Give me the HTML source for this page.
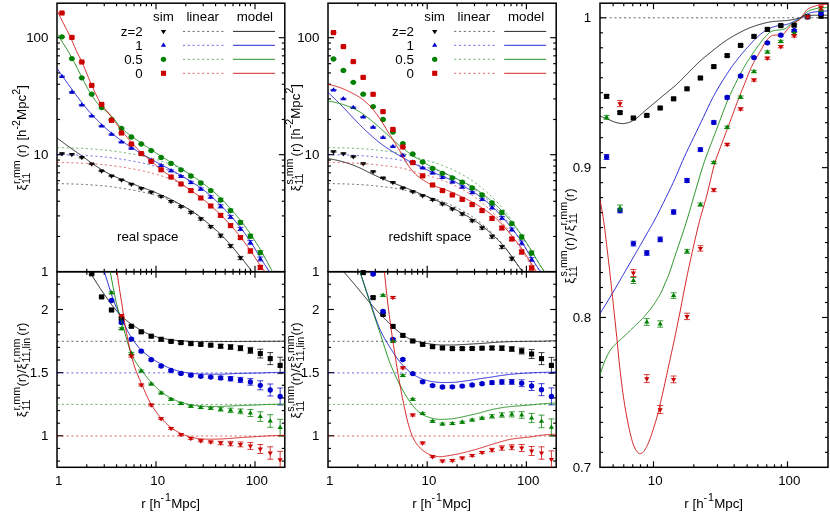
<!DOCTYPE html>
<html lang="en">
<head>
<meta charset="utf-8">
<title>Correlation function comparison</title>
<style>
html,body{margin:0;padding:0;background:#fff;}
body{width:830px;height:515px;overflow:hidden;}
svg{display:block;will-change:transform;}
</style>
</head>
<body>
<svg width="830" height="515" viewBox="0 0 830 515" font-family="Liberation Sans, Arial, Helvetica, sans-serif" fill="#000">
<rect x="0" y="0" width="830" height="515" fill="#fff"/>
<defs>
<clipPath id="c1"><rect x="57" y="3.2" width="227.8" height="268.5"/></clipPath>
<clipPath id="c2"><rect x="328" y="3.2" width="228.2" height="268.5"/></clipPath>
<clipPath id="c3"><rect x="57" y="271.7" width="227.8" height="195.6"/></clipPath>
<clipPath id="c4"><rect x="328" y="271.7" width="228.2" height="195.6"/></clipPath>
<clipPath id="c5"><rect x="600" y="3.2" width="228" height="464.1"/></clipPath>
</defs>
<g stroke="#000" stroke-width="1.15">
<line x1="86.8" y1="271.7" x2="86.8" y2="268.7"/>
<line x1="86.8" y1="3.2" x2="86.8" y2="6.2"/>
<line x1="104.24" y1="271.7" x2="104.24" y2="268.7"/>
<line x1="104.24" y1="3.2" x2="104.24" y2="6.2"/>
<line x1="116.6" y1="271.7" x2="116.6" y2="268.7"/>
<line x1="116.6" y1="3.2" x2="116.6" y2="6.2"/>
<line x1="126.2" y1="271.7" x2="126.2" y2="268.7"/>
<line x1="126.2" y1="3.2" x2="126.2" y2="6.2"/>
<line x1="134.04" y1="271.7" x2="134.04" y2="268.7"/>
<line x1="134.04" y1="3.2" x2="134.04" y2="6.2"/>
<line x1="140.66" y1="271.7" x2="140.66" y2="268.7"/>
<line x1="140.66" y1="3.2" x2="140.66" y2="6.2"/>
<line x1="146.41" y1="271.7" x2="146.41" y2="268.7"/>
<line x1="146.41" y1="3.2" x2="146.41" y2="6.2"/>
<line x1="151.47" y1="271.7" x2="151.47" y2="268.7"/>
<line x1="151.47" y1="3.2" x2="151.47" y2="6.2"/>
<line x1="156" y1="271.7" x2="156" y2="265.7"/>
<line x1="156" y1="3.2" x2="156" y2="9.2"/>
<line x1="185.8" y1="271.7" x2="185.8" y2="268.7"/>
<line x1="185.8" y1="3.2" x2="185.8" y2="6.2"/>
<line x1="203.24" y1="271.7" x2="203.24" y2="268.7"/>
<line x1="203.24" y1="3.2" x2="203.24" y2="6.2"/>
<line x1="215.6" y1="271.7" x2="215.6" y2="268.7"/>
<line x1="215.6" y1="3.2" x2="215.6" y2="6.2"/>
<line x1="225.2" y1="271.7" x2="225.2" y2="268.7"/>
<line x1="225.2" y1="3.2" x2="225.2" y2="6.2"/>
<line x1="233.04" y1="271.7" x2="233.04" y2="268.7"/>
<line x1="233.04" y1="3.2" x2="233.04" y2="6.2"/>
<line x1="239.66" y1="271.7" x2="239.66" y2="268.7"/>
<line x1="239.66" y1="3.2" x2="239.66" y2="6.2"/>
<line x1="245.41" y1="271.7" x2="245.41" y2="268.7"/>
<line x1="245.41" y1="3.2" x2="245.41" y2="6.2"/>
<line x1="250.47" y1="271.7" x2="250.47" y2="268.7"/>
<line x1="250.47" y1="3.2" x2="250.47" y2="6.2"/>
<line x1="255" y1="271.7" x2="255" y2="265.7"/>
<line x1="255" y1="3.2" x2="255" y2="9.2"/>
<line x1="86.8" y1="467.3" x2="86.8" y2="464.3"/>
<line x1="86.8" y1="271.7" x2="86.8" y2="274.7"/>
<line x1="104.24" y1="467.3" x2="104.24" y2="464.3"/>
<line x1="104.24" y1="271.7" x2="104.24" y2="274.7"/>
<line x1="116.6" y1="467.3" x2="116.6" y2="464.3"/>
<line x1="116.6" y1="271.7" x2="116.6" y2="274.7"/>
<line x1="126.2" y1="467.3" x2="126.2" y2="464.3"/>
<line x1="126.2" y1="271.7" x2="126.2" y2="274.7"/>
<line x1="134.04" y1="467.3" x2="134.04" y2="464.3"/>
<line x1="134.04" y1="271.7" x2="134.04" y2="274.7"/>
<line x1="140.66" y1="467.3" x2="140.66" y2="464.3"/>
<line x1="140.66" y1="271.7" x2="140.66" y2="274.7"/>
<line x1="146.41" y1="467.3" x2="146.41" y2="464.3"/>
<line x1="146.41" y1="271.7" x2="146.41" y2="274.7"/>
<line x1="151.47" y1="467.3" x2="151.47" y2="464.3"/>
<line x1="151.47" y1="271.7" x2="151.47" y2="274.7"/>
<line x1="156" y1="467.3" x2="156" y2="461.3"/>
<line x1="156" y1="271.7" x2="156" y2="277.7"/>
<line x1="185.8" y1="467.3" x2="185.8" y2="464.3"/>
<line x1="185.8" y1="271.7" x2="185.8" y2="274.7"/>
<line x1="203.24" y1="467.3" x2="203.24" y2="464.3"/>
<line x1="203.24" y1="271.7" x2="203.24" y2="274.7"/>
<line x1="215.6" y1="467.3" x2="215.6" y2="464.3"/>
<line x1="215.6" y1="271.7" x2="215.6" y2="274.7"/>
<line x1="225.2" y1="467.3" x2="225.2" y2="464.3"/>
<line x1="225.2" y1="271.7" x2="225.2" y2="274.7"/>
<line x1="233.04" y1="467.3" x2="233.04" y2="464.3"/>
<line x1="233.04" y1="271.7" x2="233.04" y2="274.7"/>
<line x1="239.66" y1="467.3" x2="239.66" y2="464.3"/>
<line x1="239.66" y1="271.7" x2="239.66" y2="274.7"/>
<line x1="245.41" y1="467.3" x2="245.41" y2="464.3"/>
<line x1="245.41" y1="271.7" x2="245.41" y2="274.7"/>
<line x1="250.47" y1="467.3" x2="250.47" y2="464.3"/>
<line x1="250.47" y1="271.7" x2="250.47" y2="274.7"/>
<line x1="255" y1="467.3" x2="255" y2="461.3"/>
<line x1="255" y1="271.7" x2="255" y2="277.7"/>
<line x1="357.86" y1="271.7" x2="357.86" y2="268.7"/>
<line x1="357.86" y1="3.2" x2="357.86" y2="6.2"/>
<line x1="375.33" y1="271.7" x2="375.33" y2="268.7"/>
<line x1="375.33" y1="3.2" x2="375.33" y2="6.2"/>
<line x1="387.72" y1="271.7" x2="387.72" y2="268.7"/>
<line x1="387.72" y1="3.2" x2="387.72" y2="6.2"/>
<line x1="397.34" y1="271.7" x2="397.34" y2="268.7"/>
<line x1="397.34" y1="3.2" x2="397.34" y2="6.2"/>
<line x1="405.19" y1="271.7" x2="405.19" y2="268.7"/>
<line x1="405.19" y1="3.2" x2="405.19" y2="6.2"/>
<line x1="411.83" y1="271.7" x2="411.83" y2="268.7"/>
<line x1="411.83" y1="3.2" x2="411.83" y2="6.2"/>
<line x1="417.59" y1="271.7" x2="417.59" y2="268.7"/>
<line x1="417.59" y1="3.2" x2="417.59" y2="6.2"/>
<line x1="422.66" y1="271.7" x2="422.66" y2="268.7"/>
<line x1="422.66" y1="3.2" x2="422.66" y2="6.2"/>
<line x1="427.2" y1="271.7" x2="427.2" y2="265.7"/>
<line x1="427.2" y1="3.2" x2="427.2" y2="9.2"/>
<line x1="457.06" y1="271.7" x2="457.06" y2="268.7"/>
<line x1="457.06" y1="3.2" x2="457.06" y2="6.2"/>
<line x1="474.53" y1="271.7" x2="474.53" y2="268.7"/>
<line x1="474.53" y1="3.2" x2="474.53" y2="6.2"/>
<line x1="486.92" y1="271.7" x2="486.92" y2="268.7"/>
<line x1="486.92" y1="3.2" x2="486.92" y2="6.2"/>
<line x1="496.54" y1="271.7" x2="496.54" y2="268.7"/>
<line x1="496.54" y1="3.2" x2="496.54" y2="6.2"/>
<line x1="504.39" y1="271.7" x2="504.39" y2="268.7"/>
<line x1="504.39" y1="3.2" x2="504.39" y2="6.2"/>
<line x1="511.03" y1="271.7" x2="511.03" y2="268.7"/>
<line x1="511.03" y1="3.2" x2="511.03" y2="6.2"/>
<line x1="516.79" y1="271.7" x2="516.79" y2="268.7"/>
<line x1="516.79" y1="3.2" x2="516.79" y2="6.2"/>
<line x1="521.86" y1="271.7" x2="521.86" y2="268.7"/>
<line x1="521.86" y1="3.2" x2="521.86" y2="6.2"/>
<line x1="526.4" y1="271.7" x2="526.4" y2="265.7"/>
<line x1="526.4" y1="3.2" x2="526.4" y2="9.2"/>
<line x1="357.86" y1="467.3" x2="357.86" y2="464.3"/>
<line x1="357.86" y1="271.7" x2="357.86" y2="274.7"/>
<line x1="375.33" y1="467.3" x2="375.33" y2="464.3"/>
<line x1="375.33" y1="271.7" x2="375.33" y2="274.7"/>
<line x1="387.72" y1="467.3" x2="387.72" y2="464.3"/>
<line x1="387.72" y1="271.7" x2="387.72" y2="274.7"/>
<line x1="397.34" y1="467.3" x2="397.34" y2="464.3"/>
<line x1="397.34" y1="271.7" x2="397.34" y2="274.7"/>
<line x1="405.19" y1="467.3" x2="405.19" y2="464.3"/>
<line x1="405.19" y1="271.7" x2="405.19" y2="274.7"/>
<line x1="411.83" y1="467.3" x2="411.83" y2="464.3"/>
<line x1="411.83" y1="271.7" x2="411.83" y2="274.7"/>
<line x1="417.59" y1="467.3" x2="417.59" y2="464.3"/>
<line x1="417.59" y1="271.7" x2="417.59" y2="274.7"/>
<line x1="422.66" y1="467.3" x2="422.66" y2="464.3"/>
<line x1="422.66" y1="271.7" x2="422.66" y2="274.7"/>
<line x1="427.2" y1="467.3" x2="427.2" y2="461.3"/>
<line x1="427.2" y1="271.7" x2="427.2" y2="277.7"/>
<line x1="457.06" y1="467.3" x2="457.06" y2="464.3"/>
<line x1="457.06" y1="271.7" x2="457.06" y2="274.7"/>
<line x1="474.53" y1="467.3" x2="474.53" y2="464.3"/>
<line x1="474.53" y1="271.7" x2="474.53" y2="274.7"/>
<line x1="486.92" y1="467.3" x2="486.92" y2="464.3"/>
<line x1="486.92" y1="271.7" x2="486.92" y2="274.7"/>
<line x1="496.54" y1="467.3" x2="496.54" y2="464.3"/>
<line x1="496.54" y1="271.7" x2="496.54" y2="274.7"/>
<line x1="504.39" y1="467.3" x2="504.39" y2="464.3"/>
<line x1="504.39" y1="271.7" x2="504.39" y2="274.7"/>
<line x1="511.03" y1="467.3" x2="511.03" y2="464.3"/>
<line x1="511.03" y1="271.7" x2="511.03" y2="274.7"/>
<line x1="516.79" y1="467.3" x2="516.79" y2="464.3"/>
<line x1="516.79" y1="271.7" x2="516.79" y2="274.7"/>
<line x1="521.86" y1="467.3" x2="521.86" y2="464.3"/>
<line x1="521.86" y1="271.7" x2="521.86" y2="274.7"/>
<line x1="526.4" y1="467.3" x2="526.4" y2="461.3"/>
<line x1="526.4" y1="271.7" x2="526.4" y2="277.7"/>
<line x1="613.16" y1="467.3" x2="613.16" y2="464.3"/>
<line x1="613.16" y1="3.2" x2="613.16" y2="6.2"/>
<line x1="623.77" y1="467.3" x2="623.77" y2="464.3"/>
<line x1="623.77" y1="3.2" x2="623.77" y2="6.2"/>
<line x1="632.74" y1="467.3" x2="632.74" y2="464.3"/>
<line x1="632.74" y1="3.2" x2="632.74" y2="6.2"/>
<line x1="640.51" y1="467.3" x2="640.51" y2="464.3"/>
<line x1="640.51" y1="3.2" x2="640.51" y2="6.2"/>
<line x1="647.37" y1="467.3" x2="647.37" y2="464.3"/>
<line x1="647.37" y1="3.2" x2="647.37" y2="6.2"/>
<line x1="653.5" y1="467.3" x2="653.5" y2="461.3"/>
<line x1="653.5" y1="3.2" x2="653.5" y2="9.2"/>
<line x1="693.84" y1="467.3" x2="693.84" y2="464.3"/>
<line x1="693.84" y1="3.2" x2="693.84" y2="6.2"/>
<line x1="717.43" y1="467.3" x2="717.43" y2="464.3"/>
<line x1="717.43" y1="3.2" x2="717.43" y2="6.2"/>
<line x1="734.18" y1="467.3" x2="734.18" y2="464.3"/>
<line x1="734.18" y1="3.2" x2="734.18" y2="6.2"/>
<line x1="747.16" y1="467.3" x2="747.16" y2="464.3"/>
<line x1="747.16" y1="3.2" x2="747.16" y2="6.2"/>
<line x1="757.77" y1="467.3" x2="757.77" y2="464.3"/>
<line x1="757.77" y1="3.2" x2="757.77" y2="6.2"/>
<line x1="766.74" y1="467.3" x2="766.74" y2="464.3"/>
<line x1="766.74" y1="3.2" x2="766.74" y2="6.2"/>
<line x1="774.51" y1="467.3" x2="774.51" y2="464.3"/>
<line x1="774.51" y1="3.2" x2="774.51" y2="6.2"/>
<line x1="781.37" y1="467.3" x2="781.37" y2="464.3"/>
<line x1="781.37" y1="3.2" x2="781.37" y2="6.2"/>
<line x1="787.5" y1="467.3" x2="787.5" y2="461.3"/>
<line x1="787.5" y1="3.2" x2="787.5" y2="9.2"/>
<line x1="57" y1="236.48" x2="60" y2="236.48"/>
<line x1="284.8" y1="236.48" x2="281.8" y2="236.48"/>
<line x1="57" y1="215.88" x2="60" y2="215.88"/>
<line x1="284.8" y1="215.88" x2="281.8" y2="215.88"/>
<line x1="57" y1="201.26" x2="60" y2="201.26"/>
<line x1="284.8" y1="201.26" x2="281.8" y2="201.26"/>
<line x1="57" y1="189.92" x2="60" y2="189.92"/>
<line x1="284.8" y1="189.92" x2="281.8" y2="189.92"/>
<line x1="57" y1="180.66" x2="60" y2="180.66"/>
<line x1="284.8" y1="180.66" x2="281.8" y2="180.66"/>
<line x1="57" y1="172.82" x2="60" y2="172.82"/>
<line x1="284.8" y1="172.82" x2="281.8" y2="172.82"/>
<line x1="57" y1="166.04" x2="60" y2="166.04"/>
<line x1="284.8" y1="166.04" x2="281.8" y2="166.04"/>
<line x1="57" y1="160.05" x2="60" y2="160.05"/>
<line x1="284.8" y1="160.05" x2="281.8" y2="160.05"/>
<line x1="57" y1="154.7" x2="63" y2="154.7"/>
<line x1="284.8" y1="154.7" x2="278.8" y2="154.7"/>
<line x1="57" y1="119.48" x2="60" y2="119.48"/>
<line x1="284.8" y1="119.48" x2="281.8" y2="119.48"/>
<line x1="57" y1="98.88" x2="60" y2="98.88"/>
<line x1="284.8" y1="98.88" x2="281.8" y2="98.88"/>
<line x1="57" y1="84.26" x2="60" y2="84.26"/>
<line x1="284.8" y1="84.26" x2="281.8" y2="84.26"/>
<line x1="57" y1="72.92" x2="60" y2="72.92"/>
<line x1="284.8" y1="72.92" x2="281.8" y2="72.92"/>
<line x1="57" y1="63.66" x2="60" y2="63.66"/>
<line x1="284.8" y1="63.66" x2="281.8" y2="63.66"/>
<line x1="57" y1="55.82" x2="60" y2="55.82"/>
<line x1="284.8" y1="55.82" x2="281.8" y2="55.82"/>
<line x1="57" y1="49.04" x2="60" y2="49.04"/>
<line x1="284.8" y1="49.04" x2="281.8" y2="49.04"/>
<line x1="57" y1="43.05" x2="60" y2="43.05"/>
<line x1="284.8" y1="43.05" x2="281.8" y2="43.05"/>
<line x1="57" y1="37.7" x2="63" y2="37.7"/>
<line x1="284.8" y1="37.7" x2="278.8" y2="37.7"/>
<line x1="328" y1="236.48" x2="331" y2="236.48"/>
<line x1="556.2" y1="236.48" x2="553.2" y2="236.48"/>
<line x1="328" y1="215.88" x2="331" y2="215.88"/>
<line x1="556.2" y1="215.88" x2="553.2" y2="215.88"/>
<line x1="328" y1="201.26" x2="331" y2="201.26"/>
<line x1="556.2" y1="201.26" x2="553.2" y2="201.26"/>
<line x1="328" y1="189.92" x2="331" y2="189.92"/>
<line x1="556.2" y1="189.92" x2="553.2" y2="189.92"/>
<line x1="328" y1="180.66" x2="331" y2="180.66"/>
<line x1="556.2" y1="180.66" x2="553.2" y2="180.66"/>
<line x1="328" y1="172.82" x2="331" y2="172.82"/>
<line x1="556.2" y1="172.82" x2="553.2" y2="172.82"/>
<line x1="328" y1="166.04" x2="331" y2="166.04"/>
<line x1="556.2" y1="166.04" x2="553.2" y2="166.04"/>
<line x1="328" y1="160.05" x2="331" y2="160.05"/>
<line x1="556.2" y1="160.05" x2="553.2" y2="160.05"/>
<line x1="328" y1="154.7" x2="334" y2="154.7"/>
<line x1="556.2" y1="154.7" x2="550.2" y2="154.7"/>
<line x1="328" y1="119.48" x2="331" y2="119.48"/>
<line x1="556.2" y1="119.48" x2="553.2" y2="119.48"/>
<line x1="328" y1="98.88" x2="331" y2="98.88"/>
<line x1="556.2" y1="98.88" x2="553.2" y2="98.88"/>
<line x1="328" y1="84.26" x2="331" y2="84.26"/>
<line x1="556.2" y1="84.26" x2="553.2" y2="84.26"/>
<line x1="328" y1="72.92" x2="331" y2="72.92"/>
<line x1="556.2" y1="72.92" x2="553.2" y2="72.92"/>
<line x1="328" y1="63.66" x2="331" y2="63.66"/>
<line x1="556.2" y1="63.66" x2="553.2" y2="63.66"/>
<line x1="328" y1="55.82" x2="331" y2="55.82"/>
<line x1="556.2" y1="55.82" x2="553.2" y2="55.82"/>
<line x1="328" y1="49.04" x2="331" y2="49.04"/>
<line x1="556.2" y1="49.04" x2="553.2" y2="49.04"/>
<line x1="328" y1="43.05" x2="331" y2="43.05"/>
<line x1="556.2" y1="43.05" x2="553.2" y2="43.05"/>
<line x1="328" y1="37.7" x2="334" y2="37.7"/>
<line x1="556.2" y1="37.7" x2="550.2" y2="37.7"/>
<line x1="57" y1="461.06" x2="60" y2="461.06"/>
<line x1="284.8" y1="461.06" x2="281.8" y2="461.06"/>
<line x1="57" y1="448.43" x2="60" y2="448.43"/>
<line x1="284.8" y1="448.43" x2="281.8" y2="448.43"/>
<line x1="57" y1="435.8" x2="63" y2="435.8"/>
<line x1="284.8" y1="435.8" x2="278.8" y2="435.8"/>
<line x1="57" y1="423.17" x2="60" y2="423.17"/>
<line x1="284.8" y1="423.17" x2="281.8" y2="423.17"/>
<line x1="57" y1="410.54" x2="60" y2="410.54"/>
<line x1="284.8" y1="410.54" x2="281.8" y2="410.54"/>
<line x1="57" y1="397.91" x2="60" y2="397.91"/>
<line x1="284.8" y1="397.91" x2="281.8" y2="397.91"/>
<line x1="57" y1="385.28" x2="60" y2="385.28"/>
<line x1="284.8" y1="385.28" x2="281.8" y2="385.28"/>
<line x1="57" y1="372.65" x2="63" y2="372.65"/>
<line x1="284.8" y1="372.65" x2="278.8" y2="372.65"/>
<line x1="57" y1="360.02" x2="60" y2="360.02"/>
<line x1="284.8" y1="360.02" x2="281.8" y2="360.02"/>
<line x1="57" y1="347.39" x2="60" y2="347.39"/>
<line x1="284.8" y1="347.39" x2="281.8" y2="347.39"/>
<line x1="57" y1="334.76" x2="60" y2="334.76"/>
<line x1="284.8" y1="334.76" x2="281.8" y2="334.76"/>
<line x1="57" y1="322.13" x2="60" y2="322.13"/>
<line x1="284.8" y1="322.13" x2="281.8" y2="322.13"/>
<line x1="57" y1="309.5" x2="63" y2="309.5"/>
<line x1="284.8" y1="309.5" x2="278.8" y2="309.5"/>
<line x1="57" y1="296.87" x2="60" y2="296.87"/>
<line x1="284.8" y1="296.87" x2="281.8" y2="296.87"/>
<line x1="57" y1="284.24" x2="60" y2="284.24"/>
<line x1="284.8" y1="284.24" x2="281.8" y2="284.24"/>
<line x1="328" y1="461.06" x2="331" y2="461.06"/>
<line x1="556.2" y1="461.06" x2="553.2" y2="461.06"/>
<line x1="328" y1="448.43" x2="331" y2="448.43"/>
<line x1="556.2" y1="448.43" x2="553.2" y2="448.43"/>
<line x1="328" y1="435.8" x2="334" y2="435.8"/>
<line x1="556.2" y1="435.8" x2="550.2" y2="435.8"/>
<line x1="328" y1="423.17" x2="331" y2="423.17"/>
<line x1="556.2" y1="423.17" x2="553.2" y2="423.17"/>
<line x1="328" y1="410.54" x2="331" y2="410.54"/>
<line x1="556.2" y1="410.54" x2="553.2" y2="410.54"/>
<line x1="328" y1="397.91" x2="331" y2="397.91"/>
<line x1="556.2" y1="397.91" x2="553.2" y2="397.91"/>
<line x1="328" y1="385.28" x2="331" y2="385.28"/>
<line x1="556.2" y1="385.28" x2="553.2" y2="385.28"/>
<line x1="328" y1="372.65" x2="334" y2="372.65"/>
<line x1="556.2" y1="372.65" x2="550.2" y2="372.65"/>
<line x1="328" y1="360.02" x2="331" y2="360.02"/>
<line x1="556.2" y1="360.02" x2="553.2" y2="360.02"/>
<line x1="328" y1="347.39" x2="331" y2="347.39"/>
<line x1="556.2" y1="347.39" x2="553.2" y2="347.39"/>
<line x1="328" y1="334.76" x2="331" y2="334.76"/>
<line x1="556.2" y1="334.76" x2="553.2" y2="334.76"/>
<line x1="328" y1="322.13" x2="331" y2="322.13"/>
<line x1="556.2" y1="322.13" x2="553.2" y2="322.13"/>
<line x1="328" y1="309.5" x2="334" y2="309.5"/>
<line x1="556.2" y1="309.5" x2="550.2" y2="309.5"/>
<line x1="328" y1="296.87" x2="331" y2="296.87"/>
<line x1="556.2" y1="296.87" x2="553.2" y2="296.87"/>
<line x1="328" y1="284.24" x2="331" y2="284.24"/>
<line x1="556.2" y1="284.24" x2="553.2" y2="284.24"/>
<line x1="600" y1="452.32" x2="603" y2="452.32"/>
<line x1="828" y1="452.32" x2="825" y2="452.32"/>
<line x1="600" y1="437.33" x2="603" y2="437.33"/>
<line x1="828" y1="437.33" x2="825" y2="437.33"/>
<line x1="600" y1="422.35" x2="603" y2="422.35"/>
<line x1="828" y1="422.35" x2="825" y2="422.35"/>
<line x1="600" y1="407.37" x2="603" y2="407.37"/>
<line x1="828" y1="407.37" x2="825" y2="407.37"/>
<line x1="600" y1="392.38" x2="603" y2="392.38"/>
<line x1="828" y1="392.38" x2="825" y2="392.38"/>
<line x1="600" y1="377.4" x2="603" y2="377.4"/>
<line x1="828" y1="377.4" x2="825" y2="377.4"/>
<line x1="600" y1="362.42" x2="603" y2="362.42"/>
<line x1="828" y1="362.42" x2="825" y2="362.42"/>
<line x1="600" y1="347.44" x2="603" y2="347.44"/>
<line x1="828" y1="347.44" x2="825" y2="347.44"/>
<line x1="600" y1="332.45" x2="603" y2="332.45"/>
<line x1="828" y1="332.45" x2="825" y2="332.45"/>
<line x1="600" y1="317.47" x2="606" y2="317.47"/>
<line x1="828" y1="317.47" x2="822" y2="317.47"/>
<line x1="600" y1="302.49" x2="603" y2="302.49"/>
<line x1="828" y1="302.49" x2="825" y2="302.49"/>
<line x1="600" y1="287.5" x2="603" y2="287.5"/>
<line x1="828" y1="287.5" x2="825" y2="287.5"/>
<line x1="600" y1="272.52" x2="603" y2="272.52"/>
<line x1="828" y1="272.52" x2="825" y2="272.52"/>
<line x1="600" y1="257.54" x2="603" y2="257.54"/>
<line x1="828" y1="257.54" x2="825" y2="257.54"/>
<line x1="600" y1="242.55" x2="603" y2="242.55"/>
<line x1="828" y1="242.55" x2="825" y2="242.55"/>
<line x1="600" y1="227.57" x2="603" y2="227.57"/>
<line x1="828" y1="227.57" x2="825" y2="227.57"/>
<line x1="600" y1="212.59" x2="603" y2="212.59"/>
<line x1="828" y1="212.59" x2="825" y2="212.59"/>
<line x1="600" y1="197.61" x2="603" y2="197.61"/>
<line x1="828" y1="197.61" x2="825" y2="197.61"/>
<line x1="600" y1="182.62" x2="603" y2="182.62"/>
<line x1="828" y1="182.62" x2="825" y2="182.62"/>
<line x1="600" y1="167.64" x2="606" y2="167.64"/>
<line x1="828" y1="167.64" x2="822" y2="167.64"/>
<line x1="600" y1="152.66" x2="603" y2="152.66"/>
<line x1="828" y1="152.66" x2="825" y2="152.66"/>
<line x1="600" y1="137.67" x2="603" y2="137.67"/>
<line x1="828" y1="137.67" x2="825" y2="137.67"/>
<line x1="600" y1="122.69" x2="603" y2="122.69"/>
<line x1="828" y1="122.69" x2="825" y2="122.69"/>
<line x1="600" y1="107.71" x2="603" y2="107.71"/>
<line x1="828" y1="107.71" x2="825" y2="107.71"/>
<line x1="600" y1="92.73" x2="603" y2="92.73"/>
<line x1="828" y1="92.73" x2="825" y2="92.73"/>
<line x1="600" y1="77.74" x2="603" y2="77.74"/>
<line x1="828" y1="77.74" x2="825" y2="77.74"/>
<line x1="600" y1="62.76" x2="603" y2="62.76"/>
<line x1="828" y1="62.76" x2="825" y2="62.76"/>
<line x1="600" y1="47.78" x2="603" y2="47.78"/>
<line x1="828" y1="47.78" x2="825" y2="47.78"/>
<line x1="600" y1="32.79" x2="603" y2="32.79"/>
<line x1="828" y1="32.79" x2="825" y2="32.79"/>
<line x1="600" y1="17.81" x2="606" y2="17.81"/>
<line x1="828" y1="17.81" x2="822" y2="17.81"/>
</g>
<rect x="57" y="3.2" width="227.8" height="268.5" fill="none" stroke="#000" stroke-width="1.5"/>
<rect x="328" y="3.2" width="228.2" height="268.5" fill="none" stroke="#000" stroke-width="1.5"/>
<rect x="57" y="271.7" width="227.8" height="195.6" fill="none" stroke="#000" stroke-width="1.5"/>
<rect x="328" y="271.7" width="228.2" height="195.6" fill="none" stroke="#000" stroke-width="1.5"/>
<rect x="600" y="3.2" width="228" height="464.1" fill="none" stroke="#000" stroke-width="1.5"/>
<g id="panel1">
<path clip-path="url(#c1)" d="M61.95 153.05V154.15M58.95 153.05H64.95M58.95 154.15H64.95" stroke="#000000" stroke-width="0.75" fill="none"/>
<path clip-path="url(#c1)" d="M71.87 153.85V154.95M68.87 153.85H74.87M68.87 154.95H74.87" stroke="#000000" stroke-width="0.75" fill="none"/>
<path clip-path="url(#c1)" d="M81.79 156.85V157.95M78.79 156.85H84.79M78.79 157.95H84.79" stroke="#000000" stroke-width="0.75" fill="none"/>
<path clip-path="url(#c1)" d="M91.7 163.45V164.55M88.7 163.45H94.7M88.7 164.55H94.7" stroke="#000000" stroke-width="0.75" fill="none"/>
<path clip-path="url(#c1)" d="M101.62 170.45V171.55M98.62 170.45H104.62M98.62 171.55H104.62" stroke="#000000" stroke-width="0.75" fill="none"/>
<path clip-path="url(#c1)" d="M111.54 175.45V176.55M108.54 175.45H114.54M108.54 176.55H114.54" stroke="#000000" stroke-width="0.75" fill="none"/>
<path clip-path="url(#c1)" d="M121.46 179.45V180.55M118.46 179.45H124.46M118.46 180.55H124.46" stroke="#000000" stroke-width="0.75" fill="none"/>
<path clip-path="url(#c1)" d="M131.38 183.65V184.75M128.38 183.65H134.38M128.38 184.75H134.38" stroke="#000000" stroke-width="0.75" fill="none"/>
<path clip-path="url(#c1)" d="M141.29 187.85V188.95M138.29 187.85H144.29M138.29 188.95H144.29" stroke="#000000" stroke-width="0.75" fill="none"/>
<path clip-path="url(#c1)" d="M151.21 191.65V192.75M148.21 191.65H154.21M148.21 192.75H154.21" stroke="#000000" stroke-width="0.75" fill="none"/>
<path clip-path="url(#c1)" d="M161.13 195.5V197.3M158.13 195.5H164.13M158.13 197.3H164.13" stroke="#000000" stroke-width="0.75" fill="none"/>
<path clip-path="url(#c1)" d="M171.05 200.5V202.3M168.05 200.5H174.05M168.05 202.3H174.05" stroke="#000000" stroke-width="0.75" fill="none"/>
<path clip-path="url(#c1)" d="M180.97 205.7V207.5M177.97 205.7H183.97M177.97 207.5H183.97" stroke="#000000" stroke-width="0.75" fill="none"/>
<path clip-path="url(#c1)" d="M190.88 211.2V213.6M187.88 211.2H193.88M187.88 213.6H193.88" stroke="#000000" stroke-width="0.75" fill="none"/>
<path clip-path="url(#c1)" d="M200.8 217.8V220.2M197.8 217.8H203.8M197.8 220.2H203.8" stroke="#000000" stroke-width="0.75" fill="none"/>
<path clip-path="url(#c1)" d="M210.72 225.4V227.8M207.72 225.4H213.72M207.72 227.8H213.72" stroke="#000000" stroke-width="0.75" fill="none"/>
<path clip-path="url(#c1)" d="M220.64 234V237.2M217.64 234H223.64M217.64 237.2H223.64" stroke="#000000" stroke-width="0.75" fill="none"/>
<path clip-path="url(#c1)" d="M230.56 244.4V247.6M227.56 244.4H233.56M227.56 247.6H233.56" stroke="#000000" stroke-width="0.75" fill="none"/>
<path clip-path="url(#c1)" d="M240.47 256.4V259.6M237.47 256.4H243.47M237.47 259.6H243.47" stroke="#000000" stroke-width="0.75" fill="none"/>
<polygon points="61.95,156.45 59.3,152.15 64.6,152.15" fill="#000000"/>
<polygon points="71.87,157.25 69.22,152.95 74.52,152.95" fill="#000000"/>
<polygon points="81.79,160.25 79.14,155.95 84.44,155.95" fill="#000000"/>
<polygon points="91.7,166.85 89.05,162.55 94.35,162.55" fill="#000000"/>
<polygon points="101.62,173.85 98.97,169.55 104.27,169.55" fill="#000000"/>
<polygon points="111.54,178.85 108.89,174.55 114.19,174.55" fill="#000000"/>
<polygon points="121.46,182.85 118.81,178.55 124.11,178.55" fill="#000000"/>
<polygon points="131.38,187.05 128.73,182.75 134.03,182.75" fill="#000000"/>
<polygon points="141.29,191.25 138.64,186.95 143.94,186.95" fill="#000000"/>
<polygon points="151.21,195.05 148.56,190.75 153.86,190.75" fill="#000000"/>
<polygon points="161.13,199.25 158.48,194.95 163.78,194.95" fill="#000000"/>
<polygon points="171.05,204.25 168.4,199.95 173.7,199.95" fill="#000000"/>
<polygon points="180.97,209.45 178.32,205.15 183.62,205.15" fill="#000000"/>
<polygon points="190.88,215.25 188.23,210.95 193.53,210.95" fill="#000000"/>
<polygon points="200.8,221.85 198.15,217.55 203.45,217.55" fill="#000000"/>
<polygon points="210.72,229.45 208.07,225.15 213.37,225.15" fill="#000000"/>
<polygon points="220.64,238.45 217.99,234.15 223.29,234.15" fill="#000000"/>
<polygon points="230.56,248.85 227.91,244.55 233.21,244.55" fill="#000000"/>
<polygon points="240.47,260.85 237.82,256.55 243.12,256.55" fill="#000000"/>
<polyline clip-path="url(#c1)" fill="none" stroke="#000000" stroke-width="0.6" stroke-dasharray="2.1 2.7" points="57,183.6 57.6,183.61 58.2,183.62 58.8,183.63 59.4,183.64 60,183.65 60.61,183.66 61.21,183.67 61.81,183.69 62.41,183.7 63.01,183.71 63.61,183.73 64.21,183.74 64.81,183.76 65.41,183.77 66.01,183.79 66.61,183.8 67.21,183.82 67.82,183.84 68.42,183.85 69.02,183.87 69.62,183.89 70.22,183.91 70.82,183.92 71.42,183.94 72.02,183.96 72.62,183.98 73.22,184 73.82,184.03 74.42,184.05 75.03,184.07 75.63,184.09 76.23,184.12 76.83,184.14 77.43,184.16 78.03,184.19 78.63,184.21 79.23,184.24 79.83,184.27 80.43,184.29 81.03,184.32 81.63,184.35 82.24,184.38 82.84,184.41 83.44,184.44 84.04,184.47 84.64,184.5 85.24,184.53 85.84,184.56 86.44,184.6 87.04,184.63 87.64,184.66 88.24,184.7 88.84,184.73 89.45,184.77 90.05,184.8 90.65,184.84 91.25,184.88 91.85,184.92 92.45,184.96 93.05,185 93.65,185.04 94.25,185.09 94.85,185.13 95.45,185.18 96.05,185.23 96.66,185.28 97.26,185.33 97.86,185.38 98.46,185.43 99.06,185.48 99.66,185.54 100.26,185.59 100.86,185.65 101.46,185.71 102.06,185.76 102.66,185.82 103.26,185.88 103.87,185.94 104.47,186 105.07,186.07 105.67,186.13 106.27,186.19 106.87,186.26 107.47,186.32 108.07,186.39 108.67,186.45 109.27,186.52 109.87,186.59 110.47,186.65 111.08,186.72 111.68,186.8 112.28,186.87 112.88,186.94 113.48,187.02 114.08,187.1 114.68,187.18 115.28,187.26 115.88,187.34 116.48,187.43 117.08,187.51 117.68,187.6 118.29,187.69 118.89,187.78 119.49,187.87 120.09,187.96 120.69,188.05 121.29,188.14 121.89,188.24 122.49,188.33 123.09,188.43 123.69,188.53 124.29,188.63 124.89,188.73 125.5,188.83 126.1,188.93 126.7,189.03 127.3,189.13 127.9,189.24 128.5,189.34 129.1,189.44 129.7,189.55 130.3,189.65 130.9,189.76 131.5,189.87 132.11,189.97 132.71,190.08 133.31,190.19 133.91,190.3 134.51,190.41 135.11,190.53 135.71,190.64 136.31,190.76 136.91,190.87 137.51,190.99 138.11,191.11 138.71,191.23 139.32,191.35 139.92,191.47 140.52,191.6 141.12,191.73 141.72,191.85 142.32,191.98 142.92,192.11 143.52,192.25 144.12,192.38 144.72,192.52 145.32,192.66 145.92,192.8 146.53,192.94 147.13,193.08 147.73,193.23 148.33,193.38 148.93,193.53 149.53,193.68 150.13,193.83 150.73,193.99 151.33,194.15 151.93,194.31 152.53,194.47 153.13,194.64 153.74,194.8 154.34,194.97 154.94,195.14 155.54,195.32 156.14,195.49 156.74,195.67 157.34,195.85 157.94,196.03 158.54,196.21 159.14,196.4 159.74,196.59 160.34,196.78 160.95,196.97 161.55,197.16 162.15,197.36 162.75,197.56 163.35,197.76 163.95,197.96 164.55,198.17 165.15,198.38 165.75,198.59 166.35,198.8 166.95,199.02 167.55,199.23 168.16,199.45 168.76,199.68 169.36,199.9 169.96,200.13 170.56,200.36 171.16,200.59 171.76,200.82 172.36,201.06 172.96,201.3 173.56,201.54 174.16,201.79 174.76,202.04 175.37,202.29 175.97,202.54 176.57,202.79 177.17,203.05 177.77,203.31 178.37,203.57 178.97,203.84 179.57,204.11 180.17,204.38 180.77,204.66 181.37,204.95 181.97,205.26 182.58,205.58 183.18,205.9 183.78,206.24 184.38,206.58 184.98,206.93 185.58,207.28 186.18,207.64 186.78,208.01 187.38,208.38 187.98,208.75 188.58,209.12 189.18,209.49 189.79,209.87 190.39,210.24 190.99,210.62 191.59,211 192.19,211.39 192.79,211.78 193.39,212.18 193.99,212.58 194.59,212.98 195.19,213.39 195.79,213.8 196.39,214.22 197,214.64 197.6,215.06 198.2,215.49 198.8,215.92 199.4,216.36 200,216.8"/>
<polyline clip-path="url(#c1)" fill="none" stroke="#000000" stroke-width="0.85" points="57,138 57.6,138.45 58.2,138.9 58.8,139.35 59.4,139.8 60.01,140.25 60.61,140.7 61.21,141.15 61.81,141.59 62.41,142.04 63.01,142.48 63.61,142.92 64.21,143.36 64.82,143.8 65.42,144.24 66.02,144.68 66.62,145.12 67.22,145.56 67.82,145.99 68.42,146.43 69.02,146.86 69.63,147.3 70.23,147.73 70.83,148.16 71.43,148.59 72.03,149.02 72.63,149.45 73.23,149.88 73.83,150.3 74.44,150.72 75.04,151.14 75.64,151.56 76.24,151.97 76.84,152.39 77.44,152.81 78.04,153.22 78.64,153.64 79.25,154.06 79.85,154.48 80.45,154.9 81.05,155.32 81.65,155.75 82.25,156.18 82.85,156.61 83.45,157.05 84.06,157.49 84.66,157.94 85.26,158.38 85.86,158.83 86.46,159.27 87.06,159.72 87.66,160.16 88.26,160.61 88.87,161.05 89.47,161.49 90.07,161.92 90.67,162.35 91.27,162.77 91.87,163.19 92.47,163.6 93.07,164.02 93.68,164.43 94.28,164.85 94.88,165.26 95.48,165.66 96.08,166.07 96.68,166.47 97.28,166.87 97.88,167.26 98.49,167.65 99.09,168.04 99.69,168.42 100.29,168.8 100.89,169.17 101.49,169.53 102.09,169.89 102.69,170.25 103.3,170.61 103.9,170.96 104.5,171.3 105.1,171.65 105.7,171.99 106.3,172.33 106.9,172.66 107.5,172.99 108.1,173.31 108.71,173.63 109.31,173.94 109.91,174.25 110.51,174.56 111.11,174.86 111.71,175.15 112.31,175.44 112.91,175.72 113.52,176 114.12,176.28 114.72,176.55 115.32,176.81 115.92,177.07 116.52,177.34 117.12,177.59 117.72,177.85 118.33,178.1 118.93,178.36 119.53,178.61 120.13,178.86 120.73,179.12 121.33,179.37 121.93,179.63 122.53,179.88 123.14,180.13 123.74,180.38 124.34,180.63 124.94,180.88 125.54,181.13 126.14,181.38 126.74,181.63 127.34,181.87 127.95,182.11 128.55,182.36 129.15,182.6 129.75,182.83 130.35,183.07 130.95,183.3 131.55,183.54 132.15,183.77 132.76,183.99 133.36,184.22 133.96,184.44 134.56,184.66 135.16,184.88 135.76,185.1 136.36,185.32 136.96,185.54 137.57,185.75 138.17,185.97 138.77,186.19 139.37,186.41 139.97,186.62 140.57,186.84 141.17,187.06 141.77,187.28 142.38,187.5 142.98,187.72 143.58,187.93 144.18,188.15 144.78,188.36 145.38,188.58 145.98,188.8 146.58,189.02 147.19,189.24 147.79,189.46 148.39,189.68 148.99,189.91 149.59,190.14 150.19,190.37 150.79,190.61 151.39,190.85 152,191.1 152.6,191.34 153.2,191.59 153.8,191.84 154.4,192.09 155,192.35 155.6,192.6 156.2,192.86 156.8,193.12 157.41,193.38 158.01,193.64 158.61,193.9 159.21,194.16 159.81,194.42 160.41,194.68 161.01,194.94 161.61,195.2 162.22,195.46 162.82,195.72 163.42,195.99 164.02,196.25 164.62,196.52 165.22,196.78 165.82,197.05 166.42,197.32 167.03,197.6 167.63,197.87 168.23,198.15 168.83,198.44 169.43,198.72 170.03,199.02 170.63,199.31 171.23,199.61 171.84,199.91 172.44,200.22 173.04,200.53 173.64,200.85 174.24,201.17 174.84,201.49 175.44,201.81 176.04,202.13 176.65,202.46 177.25,202.79 177.85,203.12 178.45,203.45 179.05,203.78 179.65,204.11 180.25,204.44 180.85,204.77 181.46,205.1 182.06,205.43 182.66,205.76 183.26,206.09 183.86,206.42 184.46,206.76 185.06,207.1 185.66,207.44 186.27,207.78 186.87,208.13 187.47,208.48 188.07,208.83 188.67,209.19 189.27,209.55 189.87,209.92 190.47,210.3 191.08,210.67 191.68,211.06 192.28,211.44 192.88,211.83 193.48,212.23 194.08,212.63 194.68,213.03 195.28,213.44 195.89,213.85 196.49,214.27 197.09,214.69 197.69,215.12 198.29,215.55 198.89,215.98 199.49,216.42 200.09,216.87 200.7,217.32 201.3,217.78 201.9,218.25 202.5,218.73 203.1,219.21 203.7,219.7 204.3,220.2 204.9,220.69 205.5,221.2 206.11,221.7 206.71,222.21 207.31,222.72 207.91,223.23 208.51,223.74 209.11,224.25 209.71,224.76 210.31,225.27 210.92,225.77 211.52,226.28 212.12,226.78 212.72,227.28 213.32,227.79 213.92,228.29 214.52,228.8 215.12,229.32 215.73,229.83 216.33,230.36 216.93,230.88 217.53,231.42 218.13,231.96 218.73,232.51 219.33,233.07 219.93,233.64 220.54,234.22 221.14,234.81 221.74,235.4 222.34,236.01 222.94,236.63 223.54,237.25 224.14,237.88 224.74,238.52 225.35,239.16 225.95,239.81 226.55,240.47 227.15,241.13 227.75,241.79 228.35,242.46 228.95,243.13 229.55,243.8 230.16,244.47 230.76,245.15 231.36,245.84 231.96,246.53 232.56,247.23 233.16,247.93 233.76,248.64 234.36,249.35 234.97,250.07 235.57,250.79 236.17,251.51 236.77,252.24 237.37,252.97 237.97,253.71 238.57,254.44 239.17,255.18 239.78,255.92 240.38,256.66 240.98,257.4 241.58,258.14 242.18,258.88 242.78,259.62 243.38,260.36 243.98,261.11 244.59,261.86 245.19,262.62 245.79,263.38 246.39,264.15 246.99,264.93 247.59,265.72 248.19,266.52 248.79,267.33 249.4,268.16 250,268.99 250.6,269.87 251.2,270.78 251.8,271.7"/>
<path clip-path="url(#c1)" d="M61.95 76.05V77.15M58.95 76.05H64.95M58.95 77.15H64.95" stroke="#0000cc" stroke-width="0.75" fill="none"/>
<path clip-path="url(#c1)" d="M71.87 91.65V92.75M68.87 91.65H74.87M68.87 92.75H74.87" stroke="#0000cc" stroke-width="0.75" fill="none"/>
<path clip-path="url(#c1)" d="M81.79 104.45V105.55M78.79 104.45H84.79M78.79 105.55H84.79" stroke="#0000cc" stroke-width="0.75" fill="none"/>
<path clip-path="url(#c1)" d="M91.7 115.45V116.55M88.7 115.45H94.7M88.7 116.55H94.7" stroke="#0000cc" stroke-width="0.75" fill="none"/>
<path clip-path="url(#c1)" d="M101.62 125.45V126.55M98.62 125.45H104.62M98.62 126.55H104.62" stroke="#0000cc" stroke-width="0.75" fill="none"/>
<path clip-path="url(#c1)" d="M111.54 133.85V134.95M108.54 133.85H114.54M108.54 134.95H114.54" stroke="#0000cc" stroke-width="0.75" fill="none"/>
<path clip-path="url(#c1)" d="M121.46 141.45V142.55M118.46 141.45H124.46M118.46 142.55H124.46" stroke="#0000cc" stroke-width="0.75" fill="none"/>
<path clip-path="url(#c1)" d="M131.38 147.85V148.95M128.38 147.85H134.38M128.38 148.95H134.38" stroke="#0000cc" stroke-width="0.75" fill="none"/>
<path clip-path="url(#c1)" d="M141.29 153.05V154.15M138.29 153.05H144.29M138.29 154.15H144.29" stroke="#0000cc" stroke-width="0.75" fill="none"/>
<path clip-path="url(#c1)" d="M151.21 159.85V160.95M148.21 159.85H154.21M148.21 160.95H154.21" stroke="#0000cc" stroke-width="0.75" fill="none"/>
<path clip-path="url(#c1)" d="M161.13 164.7V166.5M158.13 164.7H164.13M158.13 166.5H164.13" stroke="#0000cc" stroke-width="0.75" fill="none"/>
<path clip-path="url(#c1)" d="M171.05 169.9V171.7M168.05 169.9H174.05M168.05 171.7H174.05" stroke="#0000cc" stroke-width="0.75" fill="none"/>
<path clip-path="url(#c1)" d="M180.97 175.5V177.3M177.97 175.5H183.97M177.97 177.3H183.97" stroke="#0000cc" stroke-width="0.75" fill="none"/>
<path clip-path="url(#c1)" d="M190.88 181.3V183.7M187.88 181.3H193.88M187.88 183.7H193.88" stroke="#0000cc" stroke-width="0.75" fill="none"/>
<path clip-path="url(#c1)" d="M200.8 187.9V190.3M197.8 187.9H203.8M197.8 190.3H203.8" stroke="#0000cc" stroke-width="0.75" fill="none"/>
<path clip-path="url(#c1)" d="M210.72 195.8V198.2M207.72 195.8H213.72M207.72 198.2H213.72" stroke="#0000cc" stroke-width="0.75" fill="none"/>
<path clip-path="url(#c1)" d="M220.64 204.8V208M217.64 204.8H223.64M217.64 208H223.64" stroke="#0000cc" stroke-width="0.75" fill="none"/>
<path clip-path="url(#c1)" d="M230.56 215.4V218.6M227.56 215.4H233.56M227.56 218.6H233.56" stroke="#0000cc" stroke-width="0.75" fill="none"/>
<path clip-path="url(#c1)" d="M240.47 227.4V230.6M237.47 227.4H243.47M237.47 230.6H243.47" stroke="#0000cc" stroke-width="0.75" fill="none"/>
<path clip-path="url(#c1)" d="M250.39 240.6V244.6M247.39 240.6H253.39M247.39 244.6H253.39" stroke="#0000cc" stroke-width="0.75" fill="none"/>
<path clip-path="url(#c1)" d="M260.31 257V261M257.31 257H263.31M257.31 261H263.31" stroke="#0000cc" stroke-width="0.75" fill="none"/>
<polygon points="61.95,73.75 59.3,78.05 64.6,78.05" fill="#0000cc"/>
<polygon points="71.87,89.35 69.22,93.65 74.52,93.65" fill="#0000cc"/>
<polygon points="81.79,102.15 79.14,106.45 84.44,106.45" fill="#0000cc"/>
<polygon points="91.7,113.15 89.05,117.45 94.35,117.45" fill="#0000cc"/>
<polygon points="101.62,123.15 98.97,127.45 104.27,127.45" fill="#0000cc"/>
<polygon points="111.54,131.55 108.89,135.85 114.19,135.85" fill="#0000cc"/>
<polygon points="121.46,139.15 118.81,143.45 124.11,143.45" fill="#0000cc"/>
<polygon points="131.38,145.55 128.73,149.85 134.03,149.85" fill="#0000cc"/>
<polygon points="141.29,150.75 138.64,155.05 143.94,155.05" fill="#0000cc"/>
<polygon points="151.21,157.55 148.56,161.85 153.86,161.85" fill="#0000cc"/>
<polygon points="161.13,162.75 158.48,167.05 163.78,167.05" fill="#0000cc"/>
<polygon points="171.05,167.95 168.4,172.25 173.7,172.25" fill="#0000cc"/>
<polygon points="180.97,173.55 178.32,177.85 183.62,177.85" fill="#0000cc"/>
<polygon points="190.88,179.65 188.23,183.95 193.53,183.95" fill="#0000cc"/>
<polygon points="200.8,186.25 198.15,190.55 203.45,190.55" fill="#0000cc"/>
<polygon points="210.72,194.15 208.07,198.45 213.37,198.45" fill="#0000cc"/>
<polygon points="220.64,203.55 217.99,207.85 223.29,207.85" fill="#0000cc"/>
<polygon points="230.56,214.15 227.91,218.45 233.21,218.45" fill="#0000cc"/>
<polygon points="240.47,226.15 237.82,230.45 243.12,230.45" fill="#0000cc"/>
<polygon points="250.39,239.75 247.74,244.05 253.04,244.05" fill="#0000cc"/>
<polygon points="260.31,256.15 257.66,260.45 262.96,260.45" fill="#0000cc"/>
<polyline clip-path="url(#c1)" fill="none" stroke="#0000cc" stroke-width="0.6" stroke-dasharray="2.1 2.7" points="57,154.6 57.6,154.61 58.2,154.62 58.81,154.63 59.41,154.64 60.01,154.65 60.61,154.66 61.21,154.67 61.81,154.69 62.42,154.7 63.02,154.71 63.62,154.73 64.22,154.74 64.82,154.76 65.43,154.77 66.03,154.79 66.63,154.8 67.23,154.82 67.83,154.84 68.43,154.85 69.04,154.87 69.64,154.89 70.24,154.91 70.84,154.93 71.44,154.94 72.05,154.96 72.65,154.98 73.25,155 73.85,155.03 74.45,155.05 75.05,155.07 75.66,155.09 76.26,155.12 76.86,155.14 77.46,155.17 78.06,155.19 78.66,155.22 79.27,155.24 79.87,155.27 80.47,155.3 81.07,155.32 81.67,155.35 82.28,155.38 82.88,155.41 83.48,155.44 84.08,155.47 84.68,155.5 85.28,155.53 85.89,155.57 86.49,155.6 87.09,155.63 87.69,155.67 88.29,155.7 88.9,155.73 89.5,155.77 90.1,155.81 90.7,155.84 91.3,155.88 91.9,155.92 92.51,155.96 93.11,156 93.71,156.05 94.31,156.09 94.91,156.14 95.52,156.18 96.12,156.23 96.72,156.28 97.32,156.33 97.92,156.38 98.52,156.44 99.13,156.49 99.73,156.54 100.33,156.6 100.93,156.66 101.53,156.71 102.14,156.77 102.74,156.83 103.34,156.89 103.94,156.95 104.54,157.01 105.14,157.07 105.75,157.14 106.35,157.2 106.95,157.26 107.55,157.33 108.15,157.39 108.75,157.46 109.36,157.53 109.96,157.6 110.56,157.66 111.16,157.73 111.76,157.81 112.37,157.88 112.97,157.96 113.57,158.03 114.17,158.11 114.77,158.19 115.37,158.27 115.98,158.35 116.58,158.44 117.18,158.53 117.78,158.61 118.38,158.7 118.99,158.79 119.59,158.88 120.19,158.97 120.79,159.07 121.39,159.16 121.99,159.26 122.6,159.35 123.2,159.45 123.8,159.55 124.4,159.65 125,159.75 125.61,159.85 126.21,159.95 126.81,160.05 127.41,160.15 128.01,160.25 128.61,160.36 129.22,160.46 129.82,160.57 130.42,160.67 131.02,160.78 131.62,160.89 132.23,161 132.83,161.1 133.43,161.22 134.03,161.33 134.63,161.44 135.23,161.55 135.84,161.67 136.44,161.78 137.04,161.9 137.64,162.02 138.24,162.14 138.85,162.26 139.45,162.38 140.05,162.51 140.65,162.63 141.25,162.76 141.85,162.89 142.46,163.02 143.06,163.15 143.66,163.28 144.26,163.42 144.86,163.56 145.46,163.69 146.07,163.83 146.67,163.98 147.27,164.12 147.87,164.27 148.47,164.42 149.08,164.57 149.68,164.72 150.28,164.87 150.88,165.03 151.48,165.18 152.08,165.34 152.69,165.5 153.29,165.66 153.89,165.83 154.49,165.99 155.09,166.16 155.7,166.33 156.3,166.5 156.9,166.67 157.5,166.84 158.1,167.02 158.7,167.19 159.31,167.37 159.91,167.55 160.51,167.74 161.11,167.92 161.71,168.11 162.32,168.3 162.92,168.49 163.52,168.68 164.12,168.88 164.72,169.08 165.32,169.28 165.93,169.48 166.53,169.69 167.13,169.9 167.73,170.11 168.33,170.32 168.94,170.54 169.54,170.76 170.14,170.98 170.74,171.2 171.34,171.43 171.94,171.66 172.55,171.89 173.15,172.13 173.75,172.37 174.35,172.61 174.95,172.85 175.55,173.1 176.16,173.35 176.76,173.61 177.36,173.86 177.96,174.12 178.56,174.39 179.17,174.66 179.77,174.93 180.37,175.2 180.97,175.48 181.57,175.77 182.17,176.08 182.78,176.4 183.38,176.74 183.98,177.09 184.58,177.44 185.18,177.81 185.79,178.19 186.39,178.58 186.99,178.97 187.59,179.37 188.19,179.77 188.79,180.18 189.4,180.58 190,180.99 190.6,181.4"/>
<polyline clip-path="url(#c1)" fill="none" stroke="#0000cc" stroke-width="0.85" points="57,68.4 57.6,69.26 58.2,70.12 58.8,70.98 59.4,71.84 60,72.7 60.6,73.55 61.2,74.4 61.8,75.25 62.4,76.1 63,76.94 63.6,77.78 64.2,78.62 64.8,79.46 65.4,80.29 66,81.13 66.6,81.96 67.2,82.79 67.8,83.61 68.4,84.44 69,85.26 69.6,86.08 70.2,86.9 70.8,87.72 71.4,88.54 72,89.35 72.6,90.17 73.2,90.98 73.8,91.79 74.4,92.61 75,93.42 75.6,94.24 76.2,95.06 76.8,95.88 77.4,96.7 78,97.51 78.6,98.33 79.2,99.14 79.8,99.95 80.4,100.75 81,101.54 81.6,102.33 82.2,103.1 82.8,103.87 83.4,104.63 84,105.37 84.6,106.11 85.2,106.84 85.8,107.56 86.4,108.28 87,108.99 87.6,109.69 88.2,110.39 88.8,111.07 89.4,111.76 90,112.43 90.6,113.1 91.2,113.76 91.8,114.42 92.4,115.07 93,115.71 93.6,116.35 94.2,116.99 94.8,117.62 95.4,118.25 96,118.87 96.6,119.48 97.2,120.09 97.8,120.7 98.4,121.3 99,121.89 99.6,122.48 100.2,123.06 100.8,123.64 101.4,124.21 102,124.78 102.6,125.34 103.2,125.89 103.8,126.44 104.4,126.99 105,127.53 105.6,128.06 106.2,128.59 106.8,129.12 107.4,129.64 108,130.16 108.6,130.67 109.2,131.18 109.8,131.68 110.4,132.18 111,132.67 111.6,133.16 112.2,133.65 112.8,134.13 113.4,134.6 114,135.07 114.6,135.54 115.2,136 115.8,136.46 116.4,136.91 117,137.36 117.6,137.81 118.2,138.26 118.8,138.7 119.4,139.14 120,139.58 120.6,140.02 121.2,140.45 121.8,140.89 122.4,141.32 123,141.76 123.6,142.19 124.2,142.62 124.8,143.04 125.4,143.47 126,143.89 126.6,144.31 127.2,144.73 127.8,145.14 128.4,145.55 129,145.95 129.6,146.35 130.2,146.75 130.8,147.14 131.4,147.53 132,147.91 132.6,148.29 133.2,148.66 133.8,149.02 134.4,149.39 135,149.75 135.6,150.1 136.2,150.46 136.8,150.81 137.4,151.17 138,151.52 138.6,151.87 139.2,152.22 139.8,152.57 140.4,152.93 141,153.28 141.6,153.64 142.2,154 142.8,154.36 143.4,154.72 144,155.08 144.6,155.44 145.2,155.8 145.8,156.16 146.4,156.52 147,156.87 147.6,157.23 148.2,157.58 148.8,157.94 149.4,158.28 150,158.63 150.6,158.97 151.2,159.31 151.8,159.65 152.4,159.98 153,160.31 153.6,160.64 154.2,160.97 154.8,161.29 155.4,161.62 156,161.94 156.6,162.26 157.2,162.58 157.8,162.9 158.4,163.22 159,163.53 159.6,163.85 160.2,164.17 160.8,164.49 161.4,164.81 162,165.13 162.6,165.45 163.2,165.77 163.8,166.08 164.4,166.4 165,166.72 165.6,167.03 166.2,167.35 166.8,167.66 167.4,167.98 168,168.3 168.6,168.62 169.2,168.94 169.8,169.26 170.4,169.58 171,169.91 171.6,170.24 172.2,170.56 172.8,170.89 173.4,171.22 174,171.55 174.6,171.88 175.2,172.22 175.8,172.55 176.4,172.89 177,173.22 177.6,173.56 178.2,173.9 178.8,174.24 179.4,174.59 180,174.93 180.6,175.28 181.2,175.63 181.8,175.99 182.4,176.35 183,176.71 183.6,177.07 184.2,177.43 184.8,177.8 185.4,178.17 186,178.53 186.6,178.91 187.2,179.28 187.8,179.65 188.4,180.02 189,180.4 189.6,180.77 190.2,181.15 190.8,181.52 191.4,181.9 192,182.27 192.6,182.64 193.2,183.01 193.8,183.38 194.4,183.75 195,184.12 195.6,184.5 196.2,184.87 196.8,185.25 197.4,185.64 198,186.03 198.6,186.43 199.2,186.83 199.8,187.24 200.4,187.66 201,188.09 201.6,188.52 202.2,188.96 202.8,189.41 203.4,189.87 204,190.33 204.6,190.8 205.2,191.27 205.8,191.75 206.4,192.24 207,192.73 207.6,193.23 208.2,193.73 208.8,194.23 209.4,194.74 210,195.26 210.6,195.77 211.2,196.3 211.8,196.83 212.4,197.36 213,197.9 213.6,198.45 214.2,199.01 214.8,199.57 215.4,200.13 216,200.7 216.6,201.27 217.2,201.85 217.8,202.44 218.4,203.02 219,203.61 219.6,204.2 220.2,204.8 220.8,205.4 221.4,206 222,206.61 222.6,207.23 223.2,207.85 223.8,208.47 224.4,209.1 225,209.73 225.6,210.37 226.2,211.01 226.8,211.66 227.4,212.31 228,212.97 228.6,213.63 229.2,214.29 229.8,214.95 230.4,215.62 231,216.3 231.6,216.97 232.2,217.65 232.8,218.33 233.4,219.01 234,219.7 234.6,220.39 235.2,221.09 235.8,221.8 236.4,222.51 237,223.23 237.6,223.95 238.2,224.69 238.8,225.43 239.4,226.18 240,226.94 240.6,227.72 241.2,228.5 241.8,229.29 242.4,230.1 243,230.91 243.6,231.74 244.2,232.57 244.8,233.41 245.4,234.26 246,235.12 246.6,235.99 247.2,236.86 247.8,237.74 248.4,238.62 249,239.51 249.6,240.4 250.2,241.3 250.8,242.21 251.4,243.13 252,244.07 252.6,245.01 253.2,245.97 253.8,246.93 254.4,247.9 255,248.87 255.6,249.85 256.2,250.83 256.8,251.81 257.4,252.79 258,253.77 258.6,254.74 259.2,255.71 259.8,256.68 260.4,257.64 261,258.61 261.6,259.57 262.2,260.54 262.8,261.51 263.4,262.47 264,263.43 264.6,264.37 265.2,265.31 265.8,266.24 266.4,267.17 267,268.09 267.6,269 268.2,269.9 268.8,270.81 269.4,271.7"/>
<path clip-path="url(#c1)" d="M61.95 36.25V37.35M58.95 36.25H64.95M58.95 37.35H64.95" stroke="#008000" stroke-width="0.75" fill="none"/>
<path clip-path="url(#c1)" d="M71.87 58.05V59.15M68.87 58.05H74.87M68.87 59.15H74.87" stroke="#008000" stroke-width="0.75" fill="none"/>
<path clip-path="url(#c1)" d="M81.79 77.25V78.35M78.79 77.25H84.79M78.79 78.35H84.79" stroke="#008000" stroke-width="0.75" fill="none"/>
<path clip-path="url(#c1)" d="M91.7 93.65V94.75M88.7 93.65H94.7M88.7 94.75H94.7" stroke="#008000" stroke-width="0.75" fill="none"/>
<path clip-path="url(#c1)" d="M101.62 107.05V108.15M98.62 107.05H104.62M98.62 108.15H104.62" stroke="#008000" stroke-width="0.75" fill="none"/>
<path clip-path="url(#c1)" d="M111.54 119.05V120.15M108.54 119.05H114.54M108.54 120.15H114.54" stroke="#008000" stroke-width="0.75" fill="none"/>
<path clip-path="url(#c1)" d="M121.46 127.85V128.95M118.46 127.85H124.46M118.46 128.95H124.46" stroke="#008000" stroke-width="0.75" fill="none"/>
<path clip-path="url(#c1)" d="M131.38 136.45V137.55M128.38 136.45H134.38M128.38 137.55H134.38" stroke="#008000" stroke-width="0.75" fill="none"/>
<path clip-path="url(#c1)" d="M141.29 143.45V144.55M138.29 143.45H144.29M138.29 144.55H144.29" stroke="#008000" stroke-width="0.75" fill="none"/>
<path clip-path="url(#c1)" d="M151.21 150.05V151.15M148.21 150.05H154.21M148.21 151.15H154.21" stroke="#008000" stroke-width="0.75" fill="none"/>
<path clip-path="url(#c1)" d="M161.13 156.5V158.3M158.13 156.5H164.13M158.13 158.3H164.13" stroke="#008000" stroke-width="0.75" fill="none"/>
<path clip-path="url(#c1)" d="M171.05 162.5V164.3M168.05 162.5H174.05M168.05 164.3H174.05" stroke="#008000" stroke-width="0.75" fill="none"/>
<path clip-path="url(#c1)" d="M180.97 168.9V170.7M177.97 168.9H183.97M177.97 170.7H183.97" stroke="#008000" stroke-width="0.75" fill="none"/>
<path clip-path="url(#c1)" d="M190.88 174.8V177.2M187.88 174.8H193.88M187.88 177.2H193.88" stroke="#008000" stroke-width="0.75" fill="none"/>
<path clip-path="url(#c1)" d="M200.8 181.8V184.2M197.8 181.8H203.8M197.8 184.2H203.8" stroke="#008000" stroke-width="0.75" fill="none"/>
<path clip-path="url(#c1)" d="M210.72 189.4V191.8M207.72 189.4H213.72M207.72 191.8H213.72" stroke="#008000" stroke-width="0.75" fill="none"/>
<path clip-path="url(#c1)" d="M220.64 198.4V201.6M217.64 198.4H223.64M217.64 201.6H223.64" stroke="#008000" stroke-width="0.75" fill="none"/>
<path clip-path="url(#c1)" d="M230.56 209V212.2M227.56 209H233.56M227.56 212.2H233.56" stroke="#008000" stroke-width="0.75" fill="none"/>
<path clip-path="url(#c1)" d="M240.47 220.8V224M237.47 220.8H243.47M237.47 224H243.47" stroke="#008000" stroke-width="0.75" fill="none"/>
<path clip-path="url(#c1)" d="M250.39 234.2V238.2M247.39 234.2H253.39M247.39 238.2H253.39" stroke="#008000" stroke-width="0.75" fill="none"/>
<path clip-path="url(#c1)" d="M260.31 250.6V254.6M257.31 250.6H263.31M257.31 254.6H263.31" stroke="#008000" stroke-width="0.75" fill="none"/>
<circle cx="61.95" cy="36.8" r="2.65" fill="#008000"/>
<circle cx="71.87" cy="58.6" r="2.65" fill="#008000"/>
<circle cx="81.79" cy="77.8" r="2.65" fill="#008000"/>
<circle cx="91.7" cy="94.2" r="2.65" fill="#008000"/>
<circle cx="101.62" cy="107.6" r="2.65" fill="#008000"/>
<circle cx="111.54" cy="119.6" r="2.65" fill="#008000"/>
<circle cx="121.46" cy="128.4" r="2.65" fill="#008000"/>
<circle cx="131.38" cy="137" r="2.65" fill="#008000"/>
<circle cx="141.29" cy="144" r="2.65" fill="#008000"/>
<circle cx="151.21" cy="150.6" r="2.65" fill="#008000"/>
<circle cx="161.13" cy="157.4" r="2.65" fill="#008000"/>
<circle cx="171.05" cy="163.4" r="2.65" fill="#008000"/>
<circle cx="180.97" cy="169.8" r="2.65" fill="#008000"/>
<circle cx="190.88" cy="176" r="2.65" fill="#008000"/>
<circle cx="200.8" cy="183" r="2.65" fill="#008000"/>
<circle cx="210.72" cy="190.6" r="2.65" fill="#008000"/>
<circle cx="220.64" cy="200" r="2.65" fill="#008000"/>
<circle cx="230.56" cy="210.6" r="2.65" fill="#008000"/>
<circle cx="240.47" cy="222.4" r="2.65" fill="#008000"/>
<circle cx="250.39" cy="236.2" r="2.65" fill="#008000"/>
<circle cx="260.31" cy="252.6" r="2.65" fill="#008000"/>
<polyline clip-path="url(#c1)" fill="none" stroke="#008000" stroke-width="0.6" stroke-dasharray="2.1 2.7" points="57,147.6 57.6,147.61 58.2,147.62 58.81,147.63 59.41,147.64 60.01,147.65 60.61,147.66 61.21,147.67 61.81,147.69 62.42,147.7 63.02,147.71 63.62,147.73 64.22,147.74 64.82,147.76 65.43,147.77 66.03,147.79 66.63,147.8 67.23,147.82 67.83,147.84 68.43,147.85 69.04,147.87 69.64,147.89 70.24,147.91 70.84,147.93 71.44,147.94 72.05,147.96 72.65,147.98 73.25,148 73.85,148.03 74.45,148.05 75.05,148.07 75.66,148.09 76.26,148.12 76.86,148.14 77.46,148.17 78.06,148.19 78.66,148.22 79.27,148.24 79.87,148.27 80.47,148.3 81.07,148.32 81.67,148.35 82.28,148.38 82.88,148.41 83.48,148.44 84.08,148.47 84.68,148.5 85.28,148.53 85.89,148.57 86.49,148.6 87.09,148.63 87.69,148.67 88.29,148.7 88.9,148.73 89.5,148.77 90.1,148.81 90.7,148.84 91.3,148.88 91.9,148.92 92.51,148.96 93.11,149 93.71,149.05 94.31,149.09 94.91,149.14 95.52,149.18 96.12,149.23 96.72,149.28 97.32,149.33 97.92,149.38 98.52,149.44 99.13,149.49 99.73,149.54 100.33,149.6 100.93,149.66 101.53,149.71 102.14,149.77 102.74,149.83 103.34,149.89 103.94,149.95 104.54,150.01 105.14,150.07 105.75,150.14 106.35,150.2 106.95,150.26 107.55,150.33 108.15,150.39 108.75,150.46 109.36,150.53 109.96,150.6 110.56,150.66 111.16,150.73 111.76,150.81 112.37,150.88 112.97,150.96 113.57,151.03 114.17,151.11 114.77,151.19 115.37,151.27 115.98,151.35 116.58,151.44 117.18,151.53 117.78,151.61 118.38,151.7 118.99,151.79 119.59,151.88 120.19,151.97 120.79,152.07 121.39,152.16 121.99,152.26 122.6,152.35 123.2,152.45 123.8,152.55 124.4,152.65 125,152.75 125.61,152.85 126.21,152.95 126.81,153.05 127.41,153.15 128.01,153.25 128.61,153.36 129.22,153.46 129.82,153.57 130.42,153.67 131.02,153.78 131.62,153.89 132.23,154 132.83,154.1 133.43,154.21 134.03,154.33 134.63,154.44 135.23,154.55 135.84,154.67 136.44,154.78 137.04,154.9 137.64,155.02 138.24,155.14 138.85,155.26 139.45,155.38 140.05,155.5 140.65,155.63 141.25,155.75 141.85,155.88 142.46,156.01 143.06,156.14 143.66,156.28 144.26,156.41 144.86,156.55 145.46,156.69 146.07,156.83 146.67,156.97 147.27,157.12 147.87,157.26 148.47,157.41 149.08,157.56 149.68,157.72 150.28,157.87 150.88,158.03 151.48,158.19 152.08,158.35 152.69,158.51 153.29,158.67 153.89,158.84 154.49,159 155.09,159.17 155.7,159.34 156.3,159.51 156.9,159.69 157.5,159.86 158.1,160.04 158.7,160.22 159.31,160.4 159.91,160.58 160.51,160.77 161.11,160.96 161.71,161.15 162.32,161.34 162.92,161.54 163.52,161.73 164.12,161.93 164.72,162.14 165.32,162.34 165.93,162.55 166.53,162.76 167.13,162.97 167.73,163.18 168.33,163.4 168.94,163.62 169.54,163.85 170.14,164.07 170.74,164.3 171.34,164.53 171.94,164.77 172.55,165.01 173.15,165.25 173.75,165.49 174.35,165.74 174.95,165.99 175.55,166.24 176.16,166.5 176.76,166.76 177.36,167.03 177.96,167.29 178.56,167.56 179.17,167.84 179.77,168.12 180.37,168.4 180.97,168.68 181.57,168.98 182.17,169.3 182.78,169.63 183.38,169.98 183.98,170.34 184.58,170.71 185.18,171.09 185.79,171.48 186.39,171.88 186.99,172.28 187.59,172.7 188.19,173.11 188.79,173.53 189.4,173.96 190,174.38 190.6,174.8"/>
<polyline clip-path="url(#c1)" fill="none" stroke="#008000" stroke-width="0.85" points="57,33.5 57.6,34.49 58.2,35.47 58.8,36.45 59.4,37.43 60,38.4 60.6,39.36 61.2,40.33 61.8,41.28 62.4,42.23 63,43.16 63.6,44.08 64.2,44.99 64.8,45.9 65.4,46.82 66,47.75 66.6,48.7 67.2,49.67 67.8,50.67 68.4,51.69 69,52.72 69.6,53.77 70.2,54.83 70.8,55.91 71.4,57 72,58.1 72.6,59.2 73.2,60.32 73.8,61.44 74.4,62.57 75,63.71 75.6,64.88 76.2,66.06 76.8,67.26 77.4,68.46 78,69.67 78.6,70.88 79.2,72.08 79.8,73.29 80.4,74.48 81,75.66 81.6,76.82 82.2,77.97 82.8,79.13 83.4,80.3 84,81.47 84.6,82.64 85.2,83.81 85.8,84.97 86.4,86.12 87,87.26 87.6,88.38 88.2,89.47 88.8,90.54 89.4,91.57 90,92.57 90.6,93.53 91.2,94.46 91.8,95.37 92.4,96.27 93,97.16 93.6,98.04 94.2,98.91 94.8,99.76 95.4,100.59 96,101.4 96.6,102.2 97.2,102.97 97.8,103.71 98.4,104.43 99,105.12 99.6,105.79 100.2,106.42 100.8,107.02 101.4,107.58 102,108.1 102.6,108.57 103.2,109.02 103.8,109.44 104.4,109.86 105,110.28 105.6,110.71 106.2,111.17 106.8,111.67 107.4,112.19 108,112.72 108.6,113.26 109.2,113.82 109.8,114.39 110.4,114.98 111,115.59 111.6,116.21 112.2,116.86 112.8,117.55 113.4,118.27 114,119 114.6,119.76 115.2,120.53 115.8,121.3 116.4,122.08 117,122.86 117.6,123.63 118.2,124.39 118.8,125.12 119.4,125.84 120,126.53 120.6,127.19 121.2,127.8 121.8,128.38 122.4,128.95 123,129.49 123.6,130.02 124.2,130.54 124.8,131.05 125.4,131.54 126,132.03 126.6,132.5 127.2,132.97 127.8,133.43 128.4,133.89 129,134.35 129.6,134.8 130.2,135.25 130.8,135.7 131.4,136.15 132,136.6 132.6,137.04 133.2,137.47 133.8,137.9 134.4,138.33 135,138.75 135.6,139.17 136.2,139.58 136.8,140 137.4,140.41 138,140.82 138.6,141.23 139.2,141.63 139.8,142.04 140.4,142.45 141,142.86 141.6,143.27 142.2,143.68 142.8,144.09 143.4,144.5 144,144.91 144.6,145.31 145.2,145.72 145.8,146.12 146.4,146.53 147,146.93 147.6,147.33 148.2,147.73 148.8,148.13 149.4,148.53 150,148.93 150.6,149.33 151.2,149.73 151.8,150.13 152.4,150.54 153,150.94 153.6,151.34 154.2,151.74 154.8,152.14 155.4,152.54 156,152.94 156.6,153.34 157.2,153.73 157.8,154.13 158.4,154.52 159,154.91 159.6,155.3 160.2,155.69 160.8,156.07 161.4,156.45 162,156.83 162.6,157.2 163.2,157.57 163.8,157.94 164.4,158.3 165,158.67 165.6,159.03 166.2,159.39 166.8,159.75 167.4,160.12 168,160.48 168.6,160.84 169.2,161.21 169.8,161.58 170.4,161.95 171,162.33 171.6,162.7 172.2,163.08 172.8,163.46 173.4,163.85 174,164.23 174.6,164.61 175.2,165 175.8,165.39 176.4,165.77 177,166.16 177.6,166.55 178.2,166.93 178.8,167.32 179.4,167.71 180,168.09 180.6,168.47 181.2,168.85 181.8,169.23 182.4,169.61 183,169.99 183.6,170.36 184.2,170.74 184.8,171.11 185.4,171.49 186,171.86 186.6,172.24 187.2,172.62 187.8,173 188.4,173.38 189,173.76 189.6,174.15 190.2,174.54 190.8,174.93 191.4,175.32 192,175.72 192.6,176.11 193.2,176.51 193.8,176.91 194.4,177.31 195,177.71 195.6,178.11 196.2,178.52 196.8,178.93 197.4,179.34 198,179.76 198.6,180.17 199.2,180.6 199.8,181.02 200.4,181.46 201,181.89 201.6,182.33 202.2,182.77 202.8,183.22 203.4,183.67 204,184.13 204.6,184.58 205.2,185.05 205.8,185.51 206.4,185.98 207,186.45 207.6,186.93 208.2,187.41 208.8,187.89 209.4,188.38 210,188.87 210.6,189.36 211.2,189.86 211.8,190.36 212.4,190.86 213,191.37 213.6,191.88 214.2,192.39 214.8,192.91 215.4,193.43 216,193.95 216.6,194.49 217.2,195.02 217.8,195.57 218.4,196.12 219,196.67 219.6,197.24 220.2,197.81 220.8,198.39 221.4,198.98 222,199.58 222.6,200.19 223.2,200.8 223.8,201.43 224.4,202.06 225,202.7 225.6,203.34 226.2,203.99 226.8,204.65 227.4,205.3 228,205.97 228.6,206.63 229.2,207.29 229.8,207.96 230.4,208.62 231,209.29 231.6,209.95 232.2,210.62 232.8,211.29 233.4,211.97 234,212.65 234.6,213.33 235.2,214.02 235.8,214.71 236.4,215.41 237,216.11 237.6,216.82 238.2,217.54 238.8,218.27 239.4,219 240,219.75 240.6,220.5 241.2,221.27 241.8,222.04 242.4,222.83 243,223.62 243.6,224.42 244.2,225.23 244.8,226.04 245.4,226.87 246,227.7 246.6,228.53 247.2,229.38 247.8,230.23 248.4,231.09 249,231.95 249.6,232.82 250.2,233.69 250.8,234.57 251.4,235.46 252,236.35 252.6,237.25 253.2,238.16 253.8,239.08 254.4,240 255,240.93 255.6,241.87 256.2,242.82 256.8,243.77 257.4,244.73 258,245.7 258.6,246.68 259.2,247.67 259.8,248.67 260.4,249.67 261,250.7 261.6,251.73 262.2,252.79 262.8,253.85 263.4,254.92 264,256.01 264.6,257.1 265.2,258.19 265.8,259.29 266.4,260.4 267,261.5 267.6,262.61 268.2,263.72 268.8,264.84 269.4,265.97 270,267.1 270.6,268.24 271.2,269.39 271.8,270.54 272.4,271.7"/>
<path clip-path="url(#c1)" d="M61.95 12.45V13.55M58.95 12.45H64.95M58.95 13.55H64.95" stroke="#cc0000" stroke-width="0.75" fill="none"/>
<path clip-path="url(#c1)" d="M71.87 36.85V37.95M68.87 36.85H74.87M68.87 37.95H74.87" stroke="#cc0000" stroke-width="0.75" fill="none"/>
<path clip-path="url(#c1)" d="M81.79 61.45V62.55M78.79 61.45H84.79M78.79 62.55H84.79" stroke="#cc0000" stroke-width="0.75" fill="none"/>
<path clip-path="url(#c1)" d="M91.7 84.85V85.95M88.7 84.85H94.7M88.7 85.95H94.7" stroke="#cc0000" stroke-width="0.75" fill="none"/>
<path clip-path="url(#c1)" d="M101.62 103.85V104.95M98.62 103.85H104.62M98.62 104.95H104.62" stroke="#cc0000" stroke-width="0.75" fill="none"/>
<path clip-path="url(#c1)" d="M111.54 119.85V120.95M108.54 119.85H114.54M108.54 120.95H114.54" stroke="#cc0000" stroke-width="0.75" fill="none"/>
<path clip-path="url(#c1)" d="M121.46 132.45V133.55M118.46 132.45H124.46M118.46 133.55H124.46" stroke="#cc0000" stroke-width="0.75" fill="none"/>
<path clip-path="url(#c1)" d="M131.38 143.45V144.55M128.38 143.45H134.38M128.38 144.55H134.38" stroke="#cc0000" stroke-width="0.75" fill="none"/>
<path clip-path="url(#c1)" d="M141.29 153.05V154.15M138.29 153.05H144.29M138.29 154.15H144.29" stroke="#cc0000" stroke-width="0.75" fill="none"/>
<path clip-path="url(#c1)" d="M151.21 160.85V161.95M148.21 160.85H154.21M148.21 161.95H154.21" stroke="#cc0000" stroke-width="0.75" fill="none"/>
<path clip-path="url(#c1)" d="M161.13 168.9V170.7M158.13 168.9H164.13M158.13 170.7H164.13" stroke="#cc0000" stroke-width="0.75" fill="none"/>
<path clip-path="url(#c1)" d="M171.05 176.1V177.9M168.05 176.1H174.05M168.05 177.9H174.05" stroke="#cc0000" stroke-width="0.75" fill="none"/>
<path clip-path="url(#c1)" d="M180.97 183.1V184.9M177.97 183.1H183.97M177.97 184.9H183.97" stroke="#cc0000" stroke-width="0.75" fill="none"/>
<path clip-path="url(#c1)" d="M190.88 189.4V191.8M187.88 189.4H193.88M187.88 191.8H193.88" stroke="#cc0000" stroke-width="0.75" fill="none"/>
<path clip-path="url(#c1)" d="M200.8 196.8V199.2M197.8 196.8H203.8M197.8 199.2H203.8" stroke="#cc0000" stroke-width="0.75" fill="none"/>
<path clip-path="url(#c1)" d="M210.72 204.8V207.2M207.72 204.8H213.72M207.72 207.2H213.72" stroke="#cc0000" stroke-width="0.75" fill="none"/>
<path clip-path="url(#c1)" d="M220.64 213.8V217M217.64 213.8H223.64M217.64 217H223.64" stroke="#cc0000" stroke-width="0.75" fill="none"/>
<path clip-path="url(#c1)" d="M230.56 224V227.2M227.56 224H233.56M227.56 227.2H233.56" stroke="#cc0000" stroke-width="0.75" fill="none"/>
<path clip-path="url(#c1)" d="M240.47 236V239.2M237.47 236H243.47M237.47 239.2H243.47" stroke="#cc0000" stroke-width="0.75" fill="none"/>
<path clip-path="url(#c1)" d="M250.39 249V253M247.39 249H253.39M247.39 253H253.39" stroke="#cc0000" stroke-width="0.75" fill="none"/>
<path clip-path="url(#c1)" d="M260.31 265.4V269.4M257.31 265.4H263.31M257.31 269.4H263.31" stroke="#cc0000" stroke-width="0.75" fill="none"/>
<rect x="59.4" y="10.45" width="5.1" height="5.1" fill="#cc0000"/>
<rect x="69.32" y="34.85" width="5.1" height="5.1" fill="#cc0000"/>
<rect x="79.24" y="59.45" width="5.1" height="5.1" fill="#cc0000"/>
<rect x="89.15" y="82.85" width="5.1" height="5.1" fill="#cc0000"/>
<rect x="99.07" y="101.85" width="5.1" height="5.1" fill="#cc0000"/>
<rect x="108.99" y="117.85" width="5.1" height="5.1" fill="#cc0000"/>
<rect x="118.91" y="130.45" width="5.1" height="5.1" fill="#cc0000"/>
<rect x="128.83" y="141.45" width="5.1" height="5.1" fill="#cc0000"/>
<rect x="138.74" y="151.05" width="5.1" height="5.1" fill="#cc0000"/>
<rect x="148.66" y="158.85" width="5.1" height="5.1" fill="#cc0000"/>
<rect x="158.58" y="167.25" width="5.1" height="5.1" fill="#cc0000"/>
<rect x="168.5" y="174.45" width="5.1" height="5.1" fill="#cc0000"/>
<rect x="178.42" y="181.45" width="5.1" height="5.1" fill="#cc0000"/>
<rect x="188.33" y="188.05" width="5.1" height="5.1" fill="#cc0000"/>
<rect x="198.25" y="195.45" width="5.1" height="5.1" fill="#cc0000"/>
<rect x="208.17" y="203.45" width="5.1" height="5.1" fill="#cc0000"/>
<rect x="218.09" y="212.85" width="5.1" height="5.1" fill="#cc0000"/>
<rect x="228.01" y="223.05" width="5.1" height="5.1" fill="#cc0000"/>
<rect x="237.92" y="235.05" width="5.1" height="5.1" fill="#cc0000"/>
<rect x="247.84" y="248.45" width="5.1" height="5.1" fill="#cc0000"/>
<rect x="257.76" y="264.85" width="5.1" height="5.1" fill="#cc0000"/>
<polyline clip-path="url(#c1)" fill="none" stroke="#cc0000" stroke-width="0.6" stroke-dasharray="2.1 2.7" points="57,162.4 57.6,162.41 58.2,162.42 58.81,162.43 59.41,162.44 60.01,162.45 60.61,162.46 61.21,162.47 61.81,162.49 62.42,162.5 63.02,162.51 63.62,162.53 64.22,162.54 64.82,162.56 65.43,162.57 66.03,162.59 66.63,162.6 67.23,162.62 67.83,162.64 68.43,162.65 69.04,162.67 69.64,162.69 70.24,162.71 70.84,162.73 71.44,162.74 72.05,162.76 72.65,162.78 73.25,162.8 73.85,162.83 74.45,162.85 75.05,162.87 75.66,162.89 76.26,162.92 76.86,162.94 77.46,162.97 78.06,162.99 78.66,163.02 79.27,163.04 79.87,163.07 80.47,163.1 81.07,163.12 81.67,163.15 82.28,163.18 82.88,163.21 83.48,163.24 84.08,163.27 84.68,163.3 85.28,163.33 85.89,163.37 86.49,163.4 87.09,163.43 87.69,163.47 88.29,163.5 88.9,163.53 89.5,163.57 90.1,163.61 90.7,163.64 91.3,163.68 91.9,163.72 92.51,163.76 93.11,163.8 93.71,163.85 94.31,163.89 94.91,163.94 95.52,163.98 96.12,164.03 96.72,164.08 97.32,164.13 97.92,164.18 98.52,164.24 99.13,164.29 99.73,164.34 100.33,164.4 100.93,164.46 101.53,164.51 102.14,164.57 102.74,164.63 103.34,164.69 103.94,164.75 104.54,164.81 105.14,164.87 105.75,164.94 106.35,165 106.95,165.06 107.55,165.13 108.15,165.19 108.75,165.26 109.36,165.33 109.96,165.4 110.56,165.46 111.16,165.53 111.76,165.61 112.37,165.68 112.97,165.76 113.57,165.83 114.17,165.91 114.77,165.99 115.37,166.07 115.98,166.15 116.58,166.24 117.18,166.33 117.78,166.41 118.38,166.5 118.99,166.59 119.59,166.68 120.19,166.77 120.79,166.87 121.39,166.96 121.99,167.06 122.6,167.15 123.2,167.25 123.8,167.35 124.4,167.45 125,167.55 125.61,167.65 126.21,167.75 126.81,167.85 127.41,167.95 128.01,168.05 128.61,168.16 129.22,168.26 129.82,168.37 130.42,168.47 131.02,168.58 131.62,168.69 132.23,168.79 132.83,168.9 133.43,169.01 134.03,169.12 134.63,169.24 135.23,169.35 135.84,169.46 136.44,169.58 137.04,169.7 137.64,169.81 138.24,169.93 138.85,170.05 139.45,170.17 140.05,170.3 140.65,170.42 141.25,170.55 141.85,170.68 142.46,170.81 143.06,170.94 143.66,171.07 144.26,171.21 144.86,171.35 145.46,171.49 146.07,171.63 146.67,171.77 147.27,171.91 147.87,172.06 148.47,172.21 149.08,172.36 149.68,172.52 150.28,172.67 150.88,172.83 151.48,172.99 152.08,173.15 152.69,173.31 153.29,173.48 153.89,173.64 154.49,173.81 155.09,173.98 155.7,174.15 156.3,174.32 156.9,174.5 157.5,174.67 158.1,174.85 158.7,175.03 159.31,175.22 159.91,175.4 160.51,175.59 161.11,175.78 161.71,175.97 162.32,176.17 162.92,176.36 163.52,176.56 164.12,176.76 164.72,176.97 165.32,177.18 165.93,177.39 166.53,177.6 167.13,177.82 167.73,178.03 168.33,178.26 168.94,178.48 169.54,178.71 170.14,178.94 170.74,179.17 171.34,179.41 171.94,179.65 172.55,179.89 173.15,180.14 173.75,180.39 174.35,180.65 174.95,180.9 175.55,181.16 176.16,181.43 176.76,181.7 177.36,181.97 177.96,182.25 178.56,182.53 179.17,182.81 179.77,183.1 180.37,183.39 180.97,183.69 181.57,184 182.17,184.33 182.78,184.68 183.38,185.05 183.98,185.43 184.58,185.82 185.18,186.23 185.79,186.65 186.39,187.07 186.99,187.51 187.59,187.95 188.19,188.39 188.79,188.84 189.4,189.3 190,189.75 190.6,190.2"/>
<polyline clip-path="url(#c1)" fill="none" stroke="#cc0000" stroke-width="0.85" points="57,10.3 57.6,11.54 58.2,12.78 58.8,14.01 59.4,15.24 60.01,16.46 60.61,17.69 61.21,18.9 61.81,20.12 62.41,21.32 63.01,22.51 63.61,23.68 64.21,24.85 64.82,26 65.42,27.16 66.02,28.31 66.62,29.47 67.22,30.64 67.82,31.82 68.42,33.01 69.02,34.22 69.62,35.46 70.23,36.72 70.83,38.01 71.43,39.35 72.03,40.74 72.63,42.16 73.23,43.59 73.83,45.02 74.43,46.45 75.03,47.84 75.64,49.2 76.24,50.51 76.84,51.77 77.44,53 78.04,54.2 78.64,55.39 79.24,56.57 79.84,57.75 80.45,58.96 81.05,60.19 81.65,61.45 82.25,62.77 82.85,64.12 83.45,65.51 84.05,66.93 84.65,68.37 85.25,69.83 85.86,71.31 86.46,72.8 87.06,74.28 87.66,75.77 88.26,77.24 88.86,78.7 89.46,80.14 90.06,81.55 90.66,82.93 91.27,84.27 91.87,85.58 92.47,86.88 93.07,88.19 93.67,89.5 94.27,90.81 94.87,92.11 95.47,93.39 96.08,94.66 96.68,95.91 97.28,97.13 97.88,98.32 98.48,99.47 99.08,100.59 99.68,101.66 100.28,102.69 100.88,103.66 101.49,104.58 102.09,105.43 102.69,106.23 103.29,106.98 103.89,107.69 104.49,108.38 105.09,109.05 105.69,109.72 106.29,110.4 106.9,111.1 107.5,111.82 108.1,112.58 108.7,113.37 109.3,114.17 109.9,114.98 110.5,115.79 111.1,116.6 111.71,117.41 112.31,118.21 112.91,119.02 113.51,119.83 114.11,120.65 114.71,121.46 115.31,122.27 115.91,123.09 116.51,123.9 117.12,124.7 117.72,125.51 118.32,126.31 118.92,127.1 119.52,127.89 120.12,128.67 120.72,129.44 121.32,130.2 121.92,130.96 122.53,131.71 123.13,132.45 123.73,133.2 124.33,133.93 124.93,134.67 125.53,135.39 126.13,136.12 126.73,136.83 127.34,137.55 127.94,138.25 128.54,138.96 129.14,139.65 129.74,140.34 130.34,141.03 130.94,141.71 131.54,142.39 132.14,143.06 132.75,143.73 133.35,144.4 133.95,145.07 134.55,145.73 135.15,146.38 135.75,147.04 136.35,147.68 136.95,148.32 137.55,148.96 138.16,149.58 138.76,150.2 139.36,150.8 139.96,151.4 140.56,151.99 141.16,152.56 141.76,153.13 142.36,153.68 142.97,154.22 143.57,154.76 144.17,155.28 144.77,155.8 145.37,156.31 145.97,156.81 146.57,157.32 147.17,157.81 147.77,158.31 148.38,158.81 148.98,159.31 149.58,159.81 150.18,160.31 150.78,160.81 151.38,161.32 151.98,161.84 152.58,162.35 153.18,162.87 153.79,163.38 154.39,163.9 154.99,164.42 155.59,164.93 156.19,165.44 156.79,165.95 157.39,166.46 157.99,166.96 158.6,167.46 159.2,167.96 159.8,168.44 160.4,168.93 161,169.4 161.6,169.87 162.2,170.33 162.8,170.79 163.4,171.24 164.01,171.69 164.61,172.14 165.21,172.58 165.81,173.02 166.41,173.45 167.01,173.89 167.61,174.32 168.21,174.75 168.82,175.18 169.42,175.61 170.02,176.04 170.62,176.47 171.22,176.9 171.82,177.33 172.42,177.76 173.02,178.18 173.62,178.61 174.23,179.03 174.83,179.46 175.43,179.88 176.03,180.3 176.63,180.72 177.23,181.14 177.83,181.55 178.43,181.97 179.03,182.38 179.64,182.8 180.24,183.21 180.84,183.63 181.44,184.04 182.04,184.44 182.64,184.85 183.24,185.25 183.84,185.65 184.45,186.05 185.05,186.45 185.65,186.85 186.25,187.25 186.85,187.65 187.45,188.06 188.05,188.46 188.65,188.86 189.25,189.27 189.86,189.69 190.46,190.1 191.06,190.52 191.66,190.94 192.26,191.36 192.86,191.78 193.46,192.2 194.06,192.62 194.66,193.05 195.27,193.47 195.87,193.9 196.47,194.34 197.07,194.77 197.67,195.21 198.27,195.65 198.87,196.1 199.47,196.55 200.08,197 200.68,197.46 201.28,197.92 201.88,198.39 202.48,198.86 203.08,199.33 203.68,199.81 204.28,200.29 204.88,200.78 205.49,201.27 206.09,201.76 206.69,202.26 207.29,202.76 207.89,203.26 208.49,203.77 209.09,204.28 209.69,204.79 210.29,205.31 210.9,205.83 211.5,206.36 212.1,206.88 212.7,207.42 213.3,207.95 213.9,208.49 214.5,209.04 215.1,209.59 215.71,210.14 216.31,210.7 216.91,211.26 217.51,211.82 218.11,212.39 218.71,212.97 219.31,213.54 219.91,214.13 220.51,214.71 221.12,215.3 221.72,215.9 222.32,216.5 222.92,217.1 223.52,217.71 224.12,218.32 224.72,218.94 225.32,219.57 225.92,220.19 226.53,220.83 227.13,221.47 227.73,222.11 228.33,222.76 228.93,223.41 229.53,224.06 230.13,224.73 230.73,225.39 231.34,226.06 231.94,226.74 232.54,227.42 233.14,228.11 233.74,228.8 234.34,229.49 234.94,230.2 235.54,230.9 236.14,231.62 236.75,232.34 237.35,233.06 237.95,233.8 238.55,234.53 239.15,235.28 239.75,236.03 240.35,236.79 240.95,237.56 241.55,238.34 242.16,239.13 242.76,239.93 243.36,240.73 243.96,241.54 244.56,242.36 245.16,243.19 245.76,244.02 246.36,244.85 246.97,245.69 247.57,246.54 248.17,247.39 248.77,248.24 249.37,249.1 249.97,249.96 250.57,250.83 251.17,251.71 251.77,252.6 252.38,253.51 252.98,254.42 253.58,255.34 254.18,256.27 254.78,257.19 255.38,258.12 255.98,259.04 256.58,259.96 257.18,260.87 257.79,261.78 258.39,262.67 258.99,263.55 259.59,264.42 260.19,265.27 260.79,266.1 261.39,266.93 261.99,267.75 262.6,268.55 263.2,269.35 263.8,270.14 264.4,270.92 265,271.7"/>
</g>
<g id="panel2">
<path clip-path="url(#c2)" d="M333.5 151.05V152.15M330.5 151.05H336.5M330.5 152.15H336.5" stroke="#000000" stroke-width="0.75" fill="none"/>
<path clip-path="url(#c2)" d="M343.4 153.05V154.15M340.4 153.05H346.4M340.4 154.15H346.4" stroke="#000000" stroke-width="0.75" fill="none"/>
<path clip-path="url(#c2)" d="M353.31 156.05V157.15M350.31 156.05H356.31M350.31 157.15H356.31" stroke="#000000" stroke-width="0.75" fill="none"/>
<path clip-path="url(#c2)" d="M363.21 163.05V164.15M360.21 163.05H366.21M360.21 164.15H366.21" stroke="#000000" stroke-width="0.75" fill="none"/>
<path clip-path="url(#c2)" d="M373.12 171.05V172.15M370.12 171.05H376.12M370.12 172.15H376.12" stroke="#000000" stroke-width="0.75" fill="none"/>
<path clip-path="url(#c2)" d="M383.02 177.45V178.55M380.02 177.45H386.02M380.02 178.55H386.02" stroke="#000000" stroke-width="0.75" fill="none"/>
<path clip-path="url(#c2)" d="M392.93 181.85V182.95M389.93 181.85H395.93M389.93 182.95H395.93" stroke="#000000" stroke-width="0.75" fill="none"/>
<path clip-path="url(#c2)" d="M402.83 187.45V188.55M399.83 187.45H405.83M399.83 188.55H405.83" stroke="#000000" stroke-width="0.75" fill="none"/>
<path clip-path="url(#c2)" d="M412.74 191.05V192.15M409.74 191.05H415.74M409.74 192.15H415.74" stroke="#000000" stroke-width="0.75" fill="none"/>
<path clip-path="url(#c2)" d="M422.64 195.05V196.15M419.64 195.05H425.64M419.64 196.15H425.64" stroke="#000000" stroke-width="0.75" fill="none"/>
<path clip-path="url(#c2)" d="M432.55 198.7V200.5M429.55 198.7H435.55M429.55 200.5H435.55" stroke="#000000" stroke-width="0.75" fill="none"/>
<path clip-path="url(#c2)" d="M442.45 203.1V204.9M439.45 203.1H445.45M439.45 204.9H445.45" stroke="#000000" stroke-width="0.75" fill="none"/>
<path clip-path="url(#c2)" d="M452.36 208.1V209.9M449.36 208.1H455.36M449.36 209.9H455.36" stroke="#000000" stroke-width="0.75" fill="none"/>
<path clip-path="url(#c2)" d="M462.26 212.8V215.2M459.26 212.8H465.26M459.26 215.2H465.26" stroke="#000000" stroke-width="0.75" fill="none"/>
<path clip-path="url(#c2)" d="M472.17 219.4V221.8M469.17 219.4H475.17M469.17 221.8H475.17" stroke="#000000" stroke-width="0.75" fill="none"/>
<path clip-path="url(#c2)" d="M482.07 226.8V229.2M479.07 226.8H485.07M479.07 229.2H485.07" stroke="#000000" stroke-width="0.75" fill="none"/>
<path clip-path="url(#c2)" d="M491.98 235V238.2M488.98 235H494.98M488.98 238.2H494.98" stroke="#000000" stroke-width="0.75" fill="none"/>
<path clip-path="url(#c2)" d="M501.88 245.4V248.6M498.88 245.4H504.88M498.88 248.6H504.88" stroke="#000000" stroke-width="0.75" fill="none"/>
<path clip-path="url(#c2)" d="M511.79 257V260.2M508.79 257H514.79M508.79 260.2H514.79" stroke="#000000" stroke-width="0.75" fill="none"/>
<polygon points="333.5,154.45 330.85,150.15 336.15,150.15" fill="#000000"/>
<polygon points="343.4,156.45 340.75,152.15 346.05,152.15" fill="#000000"/>
<polygon points="353.31,159.45 350.66,155.15 355.96,155.15" fill="#000000"/>
<polygon points="363.21,166.45 360.56,162.15 365.86,162.15" fill="#000000"/>
<polygon points="373.12,174.45 370.47,170.15 375.77,170.15" fill="#000000"/>
<polygon points="383.02,180.85 380.38,176.55 385.67,176.55" fill="#000000"/>
<polygon points="392.93,185.25 390.28,180.95 395.58,180.95" fill="#000000"/>
<polygon points="402.83,190.85 400.19,186.55 405.48,186.55" fill="#000000"/>
<polygon points="412.74,194.45 410.09,190.15 415.39,190.15" fill="#000000"/>
<polygon points="422.64,198.45 420,194.15 425.29,194.15" fill="#000000"/>
<polygon points="432.55,202.45 429.9,198.15 435.2,198.15" fill="#000000"/>
<polygon points="442.45,206.85 439.81,202.55 445.1,202.55" fill="#000000"/>
<polygon points="452.36,211.85 449.71,207.55 455.01,207.55" fill="#000000"/>
<polygon points="462.26,216.85 459.62,212.55 464.91,212.55" fill="#000000"/>
<polygon points="472.17,223.45 469.52,219.15 474.82,219.15" fill="#000000"/>
<polygon points="482.07,230.85 479.43,226.55 484.72,226.55" fill="#000000"/>
<polygon points="491.98,239.45 489.33,235.15 494.63,235.15" fill="#000000"/>
<polygon points="501.88,249.85 499.24,245.55 504.53,245.55" fill="#000000"/>
<polygon points="511.79,261.45 509.14,257.15 514.44,257.15" fill="#000000"/>
<polyline clip-path="url(#c2)" fill="none" stroke="#000000" stroke-width="0.6" stroke-dasharray="2.1 2.7" points="328,183.6 328.6,183.6 329.2,183.6 329.8,183.6 330.4,183.61 331.01,183.61 331.61,183.62 332.21,183.62 332.81,183.63 333.41,183.64 334.01,183.65 334.61,183.66 335.21,183.67 335.81,183.68 336.42,183.69 337.02,183.71 337.62,183.72 338.22,183.73 338.82,183.75 339.42,183.76 340.02,183.78 340.62,183.8 341.22,183.82 341.83,183.84 342.43,183.85 343.03,183.87 343.63,183.89 344.23,183.92 344.83,183.94 345.43,183.96 346.03,183.98 346.63,184 347.24,184.03 347.84,184.05 348.44,184.08 349.04,184.1 349.64,184.13 350.24,184.15 350.84,184.18 351.44,184.2 352.04,184.23 352.65,184.26 353.25,184.28 353.85,184.31 354.45,184.34 355.05,184.37 355.65,184.39 356.25,184.42 356.85,184.45 357.45,184.48 358.06,184.51 358.66,184.54 359.26,184.56 359.86,184.59 360.46,184.62 361.06,184.65 361.66,184.69 362.26,184.73 362.86,184.76 363.47,184.8 364.07,184.85 364.67,184.89 365.27,184.94 365.87,184.99 366.47,185.04 367.07,185.09 367.67,185.14 368.27,185.19 368.88,185.25 369.48,185.3 370.08,185.36 370.68,185.42 371.28,185.48 371.88,185.54 372.48,185.6 373.08,185.66 373.68,185.73 374.29,185.79 374.89,185.85 375.49,185.92 376.09,185.98 376.69,186.05 377.29,186.11 377.89,186.17 378.49,186.24 379.09,186.3 379.7,186.37 380.3,186.43 380.9,186.5 381.5,186.56 382.1,186.62 382.7,186.69 383.3,186.75 383.9,186.82 384.5,186.88 385.11,186.95 385.71,187.02 386.31,187.09 386.91,187.15 387.51,187.22 388.11,187.29 388.71,187.37 389.31,187.44 389.91,187.51 390.52,187.59 391.12,187.66 391.72,187.74 392.32,187.82 392.92,187.9 393.52,187.98 394.12,188.07 394.72,188.15 395.32,188.24 395.93,188.33 396.53,188.42 397.13,188.52 397.73,188.61 398.33,188.71 398.93,188.81 399.53,188.92 400.13,189.02 400.73,189.14 401.34,189.25 401.94,189.38 402.54,189.51 403.14,189.65 403.74,189.79 404.34,189.94 404.94,190.09 405.54,190.25 406.14,190.41 406.75,190.57 407.35,190.74 407.95,190.92 408.55,191.09 409.15,191.27 409.75,191.45 410.35,191.63 410.95,191.82 411.55,192 412.16,192.19 412.76,192.38 413.36,192.57 413.96,192.76 414.56,192.95 415.16,193.13 415.76,193.32 416.36,193.51 416.96,193.69 417.57,193.88 418.17,194.06 418.77,194.24 419.37,194.42 419.97,194.59 420.57,194.76 421.17,194.93 421.77,195.1 422.37,195.27 422.98,195.44 423.58,195.61 424.18,195.77 424.78,195.94 425.38,196.1 425.98,196.27 426.58,196.44 427.18,196.6 427.78,196.77 428.39,196.94 428.99,197.1 429.59,197.27 430.19,197.44 430.79,197.61 431.39,197.78 431.99,197.96 432.59,198.13 433.19,198.31 433.8,198.49 434.4,198.67 435,198.86 435.6,199.04 436.2,199.23 436.8,199.42 437.4,199.62 438,199.82 438.6,200.02 439.21,200.22 439.81,200.43 440.41,200.64 441.01,200.86 441.61,201.09 442.21,201.31 442.81,201.55 443.41,201.78 444.01,202.03 444.62,202.27 445.22,202.52 445.82,202.77 446.42,203.03 447.02,203.29 447.62,203.55 448.22,203.82 448.82,204.09 449.42,204.36 450.03,204.63 450.63,204.9 451.23,205.18 451.83,205.46 452.43,205.73 453.03,206.01 453.63,206.3 454.23,206.58 454.83,206.86 455.44,207.15 456.04,207.44 456.64,207.73 457.24,208.02 457.84,208.32 458.44,208.62 459.04,208.92 459.64,209.23 460.24,209.54 460.85,209.85 461.45,210.17 462.05,210.49 462.65,210.82 463.25,211.14 463.85,211.48 464.45,211.81 465.05,212.16 465.65,212.5 466.26,212.86 466.86,213.21 467.46,213.58 468.06,213.94 468.66,214.32 469.26,214.7 469.86,215.08 470.46,215.48 471.06,215.87 471.67,216.27 472.27,216.68 472.87,217.09 473.47,217.51 474.07,217.93 474.67,218.36 475.27,218.79 475.87,219.23 476.47,219.67 477.08,220.12 477.68,220.57 478.28,221.03 478.88,221.49 479.48,221.95 480.08,222.42 480.68,222.9 481.28,223.38 481.88,223.88 482.49,224.38 483.09,224.88 483.69,225.4 484.29,225.92 484.89,226.45 485.49,226.98 486.09,227.52 486.69,228.06 487.29,228.61 487.9,229.16 488.5,229.72 489.1,230.28 489.7,230.85 490.3,231.42 490.9,231.99 491.5,232.56 492.1,233.14 492.7,233.72 493.31,234.3 493.91,234.88 494.51,235.47 495.11,236.07 495.71,236.68 496.31,237.29 496.91,237.91 497.51,238.54 498.11,239.18 498.72,239.83 499.32,240.49 499.92,241.15 500.52,241.83 501.12,242.52 501.72,243.22 502.32,243.93 502.92,244.64 503.52,245.37 504.13,246.12 504.73,246.87 505.33,247.63 505.93,248.41 506.53,249.2 507.13,250.01 507.73,250.84 508.33,251.69 508.93,252.54 509.54,253.41 510.14,254.28 510.74,255.16 511.34,256.04 511.94,256.91 512.54,257.79 513.14,258.67 513.74,259.55 514.34,260.44 514.95,261.33 515.55,262.23 516.15,263.13 516.75,264.03 517.35,264.94 517.95,265.85 518.55,266.76 519.15,267.67 519.75,268.58 520.36,269.5 520.96,270.42 521.56,271.34 522.16,272.25 522.76,273.18 523.36,274.1 523.96,275.02 524.56,275.94 525.16,276.87 525.77,277.8 526.37,278.73 526.97,279.67 527.57,280.61 528.17,281.55 528.77,282.49 529.37,283.44 529.97,284.39 530.57,285.35 531.18,286.32 531.78,287.29 532.38,288.27 532.98,289.26 533.58,290.27 534.18,291.28 534.78,292.3 535.38,293.32 535.98,294.34 536.59,295.36 537.19,296.38 537.79,297.39 538.39,298.39 538.99,299.38 539.59,300.35 540.19,301.3 540.79,302.25 541.39,303.18 542,304.1 542.6,305.01 543.2,305.92 543.8,306.81 544.4,307.7"/>
<polyline clip-path="url(#c2)" fill="none" stroke="#000000" stroke-width="0.85" points="328,158.6 328.6,158.69 329.2,158.78 329.8,158.88 330.4,158.98 331.01,159.09 331.61,159.19 332.21,159.31 332.81,159.42 333.41,159.54 334.01,159.66 334.61,159.78 335.21,159.91 335.82,160.04 336.42,160.17 337.02,160.3 337.62,160.44 338.22,160.58 338.82,160.72 339.42,160.86 340.02,161.01 340.63,161.15 341.23,161.31 341.83,161.47 342.43,161.63 343.03,161.8 343.63,161.97 344.23,162.14 344.83,162.32 345.44,162.51 346.04,162.69 346.64,162.88 347.24,163.08 347.84,163.27 348.44,163.47 349.04,163.67 349.64,163.88 350.25,164.08 350.85,164.3 351.45,164.51 352.05,164.73 352.65,164.96 353.25,165.18 353.85,165.42 354.45,165.65 355.06,165.9 355.66,166.14 356.26,166.39 356.86,166.64 357.46,166.89 358.06,167.15 358.66,167.41 359.26,167.67 359.87,167.94 360.47,168.21 361.07,168.49 361.67,168.77 362.27,169.07 362.87,169.37 363.47,169.67 364.07,169.98 364.68,170.29 365.28,170.6 365.88,170.91 366.48,171.23 367.08,171.54 367.68,171.85 368.28,172.15 368.88,172.45 369.48,172.75 370.09,173.04 370.69,173.33 371.29,173.61 371.89,173.9 372.49,174.18 373.09,174.46 373.69,174.75 374.29,175.02 374.9,175.3 375.5,175.58 376.1,175.85 376.7,176.13 377.3,176.4 377.9,176.67 378.5,176.94 379.1,177.21 379.71,177.47 380.31,177.73 380.91,178 381.51,178.26 382.11,178.52 382.71,178.78 383.31,179.04 383.91,179.29 384.52,179.55 385.12,179.8 385.72,180.05 386.32,180.3 386.92,180.55 387.52,180.8 388.12,181.04 388.72,181.29 389.33,181.53 389.93,181.77 390.53,182.01 391.13,182.25 391.73,182.48 392.33,182.71 392.93,182.94 393.53,183.17 394.14,183.39 394.74,183.62 395.34,183.84 395.94,184.07 396.54,184.29 397.14,184.52 397.74,184.74 398.34,184.97 398.95,185.2 399.55,185.43 400.15,185.66 400.75,185.89 401.35,186.12 401.95,186.35 402.55,186.58 403.15,186.82 403.76,187.05 404.36,187.28 404.96,187.51 405.56,187.75 406.16,187.98 406.76,188.22 407.36,188.45 407.96,188.69 408.56,188.93 409.17,189.17 409.77,189.41 410.37,189.65 410.97,189.89 411.57,190.13 412.17,190.38 412.77,190.62 413.37,190.87 413.98,191.11 414.58,191.36 415.18,191.61 415.78,191.85 416.38,192.1 416.98,192.35 417.58,192.6 418.18,192.85 418.79,193.1 419.39,193.35 419.99,193.6 420.59,193.84 421.19,194.09 421.79,194.34 422.39,194.59 422.99,194.83 423.6,195.08 424.2,195.32 424.8,195.57 425.4,195.81 426,196.06 426.6,196.3 427.2,196.55 427.8,196.79 428.41,197.04 429.01,197.29 429.61,197.53 430.21,197.78 430.81,198.03 431.41,198.28 432.01,198.53 432.61,198.78 433.22,199.03 433.82,199.29 434.42,199.54 435.02,199.8 435.62,200.06 436.22,200.32 436.82,200.58 437.42,200.85 438.03,201.11 438.63,201.38 439.23,201.65 439.83,201.92 440.43,202.2 441.03,202.47 441.63,202.75 442.23,203.03 442.84,203.31 443.44,203.59 444.04,203.87 444.64,204.16 445.24,204.44 445.84,204.73 446.44,205.02 447.04,205.31 447.64,205.6 448.25,205.89 448.85,206.19 449.45,206.48 450.05,206.78 450.65,207.08 451.25,207.38 451.85,207.69 452.45,207.99 453.06,208.3 453.66,208.61 454.26,208.92 454.86,209.24 455.46,209.55 456.06,209.87 456.66,210.19 457.26,210.51 457.87,210.83 458.47,211.16 459.07,211.49 459.67,211.82 460.27,212.15 460.87,212.48 461.47,212.82 462.07,213.15 462.68,213.49 463.28,213.83 463.88,214.17 464.48,214.51 465.08,214.86 465.68,215.21 466.28,215.55 466.88,215.9 467.49,216.26 468.09,216.61 468.69,216.97 469.29,217.33 469.89,217.7 470.49,218.07 471.09,218.44 471.69,218.81 472.3,219.19 472.9,219.57 473.5,219.96 474.1,220.34 474.7,220.74 475.3,221.14 475.9,221.54 476.5,221.94 477.11,222.35 477.71,222.77 478.31,223.19 478.91,223.61 479.51,224.05 480.11,224.48 480.71,224.92 481.31,225.37 481.92,225.82 482.52,226.28 483.12,226.74 483.72,227.21 484.32,227.68 484.92,228.16 485.52,228.65 486.12,229.14 486.72,229.64 487.33,230.14 487.93,230.65 488.53,231.16 489.13,231.68 489.73,232.2 490.33,232.73 490.93,233.26 491.53,233.8 492.14,234.35 492.74,234.9 493.34,235.46 493.94,236.02 494.54,236.59 495.14,237.16 495.74,237.74 496.34,238.33 496.95,238.92 497.55,239.51 498.15,240.11 498.75,240.72 499.35,241.33 499.95,241.95 500.55,242.58 501.15,243.22 501.76,243.88 502.36,244.56 502.96,245.25 503.56,245.95 504.16,246.66 504.76,247.39 505.36,248.12 505.96,248.86 506.57,249.61 507.17,250.37 507.77,251.13 508.37,251.9 508.97,252.67 509.57,253.45 510.17,254.22 510.77,255.02 511.38,255.85 511.98,256.69 512.58,257.55 513.18,258.43 513.78,259.31 514.38,260.2 514.98,261.09 515.58,261.98 516.19,262.85 516.79,263.72 517.39,264.57 517.99,265.41 518.59,266.22 519.19,267 519.79,267.75 520.39,268.47 521,269.15 521.6,269.82 522.2,270.46 522.8,271.09 523.4,271.7"/>
<path clip-path="url(#c2)" d="M333.5 89.45V90.55M330.5 89.45H336.5M330.5 90.55H336.5" stroke="#0000cc" stroke-width="0.75" fill="none"/>
<path clip-path="url(#c2)" d="M343.4 98.25V99.35M340.4 98.25H346.4M340.4 99.35H346.4" stroke="#0000cc" stroke-width="0.75" fill="none"/>
<path clip-path="url(#c2)" d="M353.31 107.05V108.15M350.31 107.05H356.31M350.31 108.15H356.31" stroke="#0000cc" stroke-width="0.75" fill="none"/>
<path clip-path="url(#c2)" d="M363.21 116.45V117.55M360.21 116.45H366.21M360.21 117.55H366.21" stroke="#0000cc" stroke-width="0.75" fill="none"/>
<path clip-path="url(#c2)" d="M373.12 126.85V127.95M370.12 126.85H376.12M370.12 127.95H376.12" stroke="#0000cc" stroke-width="0.75" fill="none"/>
<path clip-path="url(#c2)" d="M383.02 137.05V138.15M380.02 137.05H386.02M380.02 138.15H386.02" stroke="#0000cc" stroke-width="0.75" fill="none"/>
<path clip-path="url(#c2)" d="M392.93 146.05V147.15M389.93 146.05H395.93M389.93 147.15H395.93" stroke="#0000cc" stroke-width="0.75" fill="none"/>
<path clip-path="url(#c2)" d="M402.83 154.85V155.95M399.83 154.85H405.83M399.83 155.95H405.83" stroke="#0000cc" stroke-width="0.75" fill="none"/>
<path clip-path="url(#c2)" d="M412.74 161.45V162.55M409.74 161.45H415.74M409.74 162.55H415.74" stroke="#0000cc" stroke-width="0.75" fill="none"/>
<path clip-path="url(#c2)" d="M422.64 167.45V168.55M419.64 167.45H425.64M419.64 168.55H425.64" stroke="#0000cc" stroke-width="0.75" fill="none"/>
<path clip-path="url(#c2)" d="M432.55 172.1V173.9M429.55 172.1H435.55M429.55 173.9H435.55" stroke="#0000cc" stroke-width="0.75" fill="none"/>
<path clip-path="url(#c2)" d="M442.45 176.7V178.5M439.45 176.7H445.45M439.45 178.5H445.45" stroke="#0000cc" stroke-width="0.75" fill="none"/>
<path clip-path="url(#c2)" d="M452.36 181.1V182.9M449.36 181.1H455.36M449.36 182.9H455.36" stroke="#0000cc" stroke-width="0.75" fill="none"/>
<path clip-path="url(#c2)" d="M462.26 185.8V188.2M459.26 185.8H465.26M459.26 188.2H465.26" stroke="#0000cc" stroke-width="0.75" fill="none"/>
<path clip-path="url(#c2)" d="M472.17 191.4V193.8M469.17 191.4H475.17M469.17 193.8H475.17" stroke="#0000cc" stroke-width="0.75" fill="none"/>
<path clip-path="url(#c2)" d="M482.07 198.2V200.6M479.07 198.2H485.07M479.07 200.6H485.07" stroke="#0000cc" stroke-width="0.75" fill="none"/>
<path clip-path="url(#c2)" d="M491.98 206V209.2M488.98 206H494.98M488.98 209.2H494.98" stroke="#0000cc" stroke-width="0.75" fill="none"/>
<path clip-path="url(#c2)" d="M501.88 216.4V219.6M498.88 216.4H504.88M498.88 219.6H504.88" stroke="#0000cc" stroke-width="0.75" fill="none"/>
<path clip-path="url(#c2)" d="M511.79 228V231.2M508.79 228H514.79M508.79 231.2H514.79" stroke="#0000cc" stroke-width="0.75" fill="none"/>
<path clip-path="url(#c2)" d="M521.69 241V245M518.69 241H524.69M518.69 245H524.69" stroke="#0000cc" stroke-width="0.75" fill="none"/>
<path clip-path="url(#c2)" d="M531.6 257.6V261.6M528.6 257.6H534.6M528.6 261.6H534.6" stroke="#0000cc" stroke-width="0.75" fill="none"/>
<polygon points="333.5,87.15 330.85,91.45 336.15,91.45" fill="#0000cc"/>
<polygon points="343.4,95.95 340.75,100.25 346.05,100.25" fill="#0000cc"/>
<polygon points="353.31,104.75 350.66,109.05 355.96,109.05" fill="#0000cc"/>
<polygon points="363.21,114.15 360.56,118.45 365.86,118.45" fill="#0000cc"/>
<polygon points="373.12,124.55 370.47,128.85 375.77,128.85" fill="#0000cc"/>
<polygon points="383.02,134.75 380.38,139.05 385.67,139.05" fill="#0000cc"/>
<polygon points="392.93,143.75 390.28,148.05 395.58,148.05" fill="#0000cc"/>
<polygon points="402.83,152.55 400.19,156.85 405.48,156.85" fill="#0000cc"/>
<polygon points="412.74,159.15 410.09,163.45 415.39,163.45" fill="#0000cc"/>
<polygon points="422.64,165.15 420,169.45 425.29,169.45" fill="#0000cc"/>
<polygon points="432.55,170.15 429.9,174.45 435.2,174.45" fill="#0000cc"/>
<polygon points="442.45,174.75 439.81,179.05 445.1,179.05" fill="#0000cc"/>
<polygon points="452.36,179.15 449.71,183.45 455.01,183.45" fill="#0000cc"/>
<polygon points="462.26,184.15 459.62,188.45 464.91,188.45" fill="#0000cc"/>
<polygon points="472.17,189.75 469.52,194.05 474.82,194.05" fill="#0000cc"/>
<polygon points="482.07,196.55 479.43,200.85 484.72,200.85" fill="#0000cc"/>
<polygon points="491.98,204.75 489.33,209.05 494.63,209.05" fill="#0000cc"/>
<polygon points="501.88,215.15 499.24,219.45 504.53,219.45" fill="#0000cc"/>
<polygon points="511.79,226.75 509.14,231.05 514.44,231.05" fill="#0000cc"/>
<polygon points="521.69,240.15 519.04,244.45 524.34,244.45" fill="#0000cc"/>
<polygon points="531.6,256.75 528.95,261.05 534.25,261.05" fill="#0000cc"/>
<polyline clip-path="url(#c2)" fill="none" stroke="#0000cc" stroke-width="0.6" stroke-dasharray="2.1 2.7" points="328,154.6 328.6,154.6 329.2,154.6 329.8,154.6 330.4,154.61 331.01,154.61 331.61,154.62 332.21,154.62 332.81,154.63 333.41,154.64 334.01,154.65 334.61,154.66 335.21,154.67 335.81,154.68 336.42,154.69 337.02,154.71 337.62,154.72 338.22,154.73 338.82,154.75 339.42,154.76 340.02,154.78 340.62,154.8 341.22,154.82 341.83,154.84 342.43,154.85 343.03,154.87 343.63,154.89 344.23,154.92 344.83,154.94 345.43,154.96 346.03,154.98 346.63,155 347.24,155.03 347.84,155.05 348.44,155.08 349.04,155.1 349.64,155.13 350.24,155.15 350.84,155.18 351.44,155.2 352.04,155.23 352.65,155.26 353.25,155.28 353.85,155.31 354.45,155.34 355.05,155.37 355.65,155.39 356.25,155.42 356.85,155.45 357.45,155.48 358.06,155.51 358.66,155.54 359.26,155.56 359.86,155.59 360.46,155.62 361.06,155.65 361.66,155.69 362.26,155.73 362.86,155.76 363.47,155.8 364.07,155.85 364.67,155.89 365.27,155.94 365.87,155.99 366.47,156.04 367.07,156.09 367.67,156.14 368.27,156.19 368.88,156.25 369.48,156.3 370.08,156.36 370.68,156.42 371.28,156.48 371.88,156.54 372.48,156.6 373.08,156.66 373.68,156.73 374.29,156.79 374.89,156.85 375.49,156.92 376.09,156.98 376.69,157.05 377.29,157.11 377.89,157.17 378.49,157.24 379.09,157.3 379.7,157.37 380.3,157.43 380.9,157.5 381.5,157.56 382.1,157.62 382.7,157.69 383.3,157.75 383.9,157.82 384.5,157.88 385.11,157.95 385.71,158.02 386.31,158.09 386.91,158.15 387.51,158.22 388.11,158.29 388.71,158.37 389.31,158.44 389.91,158.51 390.52,158.59 391.12,158.66 391.72,158.74 392.32,158.82 392.92,158.9 393.52,158.98 394.12,159.07 394.72,159.15 395.32,159.24 395.93,159.33 396.53,159.42 397.13,159.52 397.73,159.61 398.33,159.71 398.93,159.81 399.53,159.92 400.13,160.02 400.73,160.14 401.34,160.25 401.94,160.38 402.54,160.51 403.14,160.65 403.74,160.79 404.34,160.94 404.94,161.09 405.54,161.25 406.14,161.41 406.75,161.57 407.35,161.74 407.95,161.92 408.55,162.09 409.15,162.27 409.75,162.45 410.35,162.63 410.95,162.82 411.55,163 412.16,163.19 412.76,163.38 413.36,163.57 413.96,163.76 414.56,163.95 415.16,164.13 415.76,164.32 416.36,164.51 416.96,164.69 417.57,164.88 418.17,165.06 418.77,165.24 419.37,165.42 419.97,165.59 420.57,165.76 421.17,165.93 421.77,166.1 422.37,166.27 422.98,166.44 423.58,166.61 424.18,166.77 424.78,166.94 425.38,167.1 425.98,167.27 426.58,167.44 427.18,167.6 427.78,167.77 428.39,167.94 428.99,168.1 429.59,168.27 430.19,168.44 430.79,168.61 431.39,168.78 431.99,168.96 432.59,169.13 433.19,169.31 433.8,169.49 434.4,169.67 435,169.86 435.6,170.04 436.2,170.23 436.8,170.42 437.4,170.62 438,170.82 438.6,171.02 439.21,171.22 439.81,171.43 440.41,171.64 441.01,171.86 441.61,172.09 442.21,172.31 442.81,172.55 443.41,172.78 444.01,173.03 444.62,173.27 445.22,173.52 445.82,173.77 446.42,174.03 447.02,174.29 447.62,174.55 448.22,174.82 448.82,175.09 449.42,175.36 450.03,175.63 450.63,175.9 451.23,176.18 451.83,176.46 452.43,176.73 453.03,177.01 453.63,177.3 454.23,177.58 454.83,177.86 455.44,178.15 456.04,178.44 456.64,178.73 457.24,179.02 457.84,179.32 458.44,179.62 459.04,179.92 459.64,180.23 460.24,180.54 460.85,180.85 461.45,181.17 462.05,181.49 462.65,181.82 463.25,182.14 463.85,182.48 464.45,182.81 465.05,183.16 465.65,183.5 466.26,183.86 466.86,184.21 467.46,184.58 468.06,184.94 468.66,185.32 469.26,185.7 469.86,186.08 470.46,186.48 471.06,186.87 471.67,187.27 472.27,187.68 472.87,188.09 473.47,188.51 474.07,188.93 474.67,189.36 475.27,189.79 475.87,190.23 476.47,190.67 477.08,191.12 477.68,191.57 478.28,192.03 478.88,192.49 479.48,192.95 480.08,193.42 480.68,193.9 481.28,194.38 481.88,194.88 482.49,195.38 483.09,195.88 483.69,196.4 484.29,196.92 484.89,197.45 485.49,197.98 486.09,198.52 486.69,199.06 487.29,199.61 487.9,200.16 488.5,200.72 489.1,201.28 489.7,201.85 490.3,202.42 490.9,202.99 491.5,203.56 492.1,204.14 492.7,204.72 493.31,205.3 493.91,205.88 494.51,206.47 495.11,207.07 495.71,207.68 496.31,208.29 496.91,208.91 497.51,209.54 498.11,210.18 498.72,210.83 499.32,211.49 499.92,212.15 500.52,212.83 501.12,213.52 501.72,214.22 502.32,214.93 502.92,215.64 503.52,216.37 504.13,217.12 504.73,217.87 505.33,218.63 505.93,219.41 506.53,220.2 507.13,221.01 507.73,221.84 508.33,222.69 508.93,223.54 509.54,224.41 510.14,225.28 510.74,226.16 511.34,227.04 511.94,227.91 512.54,228.79 513.14,229.67 513.74,230.55 514.34,231.44 514.95,232.33 515.55,233.23 516.15,234.13 516.75,235.03 517.35,235.94 517.95,236.85 518.55,237.76 519.15,238.67 519.75,239.58 520.36,240.5 520.96,241.42 521.56,242.34 522.16,243.25 522.76,244.18 523.36,245.1 523.96,246.02 524.56,246.94 525.16,247.87 525.77,248.8 526.37,249.73 526.97,250.67 527.57,251.61 528.17,252.55 528.77,253.49 529.37,254.44 529.97,255.39 530.57,256.35 531.18,257.32 531.78,258.29 532.38,259.27 532.98,260.26 533.58,261.27 534.18,262.28 534.78,263.3 535.38,264.32 535.98,265.34 536.59,266.36 537.19,267.38 537.79,268.39 538.39,269.39 538.99,270.38 539.59,271.35 540.19,272.3 540.79,273.25 541.39,274.18 542,275.1 542.6,276.01 543.2,276.92 543.8,277.81 544.4,278.7"/>
<polyline clip-path="url(#c2)" fill="none" stroke="#0000cc" stroke-width="0.85" points="328,92.4 328.6,92.95 329.2,93.51 329.8,94.07 330.4,94.63 331,95.2 331.6,95.77 332.2,96.34 332.8,96.91 333.4,97.49 334,98.07 334.6,98.65 335.2,99.24 335.8,99.82 336.4,100.41 337,101 337.6,101.6 338.2,102.2 338.8,102.8 339.4,103.4 340,104 340.6,104.61 341.2,105.22 341.8,105.84 342.4,106.46 343,107.09 343.6,107.72 344.2,108.35 344.8,108.99 345.4,109.62 346,110.26 346.6,110.9 347.2,111.54 347.8,112.17 348.4,112.81 349,113.45 349.6,114.08 350.2,114.71 350.8,115.34 351.4,115.98 352,116.62 352.6,117.26 353.2,117.9 353.8,118.54 354.4,119.18 355,119.82 355.6,120.45 356.2,121.09 356.8,121.72 357.4,122.34 358,122.97 358.6,123.58 359.2,124.2 359.8,124.8 360.4,125.4 361,125.99 361.6,126.58 362.2,127.17 362.8,127.76 363.4,128.34 364,128.92 364.6,129.49 365.2,130.07 365.8,130.63 366.4,131.2 367,131.76 367.6,132.31 368.2,132.87 368.8,133.42 369.4,133.96 370,134.5 370.6,135.04 371.2,135.57 371.8,136.11 372.4,136.64 373,137.17 373.6,137.7 374.2,138.22 374.8,138.74 375.4,139.25 376,139.76 376.6,140.27 377.2,140.77 377.8,141.26 378.4,141.74 379,142.22 379.6,142.69 380.2,143.15 380.8,143.61 381.4,144.06 382,144.5 382.6,144.94 383.2,145.38 383.8,145.81 384.4,146.23 385,146.65 385.6,147.07 386.2,147.48 386.8,147.89 387.4,148.29 388,148.69 388.6,149.09 389.2,149.48 389.8,149.87 390.4,150.26 391,150.64 391.6,151.02 392.2,151.39 392.8,151.76 393.4,152.12 394,152.49 394.6,152.85 395.2,153.2 395.8,153.56 396.4,153.91 397,154.26 397.6,154.61 398.2,154.96 398.8,155.31 399.4,155.65 400,156 400.6,156.35 401.2,156.69 401.8,157.04 402.4,157.39 403,157.73 403.6,158.08 404.2,158.42 404.8,158.76 405.4,159.1 406,159.43 406.6,159.77 407.2,160.1 407.8,160.43 408.4,160.75 409,161.07 409.6,161.39 410.2,161.7 410.8,162.01 411.4,162.32 412,162.62 412.6,162.93 413.2,163.22 413.8,163.52 414.4,163.81 415,164.1 415.6,164.39 416.2,164.68 416.8,164.97 417.4,165.26 418,165.54 418.6,165.83 419.2,166.12 419.8,166.4 420.4,166.69 421,166.98 421.6,167.28 422.2,167.57 422.8,167.86 423.4,168.16 424,168.45 424.6,168.75 425.2,169.04 425.8,169.33 426.4,169.62 427,169.91 427.6,170.2 428.2,170.48 428.8,170.76 429.4,171.03 430,171.3 430.6,171.57 431.2,171.83 431.8,172.09 432.4,172.34 433,172.59 433.6,172.82 434.2,173.05 434.8,173.28 435.4,173.49 436,173.71 436.6,173.93 437.2,174.14 437.8,174.35 438.4,174.56 439,174.78 439.6,175 440.2,175.22 440.8,175.45 441.4,175.68 442,175.92 442.6,176.17 443.2,176.42 443.8,176.67 444.4,176.93 445,177.2 445.6,177.46 446.2,177.73 446.8,178.01 447.4,178.28 448,178.56 448.6,178.84 449.2,179.12 449.8,179.41 450.4,179.69 451,179.98 451.6,180.26 452.2,180.55 452.8,180.83 453.4,181.12 454,181.41 454.6,181.7 455.2,182 455.8,182.29 456.4,182.59 457,182.89 457.6,183.19 458.2,183.49 458.8,183.79 459.4,184.1 460,184.41 460.6,184.72 461.2,185.03 461.8,185.34 462.4,185.66 463,185.97 463.6,186.29 464.2,186.61 464.8,186.92 465.4,187.24 466,187.56 466.6,187.89 467.2,188.21 467.8,188.54 468.4,188.88 469,189.22 469.6,189.56 470.2,189.91 470.8,190.27 471.4,190.63 472,191 472.6,191.38 473.2,191.76 473.8,192.16 474.4,192.56 475,192.96 475.6,193.38 476.2,193.8 476.8,194.22 477.4,194.65 478,195.09 478.6,195.53 479.2,195.97 479.8,196.42 480.4,196.87 481,197.32 481.6,197.77 482.2,198.23 482.8,198.69 483.4,199.15 484,199.61 484.6,200.07 485.2,200.55 485.8,201.02 486.4,201.5 487,201.98 487.6,202.47 488.2,202.97 488.8,203.47 489.4,203.98 490,204.5 490.6,205.03 491.2,205.56 491.8,206.11 492.4,206.66 493,207.23 493.6,207.81 494.2,208.4 494.8,209 495.4,209.61 496,210.23 496.6,210.85 497.2,211.49 497.8,212.13 498.4,212.77 499,213.42 499.6,214.08 500.2,214.73 500.8,215.39 501.4,216.06 502,216.72 502.6,217.39 503.2,218.06 503.8,218.74 504.4,219.43 505,220.12 505.6,220.81 506.2,221.51 506.8,222.22 507.4,222.93 508,223.65 508.6,224.37 509.2,225.1 509.8,225.83 510.4,226.57 511,227.32 511.6,228.07 512.2,228.83 512.8,229.6 513.4,230.36 514,231.14 514.6,231.91 515.2,232.7 515.8,233.49 516.4,234.29 517,235.1 517.6,235.91 518.2,236.74 518.8,237.57 519.4,238.42 520,239.27 520.6,240.13 521.2,241.01 521.8,241.9 522.4,242.81 523,243.74 523.6,244.69 524.2,245.66 524.8,246.64 525.4,247.64 526,248.64 526.6,249.65 527.2,250.66 527.8,251.68 528.4,252.7 529,253.71 529.6,254.72 530.2,255.72 530.8,256.7 531.4,257.68 532,258.64 532.6,259.62 533.2,260.59 533.8,261.57 534.4,262.54 535,263.49 535.6,264.42 536.2,265.33 536.8,266.21 537.4,267.06 538,267.89 538.6,268.69 539.2,269.48 539.8,270.24 540.4,270.98 541,271.7"/>
<path clip-path="url(#c2)" d="M333.5 58.45V59.55M330.5 58.45H336.5M330.5 59.55H336.5" stroke="#008000" stroke-width="0.75" fill="none"/>
<path clip-path="url(#c2)" d="M343.4 69.85V70.95M340.4 69.85H346.4M340.4 70.95H346.4" stroke="#008000" stroke-width="0.75" fill="none"/>
<path clip-path="url(#c2)" d="M353.31 81.75V82.85M350.31 81.75H356.31M350.31 82.85H356.31" stroke="#008000" stroke-width="0.75" fill="none"/>
<path clip-path="url(#c2)" d="M363.21 93.65V94.75M360.21 93.65H366.21M360.21 94.75H366.21" stroke="#008000" stroke-width="0.75" fill="none"/>
<path clip-path="url(#c2)" d="M373.12 106.05V107.15M370.12 106.05H376.12M370.12 107.15H376.12" stroke="#008000" stroke-width="0.75" fill="none"/>
<path clip-path="url(#c2)" d="M383.02 118.85V119.95M380.02 118.85H386.02M380.02 119.95H386.02" stroke="#008000" stroke-width="0.75" fill="none"/>
<path clip-path="url(#c2)" d="M392.93 131.45V132.55M389.93 131.45H395.93M389.93 132.55H395.93" stroke="#008000" stroke-width="0.75" fill="none"/>
<path clip-path="url(#c2)" d="M402.83 143.05V144.15M399.83 143.05H405.83M399.83 144.15H405.83" stroke="#008000" stroke-width="0.75" fill="none"/>
<path clip-path="url(#c2)" d="M412.74 153.45V154.55M409.74 153.45H415.74M409.74 154.55H415.74" stroke="#008000" stroke-width="0.75" fill="none"/>
<path clip-path="url(#c2)" d="M422.64 161.45V162.55M419.64 161.45H425.64M419.64 162.55H425.64" stroke="#008000" stroke-width="0.75" fill="none"/>
<path clip-path="url(#c2)" d="M432.55 167.5V169.3M429.55 167.5H435.55M429.55 169.3H435.55" stroke="#008000" stroke-width="0.75" fill="none"/>
<path clip-path="url(#c2)" d="M442.45 172.4V174.2M439.45 172.4H445.45M439.45 174.2H445.45" stroke="#008000" stroke-width="0.75" fill="none"/>
<path clip-path="url(#c2)" d="M452.36 176.9V178.7M449.36 176.9H455.36M449.36 178.7H455.36" stroke="#008000" stroke-width="0.75" fill="none"/>
<path clip-path="url(#c2)" d="M462.26 181V183.4M459.26 181H465.26M459.26 183.4H465.26" stroke="#008000" stroke-width="0.75" fill="none"/>
<path clip-path="url(#c2)" d="M472.17 186.8V189.2M469.17 186.8H475.17M469.17 189.2H475.17" stroke="#008000" stroke-width="0.75" fill="none"/>
<path clip-path="url(#c2)" d="M482.07 193.8V196.2M479.07 193.8H485.07M479.07 196.2H485.07" stroke="#008000" stroke-width="0.75" fill="none"/>
<path clip-path="url(#c2)" d="M491.98 201.4V204.6M488.98 201.4H494.98M488.98 204.6H494.98" stroke="#008000" stroke-width="0.75" fill="none"/>
<path clip-path="url(#c2)" d="M501.88 210.8V214M498.88 210.8H504.88M498.88 214H504.88" stroke="#008000" stroke-width="0.75" fill="none"/>
<path clip-path="url(#c2)" d="M511.79 222V225.2M508.79 222H514.79M508.79 225.2H514.79" stroke="#008000" stroke-width="0.75" fill="none"/>
<path clip-path="url(#c2)" d="M521.69 235V239M518.69 235H524.69M518.69 239H524.69" stroke="#008000" stroke-width="0.75" fill="none"/>
<path clip-path="url(#c2)" d="M531.6 251V255M528.6 251H534.6M528.6 255H534.6" stroke="#008000" stroke-width="0.75" fill="none"/>
<circle cx="333.5" cy="59" r="2.65" fill="#008000"/>
<circle cx="343.4" cy="70.4" r="2.65" fill="#008000"/>
<circle cx="353.31" cy="82.3" r="2.65" fill="#008000"/>
<circle cx="363.21" cy="94.2" r="2.65" fill="#008000"/>
<circle cx="373.12" cy="106.6" r="2.65" fill="#008000"/>
<circle cx="383.02" cy="119.4" r="2.65" fill="#008000"/>
<circle cx="392.93" cy="132" r="2.65" fill="#008000"/>
<circle cx="402.83" cy="143.6" r="2.65" fill="#008000"/>
<circle cx="412.74" cy="154" r="2.65" fill="#008000"/>
<circle cx="422.64" cy="162" r="2.65" fill="#008000"/>
<circle cx="432.55" cy="168.4" r="2.65" fill="#008000"/>
<circle cx="442.45" cy="173.3" r="2.65" fill="#008000"/>
<circle cx="452.36" cy="177.8" r="2.65" fill="#008000"/>
<circle cx="462.26" cy="182.2" r="2.65" fill="#008000"/>
<circle cx="472.17" cy="188" r="2.65" fill="#008000"/>
<circle cx="482.07" cy="195" r="2.65" fill="#008000"/>
<circle cx="491.98" cy="203" r="2.65" fill="#008000"/>
<circle cx="501.88" cy="212.4" r="2.65" fill="#008000"/>
<circle cx="511.79" cy="223.6" r="2.65" fill="#008000"/>
<circle cx="521.69" cy="237" r="2.65" fill="#008000"/>
<circle cx="531.6" cy="253" r="2.65" fill="#008000"/>
<polyline clip-path="url(#c2)" fill="none" stroke="#008000" stroke-width="0.6" stroke-dasharray="2.1 2.7" points="328,147.6 328.6,147.6 329.2,147.6 329.8,147.6 330.4,147.61 331.01,147.61 331.61,147.62 332.21,147.62 332.81,147.63 333.41,147.64 334.01,147.65 334.61,147.66 335.21,147.67 335.81,147.68 336.42,147.69 337.02,147.71 337.62,147.72 338.22,147.73 338.82,147.75 339.42,147.76 340.02,147.78 340.62,147.8 341.22,147.82 341.83,147.84 342.43,147.85 343.03,147.87 343.63,147.89 344.23,147.92 344.83,147.94 345.43,147.96 346.03,147.98 346.63,148 347.24,148.03 347.84,148.05 348.44,148.08 349.04,148.1 349.64,148.13 350.24,148.15 350.84,148.18 351.44,148.2 352.04,148.23 352.65,148.26 353.25,148.28 353.85,148.31 354.45,148.34 355.05,148.37 355.65,148.39 356.25,148.42 356.85,148.45 357.45,148.48 358.06,148.51 358.66,148.54 359.26,148.56 359.86,148.59 360.46,148.62 361.06,148.65 361.66,148.69 362.26,148.73 362.86,148.76 363.47,148.8 364.07,148.85 364.67,148.89 365.27,148.94 365.87,148.99 366.47,149.04 367.07,149.09 367.67,149.14 368.27,149.19 368.88,149.25 369.48,149.3 370.08,149.36 370.68,149.42 371.28,149.48 371.88,149.54 372.48,149.6 373.08,149.66 373.68,149.73 374.29,149.79 374.89,149.85 375.49,149.92 376.09,149.98 376.69,150.05 377.29,150.11 377.89,150.17 378.49,150.24 379.09,150.3 379.7,150.37 380.3,150.43 380.9,150.5 381.5,150.56 382.1,150.62 382.7,150.69 383.3,150.75 383.9,150.82 384.5,150.88 385.11,150.95 385.71,151.02 386.31,151.09 386.91,151.15 387.51,151.22 388.11,151.29 388.71,151.37 389.31,151.44 389.91,151.51 390.52,151.59 391.12,151.66 391.72,151.74 392.32,151.82 392.92,151.9 393.52,151.98 394.12,152.07 394.72,152.15 395.32,152.24 395.93,152.33 396.53,152.42 397.13,152.52 397.73,152.61 398.33,152.71 398.93,152.81 399.53,152.92 400.13,153.02 400.73,153.14 401.34,153.25 401.94,153.38 402.54,153.51 403.14,153.65 403.74,153.79 404.34,153.94 404.94,154.09 405.54,154.25 406.14,154.41 406.75,154.57 407.35,154.74 407.95,154.92 408.55,155.09 409.15,155.27 409.75,155.45 410.35,155.63 410.95,155.82 411.55,156 412.16,156.19 412.76,156.38 413.36,156.57 413.96,156.76 414.56,156.95 415.16,157.13 415.76,157.32 416.36,157.51 416.96,157.69 417.57,157.88 418.17,158.06 418.77,158.24 419.37,158.42 419.97,158.59 420.57,158.76 421.17,158.93 421.77,159.1 422.37,159.27 422.98,159.44 423.58,159.61 424.18,159.77 424.78,159.94 425.38,160.1 425.98,160.27 426.58,160.44 427.18,160.6 427.78,160.77 428.39,160.94 428.99,161.1 429.59,161.27 430.19,161.44 430.79,161.61 431.39,161.78 431.99,161.96 432.59,162.13 433.19,162.31 433.8,162.49 434.4,162.67 435,162.86 435.6,163.04 436.2,163.23 436.8,163.42 437.4,163.62 438,163.82 438.6,164.02 439.21,164.22 439.81,164.43 440.41,164.64 441.01,164.86 441.61,165.09 442.21,165.31 442.81,165.55 443.41,165.78 444.01,166.03 444.62,166.27 445.22,166.52 445.82,166.77 446.42,167.03 447.02,167.29 447.62,167.55 448.22,167.82 448.82,168.09 449.42,168.36 450.03,168.63 450.63,168.9 451.23,169.18 451.83,169.46 452.43,169.73 453.03,170.01 453.63,170.3 454.23,170.58 454.83,170.86 455.44,171.15 456.04,171.44 456.64,171.73 457.24,172.02 457.84,172.32 458.44,172.62 459.04,172.92 459.64,173.23 460.24,173.54 460.85,173.85 461.45,174.17 462.05,174.49 462.65,174.82 463.25,175.14 463.85,175.48 464.45,175.81 465.05,176.16 465.65,176.5 466.26,176.86 466.86,177.21 467.46,177.58 468.06,177.94 468.66,178.32 469.26,178.7 469.86,179.08 470.46,179.48 471.06,179.87 471.67,180.27 472.27,180.68 472.87,181.09 473.47,181.51 474.07,181.93 474.67,182.36 475.27,182.79 475.87,183.23 476.47,183.67 477.08,184.12 477.68,184.57 478.28,185.03 478.88,185.49 479.48,185.95 480.08,186.42 480.68,186.9 481.28,187.38 481.88,187.88 482.49,188.38 483.09,188.88 483.69,189.4 484.29,189.92 484.89,190.45 485.49,190.98 486.09,191.52 486.69,192.06 487.29,192.61 487.9,193.16 488.5,193.72 489.1,194.28 489.7,194.85 490.3,195.42 490.9,195.99 491.5,196.56 492.1,197.14 492.7,197.72 493.31,198.3 493.91,198.88 494.51,199.47 495.11,200.07 495.71,200.68 496.31,201.29 496.91,201.91 497.51,202.54 498.11,203.18 498.72,203.83 499.32,204.49 499.92,205.15 500.52,205.83 501.12,206.52 501.72,207.22 502.32,207.93 502.92,208.64 503.52,209.37 504.13,210.12 504.73,210.87 505.33,211.63 505.93,212.41 506.53,213.2 507.13,214.01 507.73,214.84 508.33,215.69 508.93,216.54 509.54,217.41 510.14,218.28 510.74,219.16 511.34,220.04 511.94,220.91 512.54,221.79 513.14,222.67 513.74,223.55 514.34,224.44 514.95,225.33 515.55,226.23 516.15,227.13 516.75,228.03 517.35,228.94 517.95,229.85 518.55,230.76 519.15,231.67 519.75,232.58 520.36,233.5 520.96,234.42 521.56,235.34 522.16,236.25 522.76,237.18 523.36,238.1 523.96,239.02 524.56,239.94 525.16,240.87 525.77,241.8 526.37,242.73 526.97,243.67 527.57,244.61 528.17,245.55 528.77,246.49 529.37,247.44 529.97,248.39 530.57,249.35 531.18,250.32 531.78,251.29 532.38,252.27 532.98,253.26 533.58,254.27 534.18,255.28 534.78,256.3 535.38,257.32 535.98,258.34 536.59,259.36 537.19,260.38 537.79,261.39 538.39,262.39 538.99,263.38 539.59,264.35 540.19,265.3 540.79,266.25 541.39,267.18 542,268.1 542.6,269.01 543.2,269.92 543.8,270.81 544.4,271.7"/>
<polyline clip-path="url(#c2)" fill="none" stroke="#008000" stroke-width="0.85" points="328,101 328.6,101.09 329.2,101.19 329.8,101.29 330.4,101.4 331.01,101.51 331.61,101.62 332.21,101.74 332.81,101.87 333.41,102 334.01,102.13 334.61,102.26 335.21,102.4 335.81,102.54 336.42,102.69 337.02,102.83 337.62,102.98 338.22,103.13 338.82,103.29 339.42,103.45 340.02,103.61 340.62,103.77 341.22,103.94 341.83,104.11 342.43,104.29 343.03,104.48 343.63,104.67 344.23,104.87 344.83,105.07 345.43,105.28 346.03,105.49 346.63,105.7 347.24,105.93 347.84,106.15 348.44,106.38 349.04,106.62 349.64,106.86 350.24,107.1 350.84,107.35 351.44,107.6 352.04,107.87 352.65,108.14 353.25,108.41 353.85,108.7 354.45,108.99 355.05,109.28 355.65,109.59 356.25,109.9 356.85,110.22 357.45,110.54 358.06,110.88 358.66,111.22 359.26,111.56 359.86,111.92 360.46,112.28 361.06,112.66 361.66,113.05 362.26,113.46 362.86,113.88 363.47,114.31 364.07,114.75 364.67,115.2 365.27,115.66 365.87,116.12 366.47,116.59 367.07,117.07 367.67,117.54 368.27,118.02 368.88,118.5 369.48,118.98 370.08,119.46 370.68,119.94 371.28,120.44 371.88,120.93 372.48,121.44 373.08,121.94 373.68,122.46 374.29,122.97 374.89,123.5 375.49,124.02 376.09,124.55 376.69,125.08 377.29,125.61 377.89,126.14 378.49,126.67 379.09,127.2 379.7,127.73 380.3,128.26 380.9,128.79 381.5,129.33 382.1,129.86 382.7,130.4 383.3,130.94 383.9,131.48 384.5,132.03 385.11,132.57 385.71,133.11 386.31,133.66 386.91,134.2 387.51,134.75 388.11,135.29 388.71,135.84 389.31,136.38 389.91,136.92 390.52,137.47 391.12,138.01 391.72,138.56 392.32,139.12 392.92,139.67 393.52,140.23 394.12,140.79 394.72,141.34 395.32,141.89 395.93,142.44 396.53,142.99 397.13,143.53 397.73,144.06 398.33,144.58 398.93,145.1 399.53,145.61 400.13,146.11 400.73,146.6 401.34,147.09 401.94,147.57 402.54,148.05 403.14,148.52 403.74,148.99 404.34,149.46 404.94,149.92 405.54,150.37 406.14,150.82 406.75,151.27 407.35,151.71 407.95,152.15 408.55,152.58 409.15,153 409.75,153.43 410.35,153.84 410.95,154.25 411.55,154.66 412.16,155.06 412.76,155.45 413.36,155.85 413.96,156.23 414.56,156.62 415.16,157 415.76,157.37 416.36,157.75 416.96,158.12 417.57,158.5 418.17,158.87 418.77,159.24 419.37,159.61 419.97,159.98 420.57,160.35 421.17,160.73 421.77,161.1 422.37,161.47 422.98,161.85 423.58,162.22 424.18,162.59 424.78,162.96 425.38,163.32 425.98,163.69 426.58,164.04 427.18,164.4 427.78,164.75 428.39,165.1 428.99,165.44 429.59,165.77 430.19,166.1 430.79,166.43 431.39,166.75 431.99,167.06 432.59,167.37 433.19,167.68 433.8,167.98 434.4,168.28 435,168.58 435.6,168.88 436.2,169.17 436.8,169.46 437.4,169.75 438,170.04 438.6,170.33 439.21,170.62 439.81,170.91 440.41,171.19 441.01,171.48 441.61,171.76 442.21,172.04 442.81,172.32 443.41,172.59 444.01,172.86 444.62,173.14 445.22,173.41 445.82,173.68 446.42,173.95 447.02,174.23 447.62,174.5 448.22,174.78 448.82,175.05 449.42,175.33 450.03,175.61 450.63,175.89 451.23,176.18 451.83,176.46 452.43,176.75 453.03,177.03 453.63,177.32 454.23,177.6 454.83,177.89 455.44,178.18 456.04,178.47 456.64,178.76 457.24,179.05 457.84,179.34 458.44,179.63 459.04,179.93 459.64,180.22 460.24,180.52 460.85,180.81 461.45,181.11 462.05,181.4 462.65,181.68 463.25,181.97 463.85,182.26 464.45,182.55 465.05,182.84 465.65,183.13 466.26,183.43 466.86,183.73 467.46,184.03 468.06,184.34 468.66,184.65 469.26,184.96 469.86,185.29 470.46,185.62 471.06,185.96 471.67,186.3 472.27,186.66 472.87,187.03 473.47,187.4 474.07,187.79 474.67,188.19 475.27,188.6 475.87,189.01 476.47,189.43 477.08,189.86 477.68,190.29 478.28,190.73 478.88,191.17 479.48,191.62 480.08,192.07 480.68,192.51 481.28,192.96 481.88,193.41 482.49,193.86 483.09,194.32 483.69,194.77 484.29,195.23 484.89,195.69 485.49,196.16 486.09,196.63 486.69,197.1 487.29,197.58 487.9,198.07 488.5,198.55 489.1,199.05 489.7,199.54 490.3,200.05 490.9,200.56 491.5,201.07 492.1,201.59 492.7,202.12 493.31,202.65 493.91,203.18 494.51,203.73 495.11,204.27 495.71,204.83 496.31,205.39 496.91,205.95 497.51,206.53 498.11,207.1 498.72,207.69 499.32,208.28 499.92,208.88 500.52,209.48 501.12,210.09 501.72,210.71 502.32,211.34 502.92,211.97 503.52,212.61 504.13,213.27 504.73,213.93 505.33,214.59 505.93,215.27 506.53,215.96 507.13,216.65 507.73,217.35 508.33,218.05 508.93,218.77 509.54,219.48 510.14,220.21 510.74,220.94 511.34,221.68 511.94,222.42 512.54,223.17 513.14,223.93 513.74,224.7 514.34,225.47 514.95,226.25 515.55,227.04 516.15,227.84 516.75,228.64 517.35,229.45 517.95,230.27 518.55,231.1 519.15,231.93 519.75,232.77 520.36,233.62 520.96,234.48 521.56,235.34 522.16,236.21 522.76,237.1 523.36,237.99 523.96,238.9 524.56,239.82 525.16,240.74 525.77,241.68 526.37,242.62 526.97,243.57 527.57,244.52 528.17,245.48 528.77,246.44 529.37,247.41 529.97,248.38 530.57,249.35 531.18,250.32 531.78,251.29 532.38,252.27 532.98,253.26 533.58,254.27 534.18,255.28 534.78,256.3 535.38,257.32 535.98,258.34 536.59,259.36 537.19,260.38 537.79,261.39 538.39,262.39 538.99,263.38 539.59,264.35 540.19,265.3 540.79,266.25 541.39,267.18 542,268.1 542.6,269.01 543.2,269.92 543.8,270.81 544.4,271.7"/>
<path clip-path="url(#c2)" d="M333.5 32.05V33.15M330.5 32.05H336.5M330.5 33.15H336.5" stroke="#cc0000" stroke-width="0.75" fill="none"/>
<path clip-path="url(#c2)" d="M343.4 46.05V47.15M340.4 46.05H346.4M340.4 47.15H346.4" stroke="#cc0000" stroke-width="0.75" fill="none"/>
<path clip-path="url(#c2)" d="M353.31 61.05V62.15M350.31 61.05H356.31M350.31 62.15H356.31" stroke="#cc0000" stroke-width="0.75" fill="none"/>
<path clip-path="url(#c2)" d="M363.21 76.85V77.95M360.21 76.85H366.21M360.21 77.95H366.21" stroke="#cc0000" stroke-width="0.75" fill="none"/>
<path clip-path="url(#c2)" d="M373.12 93.75V94.85M370.12 93.75H376.12M370.12 94.85H376.12" stroke="#cc0000" stroke-width="0.75" fill="none"/>
<path clip-path="url(#c2)" d="M383.02 111.05V112.15M380.02 111.05H386.02M380.02 112.15H386.02" stroke="#cc0000" stroke-width="0.75" fill="none"/>
<path clip-path="url(#c2)" d="M392.93 128.85V129.95M389.93 128.85H395.93M389.93 129.95H395.93" stroke="#cc0000" stroke-width="0.75" fill="none"/>
<path clip-path="url(#c2)" d="M402.83 146.45V147.55M399.83 146.45H405.83M399.83 147.55H405.83" stroke="#cc0000" stroke-width="0.75" fill="none"/>
<path clip-path="url(#c2)" d="M412.74 162.05V163.15M409.74 162.05H415.74M409.74 163.15H415.74" stroke="#cc0000" stroke-width="0.75" fill="none"/>
<path clip-path="url(#c2)" d="M422.64 175.25V176.35M419.64 175.25H425.64M419.64 176.35H425.64" stroke="#cc0000" stroke-width="0.75" fill="none"/>
<path clip-path="url(#c2)" d="M432.55 184.1V185.9M429.55 184.1H435.55M429.55 185.9H435.55" stroke="#cc0000" stroke-width="0.75" fill="none"/>
<path clip-path="url(#c2)" d="M442.45 189.7V191.5M439.45 189.7H445.45M439.45 191.5H445.45" stroke="#cc0000" stroke-width="0.75" fill="none"/>
<path clip-path="url(#c2)" d="M452.36 194.1V195.9M449.36 194.1H455.36M449.36 195.9H455.36" stroke="#cc0000" stroke-width="0.75" fill="none"/>
<path clip-path="url(#c2)" d="M462.26 198.2V200.6M459.26 198.2H465.26M459.26 200.6H465.26" stroke="#cc0000" stroke-width="0.75" fill="none"/>
<path clip-path="url(#c2)" d="M472.17 203.4V205.8M469.17 203.4H475.17M469.17 205.8H475.17" stroke="#cc0000" stroke-width="0.75" fill="none"/>
<path clip-path="url(#c2)" d="M482.07 209.4V211.8M479.07 209.4H485.07M479.07 211.8H485.07" stroke="#cc0000" stroke-width="0.75" fill="none"/>
<path clip-path="url(#c2)" d="M491.98 216.8V220M488.98 216.8H494.98M488.98 220H494.98" stroke="#cc0000" stroke-width="0.75" fill="none"/>
<path clip-path="url(#c2)" d="M501.88 226.4V229.6M498.88 226.4H504.88M498.88 229.6H504.88" stroke="#cc0000" stroke-width="0.75" fill="none"/>
<path clip-path="url(#c2)" d="M511.79 237.4V240.6M508.79 237.4H514.79M508.79 240.6H514.79" stroke="#cc0000" stroke-width="0.75" fill="none"/>
<path clip-path="url(#c2)" d="M521.69 250V254M518.69 250H524.69M518.69 254H524.69" stroke="#cc0000" stroke-width="0.75" fill="none"/>
<path clip-path="url(#c2)" d="M531.6 266V270M528.6 266H534.6M528.6 270H534.6" stroke="#cc0000" stroke-width="0.75" fill="none"/>
<rect x="330.95" y="30.05" width="5.1" height="5.1" fill="#cc0000"/>
<rect x="340.85" y="44.05" width="5.1" height="5.1" fill="#cc0000"/>
<rect x="350.76" y="59.05" width="5.1" height="5.1" fill="#cc0000"/>
<rect x="360.66" y="74.85" width="5.1" height="5.1" fill="#cc0000"/>
<rect x="370.57" y="91.75" width="5.1" height="5.1" fill="#cc0000"/>
<rect x="380.47" y="109.05" width="5.1" height="5.1" fill="#cc0000"/>
<rect x="390.38" y="126.85" width="5.1" height="5.1" fill="#cc0000"/>
<rect x="400.28" y="144.45" width="5.1" height="5.1" fill="#cc0000"/>
<rect x="410.19" y="160.05" width="5.1" height="5.1" fill="#cc0000"/>
<rect x="420.09" y="173.25" width="5.1" height="5.1" fill="#cc0000"/>
<rect x="430" y="182.45" width="5.1" height="5.1" fill="#cc0000"/>
<rect x="439.9" y="188.05" width="5.1" height="5.1" fill="#cc0000"/>
<rect x="449.81" y="192.45" width="5.1" height="5.1" fill="#cc0000"/>
<rect x="459.71" y="196.85" width="5.1" height="5.1" fill="#cc0000"/>
<rect x="469.62" y="202.05" width="5.1" height="5.1" fill="#cc0000"/>
<rect x="479.52" y="208.05" width="5.1" height="5.1" fill="#cc0000"/>
<rect x="489.43" y="215.85" width="5.1" height="5.1" fill="#cc0000"/>
<rect x="499.33" y="225.45" width="5.1" height="5.1" fill="#cc0000"/>
<rect x="509.24" y="236.45" width="5.1" height="5.1" fill="#cc0000"/>
<rect x="519.14" y="249.45" width="5.1" height="5.1" fill="#cc0000"/>
<rect x="529.05" y="265.45" width="5.1" height="5.1" fill="#cc0000"/>
<polyline clip-path="url(#c2)" fill="none" stroke="#cc0000" stroke-width="0.6" stroke-dasharray="2.1 2.7" points="328,162.4 328.6,162.4 329.2,162.4 329.8,162.4 330.4,162.41 331.01,162.41 331.61,162.42 332.21,162.42 332.81,162.43 333.41,162.44 334.01,162.45 334.61,162.46 335.21,162.47 335.81,162.48 336.42,162.49 337.02,162.51 337.62,162.52 338.22,162.53 338.82,162.55 339.42,162.56 340.02,162.58 340.62,162.6 341.22,162.62 341.83,162.64 342.43,162.65 343.03,162.67 343.63,162.69 344.23,162.72 344.83,162.74 345.43,162.76 346.03,162.78 346.63,162.8 347.24,162.83 347.84,162.85 348.44,162.88 349.04,162.9 349.64,162.93 350.24,162.95 350.84,162.98 351.44,163 352.04,163.03 352.65,163.06 353.25,163.08 353.85,163.11 354.45,163.14 355.05,163.17 355.65,163.19 356.25,163.22 356.85,163.25 357.45,163.28 358.06,163.31 358.66,163.34 359.26,163.36 359.86,163.39 360.46,163.42 361.06,163.45 361.66,163.49 362.26,163.53 362.86,163.56 363.47,163.6 364.07,163.65 364.67,163.69 365.27,163.74 365.87,163.79 366.47,163.84 367.07,163.89 367.67,163.94 368.27,163.99 368.88,164.05 369.48,164.1 370.08,164.16 370.68,164.22 371.28,164.28 371.88,164.34 372.48,164.4 373.08,164.46 373.68,164.53 374.29,164.59 374.89,164.65 375.49,164.72 376.09,164.78 376.69,164.85 377.29,164.91 377.89,164.97 378.49,165.04 379.09,165.1 379.7,165.17 380.3,165.23 380.9,165.3 381.5,165.36 382.1,165.42 382.7,165.49 383.3,165.55 383.9,165.62 384.5,165.68 385.11,165.75 385.71,165.82 386.31,165.89 386.91,165.95 387.51,166.02 388.11,166.09 388.71,166.17 389.31,166.24 389.91,166.31 390.52,166.39 391.12,166.46 391.72,166.54 392.32,166.62 392.92,166.7 393.52,166.78 394.12,166.87 394.72,166.95 395.32,167.04 395.93,167.13 396.53,167.22 397.13,167.32 397.73,167.41 398.33,167.51 398.93,167.61 399.53,167.72 400.13,167.82 400.73,167.94 401.34,168.05 401.94,168.18 402.54,168.31 403.14,168.45 403.74,168.59 404.34,168.74 404.94,168.89 405.54,169.05 406.14,169.21 406.75,169.37 407.35,169.54 407.95,169.72 408.55,169.89 409.15,170.07 409.75,170.25 410.35,170.43 410.95,170.62 411.55,170.8 412.16,170.99 412.76,171.18 413.36,171.37 413.96,171.56 414.56,171.75 415.16,171.93 415.76,172.12 416.36,172.31 416.96,172.49 417.57,172.68 418.17,172.86 418.77,173.04 419.37,173.22 419.97,173.39 420.57,173.56 421.17,173.73 421.77,173.9 422.37,174.07 422.98,174.24 423.58,174.41 424.18,174.57 424.78,174.74 425.38,174.9 425.98,175.07 426.58,175.24 427.18,175.4 427.78,175.57 428.39,175.74 428.99,175.9 429.59,176.07 430.19,176.24 430.79,176.41 431.39,176.58 431.99,176.76 432.59,176.93 433.19,177.11 433.8,177.29 434.4,177.47 435,177.66 435.6,177.84 436.2,178.03 436.8,178.22 437.4,178.42 438,178.62 438.6,178.82 439.21,179.02 439.81,179.23 440.41,179.44 441.01,179.66 441.61,179.89 442.21,180.11 442.81,180.35 443.41,180.58 444.01,180.83 444.62,181.07 445.22,181.32 445.82,181.57 446.42,181.83 447.02,182.09 447.62,182.35 448.22,182.62 448.82,182.89 449.42,183.16 450.03,183.43 450.63,183.7 451.23,183.98 451.83,184.26 452.43,184.53 453.03,184.81 453.63,185.1 454.23,185.38 454.83,185.66 455.44,185.95 456.04,186.24 456.64,186.53 457.24,186.82 457.84,187.12 458.44,187.42 459.04,187.72 459.64,188.03 460.24,188.34 460.85,188.65 461.45,188.97 462.05,189.29 462.65,189.62 463.25,189.94 463.85,190.28 464.45,190.61 465.05,190.96 465.65,191.3 466.26,191.66 466.86,192.01 467.46,192.38 468.06,192.74 468.66,193.12 469.26,193.5 469.86,193.88 470.46,194.28 471.06,194.67 471.67,195.07 472.27,195.48 472.87,195.89 473.47,196.31 474.07,196.73 474.67,197.16 475.27,197.59 475.87,198.03 476.47,198.47 477.08,198.92 477.68,199.37 478.28,199.83 478.88,200.29 479.48,200.75 480.08,201.22 480.68,201.7 481.28,202.18 481.88,202.68 482.49,203.18 483.09,203.68 483.69,204.2 484.29,204.72 484.89,205.25 485.49,205.78 486.09,206.32 486.69,206.86 487.29,207.41 487.9,207.96 488.5,208.52 489.1,209.08 489.7,209.65 490.3,210.22 490.9,210.79 491.5,211.36 492.1,211.94 492.7,212.52 493.31,213.1 493.91,213.68 494.51,214.27 495.11,214.87 495.71,215.48 496.31,216.09 496.91,216.71 497.51,217.34 498.11,217.98 498.72,218.63 499.32,219.29 499.92,219.95 500.52,220.63 501.12,221.32 501.72,222.02 502.32,222.73 502.92,223.44 503.52,224.17 504.13,224.92 504.73,225.67 505.33,226.43 505.93,227.21 506.53,228 507.13,228.81 507.73,229.64 508.33,230.49 508.93,231.34 509.54,232.21 510.14,233.08 510.74,233.96 511.34,234.84 511.94,235.71 512.54,236.59 513.14,237.47 513.74,238.35 514.34,239.24 514.95,240.13 515.55,241.03 516.15,241.93 516.75,242.83 517.35,243.74 517.95,244.65 518.55,245.56 519.15,246.47 519.75,247.38 520.36,248.3 520.96,249.22 521.56,250.14 522.16,251.05 522.76,251.98 523.36,252.9 523.96,253.82 524.56,254.74 525.16,255.67 525.77,256.6 526.37,257.53 526.97,258.47 527.57,259.41 528.17,260.35 528.77,261.29 529.37,262.24 529.97,263.19 530.57,264.15 531.18,265.12 531.78,266.09 532.38,267.07 532.98,268.06 533.58,269.07 534.18,270.08 534.78,271.1 535.38,272.12 535.98,273.14 536.59,274.16 537.19,275.18 537.79,276.19 538.39,277.19 538.99,278.18 539.59,279.15 540.19,280.1 540.79,281.05 541.39,281.98 542,282.9 542.6,283.81 543.2,284.72 543.8,285.61 544.4,286.5"/>
<polyline clip-path="url(#c2)" fill="none" stroke="#cc0000" stroke-width="0.85" points="328,84.4 328.6,84.51 329.2,84.62 329.8,84.74 330.4,84.87 331,85 331.6,85.14 332.2,85.29 332.8,85.44 333.41,85.6 334.01,85.76 334.61,85.92 335.21,86.1 335.81,86.27 336.41,86.45 337.01,86.63 337.61,86.82 338.21,87.01 338.81,87.21 339.41,87.4 340.01,87.6 340.61,87.81 341.21,88.03 341.81,88.26 342.41,88.49 343.01,88.74 343.61,88.99 344.22,89.25 344.82,89.52 345.42,89.79 346.02,90.07 346.62,90.35 347.22,90.64 347.82,90.93 348.42,91.22 349.02,91.52 349.62,91.81 350.22,92.11 350.82,92.41 351.42,92.71 352.02,93.01 352.62,93.32 353.22,93.63 353.82,93.94 354.43,94.26 355.03,94.59 355.63,94.92 356.23,95.26 356.83,95.61 357.43,95.97 358.03,96.33 358.63,96.71 359.23,97.09 359.83,97.49 360.43,97.89 361.03,98.31 361.63,98.74 362.23,99.18 362.83,99.63 363.43,100.1 364.03,100.57 364.64,101.06 365.24,101.56 365.84,102.08 366.44,102.6 367.04,103.14 367.64,103.7 368.24,104.26 368.84,104.84 369.44,105.43 370.04,106.04 370.64,106.67 371.24,107.33 371.84,108.01 372.44,108.72 373.04,109.46 373.64,110.21 374.24,110.99 374.84,111.78 375.45,112.58 376.05,113.4 376.65,114.23 377.25,115.07 377.85,115.92 378.45,116.78 379.05,117.64 379.65,118.5 380.25,119.36 380.85,120.24 381.45,121.14 382.05,122.07 382.65,123 383.25,123.95 383.85,124.92 384.45,125.89 385.05,126.87 385.66,127.86 386.26,128.85 386.86,129.84 387.46,130.84 388.06,131.83 388.66,132.82 389.26,133.8 389.86,134.77 390.46,135.74 391.06,136.7 391.66,137.66 392.26,138.61 392.86,139.57 393.46,140.52 394.06,141.48 394.66,142.43 395.26,143.39 395.87,144.36 396.47,145.33 397.07,146.31 397.67,147.29 398.27,148.28 398.87,149.28 399.47,150.29 400.07,151.32 400.67,152.38 401.27,153.47 401.87,154.58 402.47,155.72 403.07,156.85 403.67,157.97 404.27,159.07 404.87,160.13 405.47,161.15 406.07,162.12 406.68,163.05 407.28,163.96 407.88,164.85 408.48,165.72 409.08,166.56 409.68,167.38 410.28,168.18 410.88,168.95 411.48,169.68 412.08,170.39 412.68,171.08 413.28,171.75 413.88,172.4 414.48,173.03 415.08,173.64 415.68,174.23 416.28,174.8 416.89,175.34 417.49,175.87 418.09,176.37 418.69,176.85 419.29,177.31 419.89,177.76 420.49,178.19 421.09,178.6 421.69,179.01 422.29,179.4 422.89,179.79 423.49,180.18 424.09,180.56 424.69,180.94 425.29,181.32 425.89,181.69 426.49,182.06 427.1,182.42 427.7,182.77 428.3,183.11 428.9,183.44 429.5,183.75 430.1,184.05 430.7,184.33 431.3,184.61 431.9,184.87 432.5,185.13 433.1,185.38 433.7,185.62 434.3,185.85 434.9,186.09 435.5,186.31 436.1,186.54 436.7,186.76 437.3,186.97 437.91,187.17 438.51,187.37 439.11,187.56 439.71,187.76 440.31,187.95 440.91,188.15 441.51,188.36 442.11,188.57 442.71,188.78 443.31,189 443.91,189.22 444.51,189.44 445.11,189.67 445.71,189.9 446.31,190.12 446.91,190.35 447.51,190.59 448.12,190.82 448.72,191.06 449.32,191.3 449.92,191.54 450.52,191.78 451.12,192.03 451.72,192.28 452.32,192.53 452.92,192.79 453.52,193.05 454.12,193.32 454.72,193.58 455.32,193.86 455.92,194.13 456.52,194.41 457.12,194.68 457.72,194.97 458.33,195.25 458.93,195.53 459.53,195.82 460.13,196.1 460.73,196.39 461.33,196.68 461.93,196.97 462.53,197.25 463.13,197.54 463.73,197.83 464.33,198.12 464.93,198.41 465.53,198.7 466.13,198.99 466.73,199.29 467.33,199.58 467.93,199.88 468.53,200.18 469.14,200.49 469.74,200.8 470.34,201.11 470.94,201.43 471.54,201.75 472.14,202.08 472.74,202.41 473.34,202.74 473.94,203.08 474.54,203.43 475.14,203.77 475.74,204.12 476.34,204.48 476.94,204.84 477.54,205.2 478.14,205.57 478.74,205.94 479.35,206.31 479.95,206.69 480.55,207.07 481.15,207.45 481.75,207.84 482.35,208.23 482.95,208.61 483.55,209 484.15,209.4 484.75,209.79 485.35,210.19 485.95,210.59 486.55,211 487.15,211.41 487.75,211.83 488.35,212.25 488.95,212.68 489.56,213.12 490.16,213.57 490.76,214.02 491.36,214.49 491.96,214.97 492.56,215.45 493.16,215.95 493.76,216.46 494.36,216.99 494.96,217.52 495.56,218.06 496.16,218.61 496.76,219.18 497.36,219.75 497.96,220.33 498.56,220.91 499.16,221.51 499.76,222.11 500.37,222.72 500.97,223.33 501.57,223.95 502.17,224.57 502.77,225.21 503.37,225.86 503.97,226.52 504.57,227.2 505.17,227.88 505.77,228.58 506.37,229.28 506.97,229.99 507.57,230.71 508.17,231.43 508.77,232.15 509.37,232.88 509.97,233.62 510.58,234.35 511.18,235.08 511.78,235.82 512.38,236.55 512.98,237.28 513.58,238.02 514.18,238.75 514.78,239.49 515.38,240.24 515.98,240.99 516.58,241.74 517.18,242.51 517.78,243.28 518.38,244.05 518.98,244.84 519.58,245.64 520.18,246.45 520.79,247.27 521.39,248.1 521.99,248.95 522.59,249.81 523.19,250.7 523.79,251.6 524.39,252.51 524.99,253.44 525.59,254.38 526.19,255.33 526.79,256.28 527.39,257.24 527.99,258.21 528.59,259.18 529.19,260.14 529.79,261.11 530.39,262.08 530.99,263.04 531.6,263.99 532.2,264.95 532.8,265.9 533.4,266.86 534,267.83 534.6,268.79 535.2,269.76 535.8,270.73 536.4,271.7"/>
</g>
<g id="panel3">
<path clip-path="url(#c3)" d="M91.7 272.8V274.8M88.7 272.8H94.7M88.7 274.8H94.7" stroke="#000000" stroke-width="0.75" fill="none"/>
<path clip-path="url(#c3)" d="M101.62 295.9V297.9M98.62 295.9H104.62M98.62 297.9H104.62" stroke="#000000" stroke-width="0.75" fill="none"/>
<path clip-path="url(#c3)" d="M111.54 309V311M108.54 309H114.54M108.54 311H114.54" stroke="#000000" stroke-width="0.75" fill="none"/>
<path clip-path="url(#c3)" d="M121.46 317.7V319.7M118.46 317.7H124.46M118.46 319.7H124.46" stroke="#000000" stroke-width="0.75" fill="none"/>
<path clip-path="url(#c3)" d="M131.38 325.3V327.3M128.38 325.3H134.38M128.38 327.3H134.38" stroke="#000000" stroke-width="0.75" fill="none"/>
<path clip-path="url(#c3)" d="M141.29 330.8V332.8M138.29 330.8H144.29M138.29 332.8H144.29" stroke="#000000" stroke-width="0.75" fill="none"/>
<path clip-path="url(#c3)" d="M151.21 335.2V337.2M148.21 335.2H154.21M148.21 337.2H154.21" stroke="#000000" stroke-width="0.75" fill="none"/>
<path clip-path="url(#c3)" d="M161.13 338.3V340.3M158.13 338.3H164.13M158.13 340.3H164.13" stroke="#000000" stroke-width="0.75" fill="none"/>
<path clip-path="url(#c3)" d="M171.05 340.4V342.4M168.05 340.4H174.05M168.05 342.4H174.05" stroke="#000000" stroke-width="0.75" fill="none"/>
<path clip-path="url(#c3)" d="M180.97 341.6V343.6M177.97 341.6H183.97M177.97 343.6H183.97" stroke="#000000" stroke-width="0.75" fill="none"/>
<path clip-path="url(#c3)" d="M190.88 342.6V344.6M187.88 342.6H193.88M187.88 344.6H193.88" stroke="#000000" stroke-width="0.75" fill="none"/>
<path clip-path="url(#c3)" d="M200.8 343.4V345.4M197.8 343.4H203.8M197.8 345.4H203.8" stroke="#000000" stroke-width="0.75" fill="none"/>
<path clip-path="url(#c3)" d="M210.72 344.2V346.2M207.72 344.2H213.72M207.72 346.2H213.72" stroke="#000000" stroke-width="0.75" fill="none"/>
<path clip-path="url(#c3)" d="M220.64 344.5V347.9M217.64 344.5H223.64M217.64 347.9H223.64" stroke="#000000" stroke-width="0.75" fill="none"/>
<path clip-path="url(#c3)" d="M230.56 344.8V349.2M227.56 344.8H233.56M227.56 349.2H233.56" stroke="#000000" stroke-width="0.75" fill="none"/>
<path clip-path="url(#c3)" d="M240.47 345.7V350.7M237.47 345.7H243.47M237.47 350.7H243.47" stroke="#000000" stroke-width="0.75" fill="none"/>
<path clip-path="url(#c3)" d="M250.39 347.4V353.4M247.39 347.4H253.39M247.39 353.4H253.39" stroke="#000000" stroke-width="0.75" fill="none"/>
<path clip-path="url(#c3)" d="M260.31 349.2V358M257.31 349.2H263.31M257.31 358H263.31" stroke="#000000" stroke-width="0.75" fill="none"/>
<path clip-path="url(#c3)" d="M270.23 352.6V364.6M267.23 352.6H273.23M267.23 364.6H273.23" stroke="#000000" stroke-width="0.75" fill="none"/>
<path clip-path="url(#c3)" d="M280.15 357.2V373.6M277.15 357.2H283.15M277.15 373.6H283.15" stroke="#000000" stroke-width="0.75" fill="none"/>
<rect x="89.15" y="271.25" width="5.1" height="5.1" fill="#000000"/>
<rect x="99.07" y="294.35" width="5.1" height="5.1" fill="#000000"/>
<rect x="108.99" y="307.45" width="5.1" height="5.1" fill="#000000"/>
<rect x="118.91" y="316.15" width="5.1" height="5.1" fill="#000000"/>
<rect x="128.83" y="323.75" width="5.1" height="5.1" fill="#000000"/>
<rect x="138.74" y="329.25" width="5.1" height="5.1" fill="#000000"/>
<rect x="148.66" y="333.65" width="5.1" height="5.1" fill="#000000"/>
<rect x="158.58" y="336.75" width="5.1" height="5.1" fill="#000000"/>
<rect x="168.5" y="338.85" width="5.1" height="5.1" fill="#000000"/>
<rect x="178.42" y="340.05" width="5.1" height="5.1" fill="#000000"/>
<rect x="188.33" y="341.05" width="5.1" height="5.1" fill="#000000"/>
<rect x="198.25" y="341.85" width="5.1" height="5.1" fill="#000000"/>
<rect x="208.17" y="342.65" width="5.1" height="5.1" fill="#000000"/>
<rect x="218.09" y="343.65" width="5.1" height="5.1" fill="#000000"/>
<rect x="228.01" y="344.45" width="5.1" height="5.1" fill="#000000"/>
<rect x="237.92" y="345.65" width="5.1" height="5.1" fill="#000000"/>
<rect x="247.84" y="347.85" width="5.1" height="5.1" fill="#000000"/>
<rect x="257.76" y="351.05" width="5.1" height="5.1" fill="#000000"/>
<rect x="267.68" y="356.05" width="5.1" height="5.1" fill="#000000"/>
<rect x="277.6" y="362.85" width="5.1" height="5.1" fill="#000000"/>
<line x1="57" y1="341.3" x2="284.8" y2="341.3" stroke="#000000" stroke-width="0.6" stroke-dasharray="2.1 2.7"/>
<polyline clip-path="url(#c3)" fill="none" stroke="#000000" stroke-width="0.85" points="89.4,271.7 90,272.6 90.6,273.5 91.2,274.41 91.8,275.33 92.4,276.25 93,277.18 93.6,278.11 94.2,279.04 94.8,279.98 95.4,280.92 96,281.86 96.6,282.79 97.2,283.73 97.8,284.66 98.4,285.59 99,286.52 99.6,287.44 100.2,288.35 100.8,289.25 101.4,290.15 102,291.04 102.6,291.93 103.2,292.81 103.8,293.7 104.4,294.57 105,295.44 105.6,296.31 106.2,297.17 106.8,298.03 107.4,298.87 108,299.71 108.6,300.54 109.2,301.36 109.8,302.18 110.4,302.98 111,303.78 111.6,304.57 112.2,305.36 112.8,306.13 113.4,306.89 114,307.64 114.6,308.38 115.2,309.11 115.8,309.83 116.4,310.54 117,311.24 117.6,311.92 118.2,312.6 118.8,313.26 119.4,313.9 120,314.52 120.6,315.13 121.2,315.73 121.8,316.32 122.4,316.9 123,317.46 123.6,318 124.2,318.53 124.8,319.04 125.4,319.54 126,320.04 126.6,320.52 127.2,321 127.8,321.47 128.4,321.93 129,322.39 129.6,322.84 130.2,323.28 130.8,323.72 131.4,324.14 132,324.57 132.6,324.98 133.2,325.39 133.8,325.8 134.4,326.2 135,326.6 135.6,326.99 136.2,327.38 136.8,327.76 137.4,328.14 138,328.52 138.6,328.89 139.2,329.25 139.8,329.61 140.4,329.96 141,330.3 141.6,330.64 142.2,330.97 142.8,331.29 143.4,331.6 144,331.9 144.6,332.2 145.2,332.5 145.8,332.79 146.4,333.08 147,333.36 147.6,333.64 148.2,333.91 148.8,334.18 149.4,334.44 150,334.69 150.6,334.94 151.2,335.18 151.8,335.4 152.4,335.62 153,335.83 153.6,336.03 154.2,336.22 154.8,336.41 155.4,336.59 156,336.76 156.6,336.93 157.2,337.09 157.8,337.25 158.4,337.4 159,337.55 159.6,337.69 160.2,337.83 160.8,337.96 161.4,338.08 162,338.21 162.6,338.33 163.2,338.45 163.8,338.56 164.4,338.68 165,338.79 165.6,338.89 166.2,339 166.8,339.1 167.4,339.2 168,339.29 168.6,339.38 169.2,339.47 169.8,339.56 170.4,339.65 171,339.73 171.6,339.81 172.2,339.89 172.8,339.96 173.4,340.04 174,340.12 174.6,340.19 175.2,340.26 175.8,340.33 176.4,340.4 177,340.46 177.6,340.52 178.2,340.58 178.8,340.64 179.4,340.69 180,340.74 180.6,340.79 181.2,340.83 181.8,340.87 182.4,340.91 183,340.94 183.6,340.98 184.2,341.01 184.8,341.04 185.4,341.07 186,341.1 186.6,341.13 187.2,341.16 187.8,341.19 188.4,341.21 189,341.24 189.6,341.26 190.2,341.28 190.8,341.31 191.4,341.33 192,341.36 192.6,341.38 193.2,341.4 193.8,341.43 194.4,341.45 195,341.48 195.6,341.5 196.2,341.52 196.8,341.54 197.4,341.55 198,341.57 198.6,341.58 199.2,341.59 199.8,341.6 200.4,341.6 201,341.6 201.6,341.6 202.2,341.6 202.8,341.6 203.4,341.6 204,341.6 204.6,341.6 205.2,341.6 205.8,341.6 206.4,341.6 207,341.6 207.6,341.6 208.2,341.6 208.8,341.6 209.4,341.6 210,341.6 210.6,341.6 211.2,341.6 211.8,341.6 212.4,341.6 213,341.6 213.6,341.6 214.2,341.59 214.8,341.59 215.4,341.59 216,341.59 216.6,341.58 217.2,341.58 217.8,341.58 218.4,341.57 219,341.57 219.6,341.57 220.2,341.56 220.8,341.56 221.4,341.55 222,341.55 222.6,341.55 223.2,341.54 223.8,341.54 224.4,341.53 225,341.53 225.6,341.53 226.2,341.52 226.8,341.52 227.4,341.51 228,341.51 228.6,341.51 229.2,341.5 229.8,341.5 230.4,341.5 231,341.49 231.6,341.49 232.2,341.49 232.8,341.49 233.4,341.48 234,341.48 234.6,341.48 235.2,341.47 235.8,341.47 236.4,341.47 237,341.46 237.6,341.46 238.2,341.46 238.8,341.46 239.4,341.45 240,341.45 240.6,341.45 241.2,341.44 241.8,341.44 242.4,341.44 243,341.43 243.6,341.43 244.2,341.43 244.8,341.43 245.4,341.42 246,341.42 246.6,341.42 247.2,341.41 247.8,341.41 248.4,341.41 249,341.4 249.6,341.4 250.2,341.4 250.8,341.4 251.4,341.39 252,341.39 252.6,341.39 253.2,341.38 253.8,341.38 254.4,341.38 255,341.38 255.6,341.37 256.2,341.37 256.8,341.37 257.4,341.36 258,341.36 258.6,341.36 259.2,341.36 259.8,341.35 260.4,341.35 261,341.35 261.6,341.34 262.2,341.34 262.8,341.34 263.4,341.34 264,341.33 264.6,341.33 265.2,341.33 265.8,341.32 266.4,341.32 267,341.32 267.6,341.31 268.2,341.31 268.8,341.31 269.4,341.3 270,341.3 270.6,341.3 271.2,341.29 271.8,341.29 272.4,341.29 273,341.28 273.6,341.28 274.2,341.27 274.8,341.27 275.4,341.27 276,341.26 276.6,341.26 277.2,341.26 277.8,341.25 278.4,341.25 279,341.24 279.6,341.24 280.2,341.23 280.8,341.23 281.4,341.23 282,341.22 282.6,341.22 283.2,341.21 283.8,341.21 284.4,341.2 285,341.2"/>
<path clip-path="url(#c3)" d="M111.54 299.5V301.5M108.54 299.5H114.54M108.54 301.5H114.54" stroke="#0000cc" stroke-width="0.75" fill="none"/>
<path clip-path="url(#c3)" d="M121.46 321.6V323.6M118.46 321.6H124.46M118.46 323.6H124.46" stroke="#0000cc" stroke-width="0.75" fill="none"/>
<path clip-path="url(#c3)" d="M131.38 338.1V340.1M128.38 338.1H134.38M128.38 340.1H134.38" stroke="#0000cc" stroke-width="0.75" fill="none"/>
<path clip-path="url(#c3)" d="M141.29 350.2V352.2M138.29 350.2H144.29M138.29 352.2H144.29" stroke="#0000cc" stroke-width="0.75" fill="none"/>
<path clip-path="url(#c3)" d="M151.21 358.7V360.7M148.21 358.7H154.21M148.21 360.7H154.21" stroke="#0000cc" stroke-width="0.75" fill="none"/>
<path clip-path="url(#c3)" d="M161.13 365V367M158.13 365H164.13M158.13 367H164.13" stroke="#0000cc" stroke-width="0.75" fill="none"/>
<path clip-path="url(#c3)" d="M171.05 369.5V371.5M168.05 369.5H174.05M168.05 371.5H174.05" stroke="#0000cc" stroke-width="0.75" fill="none"/>
<path clip-path="url(#c3)" d="M180.97 372.4V374.4M177.97 372.4H183.97M177.97 374.4H183.97" stroke="#0000cc" stroke-width="0.75" fill="none"/>
<path clip-path="url(#c3)" d="M190.88 374.2V376.2M187.88 374.2H193.88M187.88 376.2H193.88" stroke="#0000cc" stroke-width="0.75" fill="none"/>
<path clip-path="url(#c3)" d="M200.8 375.3V377.3M197.8 375.3H203.8M197.8 377.3H203.8" stroke="#0000cc" stroke-width="0.75" fill="none"/>
<path clip-path="url(#c3)" d="M210.72 376.1V378.1M207.72 376.1H213.72M207.72 378.1H213.72" stroke="#0000cc" stroke-width="0.75" fill="none"/>
<path clip-path="url(#c3)" d="M220.64 376.2V379.6M217.64 376.2H223.64M217.64 379.6H223.64" stroke="#0000cc" stroke-width="0.75" fill="none"/>
<path clip-path="url(#c3)" d="M230.56 376.5V380.9M227.56 376.5H233.56M227.56 380.9H233.56" stroke="#0000cc" stroke-width="0.75" fill="none"/>
<path clip-path="url(#c3)" d="M240.47 377.4V382.6M237.47 377.4H243.47M237.47 382.6H243.47" stroke="#0000cc" stroke-width="0.75" fill="none"/>
<path clip-path="url(#c3)" d="M250.39 378.6V385.2M247.39 378.6H253.39M247.39 385.2H253.39" stroke="#0000cc" stroke-width="0.75" fill="none"/>
<path clip-path="url(#c3)" d="M260.31 380.8V389.8M257.31 380.8H263.31M257.31 389.8H263.31" stroke="#0000cc" stroke-width="0.75" fill="none"/>
<path clip-path="url(#c3)" d="M270.23 384V396M267.23 384H273.23M267.23 396H273.23" stroke="#0000cc" stroke-width="0.75" fill="none"/>
<path clip-path="url(#c3)" d="M280.15 388V405M277.15 388H283.15M277.15 405H283.15" stroke="#0000cc" stroke-width="0.75" fill="none"/>
<circle cx="111.54" cy="300.5" r="2.65" fill="#0000cc"/>
<circle cx="121.46" cy="322.6" r="2.65" fill="#0000cc"/>
<circle cx="131.38" cy="339.1" r="2.65" fill="#0000cc"/>
<circle cx="141.29" cy="351.2" r="2.65" fill="#0000cc"/>
<circle cx="151.21" cy="359.7" r="2.65" fill="#0000cc"/>
<circle cx="161.13" cy="366" r="2.65" fill="#0000cc"/>
<circle cx="171.05" cy="370.5" r="2.65" fill="#0000cc"/>
<circle cx="180.97" cy="373.4" r="2.65" fill="#0000cc"/>
<circle cx="190.88" cy="375.2" r="2.65" fill="#0000cc"/>
<circle cx="200.8" cy="376.3" r="2.65" fill="#0000cc"/>
<circle cx="210.72" cy="377.1" r="2.65" fill="#0000cc"/>
<circle cx="220.64" cy="377.9" r="2.65" fill="#0000cc"/>
<circle cx="230.56" cy="378.7" r="2.65" fill="#0000cc"/>
<circle cx="240.47" cy="380" r="2.65" fill="#0000cc"/>
<circle cx="250.39" cy="381.9" r="2.65" fill="#0000cc"/>
<circle cx="260.31" cy="385.3" r="2.65" fill="#0000cc"/>
<circle cx="270.23" cy="390" r="2.65" fill="#0000cc"/>
<circle cx="280.15" cy="396.5" r="2.65" fill="#0000cc"/>
<line x1="57" y1="372.9" x2="284.8" y2="372.9" stroke="#0000cc" stroke-width="0.6" stroke-dasharray="2.1 2.7"/>
<polyline clip-path="url(#c3)" fill="none" stroke="#0000cc" stroke-width="0.85" points="104.4,271.7 105,273.69 105.6,275.66 106.2,277.62 106.8,279.56 107.4,281.49 108,283.41 108.6,285.3 109.2,287.19 109.8,289.06 110.4,290.92 111,292.8 111.6,294.69 112.2,296.55 112.8,298.37 113.4,300.1 114,301.74 114.6,303.24 115.2,304.63 115.8,305.97 116.4,307.31 117,308.71 117.6,310.15 118.2,311.6 118.8,313.02 119.4,314.38 120,315.66 120.6,316.87 121.2,318.05 121.8,319.22 122.4,320.4 123,321.61 123.6,322.85 124.2,324.11 124.8,325.36 125.4,326.62 126,327.86 126.6,329.07 127.2,330.25 127.8,331.39 128.4,332.48 129,333.53 129.6,334.56 130.2,335.57 130.8,336.55 131.4,337.51 132,338.44 132.6,339.35 133.2,340.23 133.8,341.08 134.4,341.91 135,342.72 135.6,343.52 136.2,344.3 136.8,345.07 137.4,345.81 138,346.54 138.6,347.24 139.2,347.92 139.8,348.57 140.4,349.2 141,349.8 141.6,350.38 142.2,350.94 142.8,351.49 143.4,352.02 144,352.54 144.6,353.05 145.2,353.55 145.8,354.03 146.4,354.51 147,354.97 147.6,355.43 148.2,355.87 148.8,356.31 149.4,356.75 150,357.18 150.6,357.6 151.2,358.02 151.8,358.43 152.4,358.84 153,359.24 153.6,359.63 154.2,360.02 154.8,360.4 155.4,360.77 156,361.14 156.6,361.51 157.2,361.87 157.8,362.22 158.4,362.56 159,362.91 159.6,363.24 160.2,363.57 160.8,363.89 161.4,364.21 162,364.53 162.6,364.84 163.2,365.15 163.8,365.46 164.4,365.77 165,366.06 165.6,366.36 166.2,366.65 166.8,366.93 167.4,367.2 168,367.47 168.6,367.73 169.2,367.98 169.8,368.22 170.4,368.45 171,368.67 171.6,368.89 172.2,369.1 172.8,369.31 173.4,369.52 174,369.72 174.6,369.92 175.2,370.11 175.8,370.29 176.4,370.47 177,370.65 177.6,370.82 178.2,370.98 178.8,371.13 179.4,371.28 180,371.42 180.6,371.56 181.2,371.68 181.8,371.81 182.4,371.93 183,372.04 183.6,372.16 184.2,372.27 184.8,372.37 185.4,372.48 186,372.58 186.6,372.67 187.2,372.76 187.8,372.85 188.4,372.93 189,373.01 189.6,373.09 190.2,373.16 190.8,373.22 191.4,373.29 192,373.35 192.6,373.41 193.2,373.47 193.8,373.53 194.4,373.59 195,373.64 195.6,373.69 196.2,373.74 196.8,373.79 197.4,373.83 198,373.87 198.6,373.91 199.2,373.94 199.8,373.97 200.4,373.99 201,374.01 201.6,374.03 202.2,374.05 202.8,374.07 203.4,374.09 204,374.1 204.6,374.12 205.2,374.13 205.8,374.15 206.4,374.16 207,374.17 207.6,374.18 208.2,374.19 208.8,374.19 209.4,374.2 210,374.2 210.6,374.2 211.2,374.2 211.8,374.2 212.4,374.2 213,374.2 213.6,374.2 214.2,374.2 214.8,374.2 215.4,374.2 216,374.2 216.6,374.2 217.2,374.2 217.8,374.2 218.4,374.2 219,374.2 219.6,374.2 220.2,374.2 220.8,374.2 221.4,374.19 222,374.18 222.6,374.16 223.2,374.14 223.8,374.12 224.4,374.09 225,374.06 225.6,374.03 226.2,374 226.8,373.97 227.4,373.94 228,373.9 228.6,373.87 229.2,373.84 229.8,373.82 230.4,373.79 231,373.77 231.6,373.74 232.2,373.72 232.8,373.69 233.4,373.66 234,373.64 234.6,373.61 235.2,373.58 235.8,373.56 236.4,373.53 237,373.51 237.6,373.49 238.2,373.46 238.8,373.44 239.4,373.42 240,373.41 240.6,373.39 241.2,373.37 241.8,373.36 242.4,373.35 243,373.33 243.6,373.32 244.2,373.31 244.8,373.3 245.4,373.29 246,373.27 246.6,373.26 247.2,373.25 247.8,373.24 248.4,373.23 249,373.22 249.6,373.21 250.2,373.2 250.8,373.18 251.4,373.17 252,373.16 252.6,373.15 253.2,373.14 253.8,373.13 254.4,373.12 255,373.11 255.6,373.1 256.2,373.09 256.8,373.07 257.4,373.06 258,373.05 258.6,373.03 259.2,373.02 259.8,373.01 260.4,372.99 261,372.97 261.6,372.95 262.2,372.93 262.8,372.9 263.4,372.87 264,372.85 264.6,372.82 265.2,372.79 265.8,372.76 266.4,372.74 267,372.71 267.6,372.68 268.2,372.66 268.8,372.64 269.4,372.62 270,372.6 270.6,372.58 271.2,372.57 271.8,372.55 272.4,372.54 273,372.52 273.6,372.5 274.2,372.49 274.8,372.48 275.4,372.46 276,372.45 276.6,372.43 277.2,372.42 277.8,372.41 278.4,372.4 279,372.38 279.6,372.37 280.2,372.36 280.8,372.35 281.4,372.34 282,372.33 282.6,372.33 283.2,372.32 283.8,372.31 284.4,372.31 285,372.3"/>
<path clip-path="url(#c3)" d="M111.54 291.8V293.8M108.54 291.8H114.54M108.54 293.8H114.54" stroke="#008000" stroke-width="0.75" fill="none"/>
<path clip-path="url(#c3)" d="M121.46 327.7V329.7M118.46 327.7H124.46M118.46 329.7H124.46" stroke="#008000" stroke-width="0.75" fill="none"/>
<path clip-path="url(#c3)" d="M131.38 352.4V354.4M128.38 352.4H134.38M128.38 354.4H134.38" stroke="#008000" stroke-width="0.75" fill="none"/>
<path clip-path="url(#c3)" d="M141.29 370V372M138.29 370H144.29M138.29 372H144.29" stroke="#008000" stroke-width="0.75" fill="none"/>
<path clip-path="url(#c3)" d="M151.21 383V385M148.21 383H154.21M148.21 385H154.21" stroke="#008000" stroke-width="0.75" fill="none"/>
<path clip-path="url(#c3)" d="M161.13 392V394M158.13 392H164.13M158.13 394H164.13" stroke="#008000" stroke-width="0.75" fill="none"/>
<path clip-path="url(#c3)" d="M171.05 398.4V400.4M168.05 398.4H174.05M168.05 400.4H174.05" stroke="#008000" stroke-width="0.75" fill="none"/>
<path clip-path="url(#c3)" d="M180.97 402.6V404.6M177.97 402.6H183.97M177.97 404.6H183.97" stroke="#008000" stroke-width="0.75" fill="none"/>
<path clip-path="url(#c3)" d="M190.88 405.4V407.4M187.88 405.4H193.88M187.88 407.4H193.88" stroke="#008000" stroke-width="0.75" fill="none"/>
<path clip-path="url(#c3)" d="M200.8 406.6V408.6M197.8 406.6H203.8M197.8 408.6H203.8" stroke="#008000" stroke-width="0.75" fill="none"/>
<path clip-path="url(#c3)" d="M210.72 407.4V409.4M207.72 407.4H213.72M207.72 409.4H213.72" stroke="#008000" stroke-width="0.75" fill="none"/>
<path clip-path="url(#c3)" d="M220.64 407.7V411.1M217.64 407.7H223.64M217.64 411.1H223.64" stroke="#008000" stroke-width="0.75" fill="none"/>
<path clip-path="url(#c3)" d="M230.56 408.2V412.6M227.56 408.2H233.56M227.56 412.6H233.56" stroke="#008000" stroke-width="0.75" fill="none"/>
<path clip-path="url(#c3)" d="M240.47 409V413.8M237.47 409H243.47M237.47 413.8H243.47" stroke="#008000" stroke-width="0.75" fill="none"/>
<path clip-path="url(#c3)" d="M250.39 409.5V416.5M247.39 409.5H253.39M247.39 416.5H253.39" stroke="#008000" stroke-width="0.75" fill="none"/>
<path clip-path="url(#c3)" d="M260.31 411.8V421.4M257.31 411.8H263.31M257.31 421.4H263.31" stroke="#008000" stroke-width="0.75" fill="none"/>
<path clip-path="url(#c3)" d="M270.23 414.7V427.3M267.23 414.7H273.23M267.23 427.3H273.23" stroke="#008000" stroke-width="0.75" fill="none"/>
<path clip-path="url(#c3)" d="M280.15 419.3V435.9M277.15 419.3H283.15M277.15 435.9H283.15" stroke="#008000" stroke-width="0.75" fill="none"/>
<polygon points="111.54,289.95 108.89,294.25 114.19,294.25" fill="#008000"/>
<polygon points="121.46,325.85 118.81,330.15 124.11,330.15" fill="#008000"/>
<polygon points="131.38,350.55 128.73,354.85 134.03,354.85" fill="#008000"/>
<polygon points="141.29,368.15 138.64,372.45 143.94,372.45" fill="#008000"/>
<polygon points="151.21,381.15 148.56,385.45 153.86,385.45" fill="#008000"/>
<polygon points="161.13,390.15 158.48,394.45 163.78,394.45" fill="#008000"/>
<polygon points="171.05,396.55 168.4,400.85 173.7,400.85" fill="#008000"/>
<polygon points="180.97,400.75 178.32,405.05 183.62,405.05" fill="#008000"/>
<polygon points="190.88,403.55 188.23,407.85 193.53,407.85" fill="#008000"/>
<polygon points="200.8,404.75 198.15,409.05 203.45,409.05" fill="#008000"/>
<polygon points="210.72,405.55 208.07,409.85 213.37,409.85" fill="#008000"/>
<polygon points="220.64,406.55 217.99,410.85 223.29,410.85" fill="#008000"/>
<polygon points="230.56,407.55 227.91,411.85 233.21,411.85" fill="#008000"/>
<polygon points="240.47,408.55 237.82,412.85 243.12,412.85" fill="#008000"/>
<polygon points="250.39,410.15 247.74,414.45 253.04,414.45" fill="#008000"/>
<polygon points="260.31,413.75 257.66,418.05 262.96,418.05" fill="#008000"/>
<polygon points="270.23,418.15 267.58,422.45 272.88,422.45" fill="#008000"/>
<polygon points="280.15,424.75 277.5,429.05 282.8,429.05" fill="#008000"/>
<line x1="57" y1="404.4" x2="284.8" y2="404.4" stroke="#008000" stroke-width="0.6" stroke-dasharray="2.1 2.7"/>
<polyline clip-path="url(#c3)" fill="none" stroke="#008000" stroke-width="0.85" points="110.2,271.7 110.8,274.89 111.4,278.06 112,281.2 112.6,284.32 113.2,287.42 113.8,290.54 114.4,293.69 115.01,296.78 115.61,299.73 116.21,302.47 116.81,304.96 117.41,307.28 118.01,309.5 118.61,311.62 119.21,313.68 119.81,315.7 120.41,317.71 121.01,319.74 121.61,321.79 122.21,323.84 122.81,325.88 123.42,327.92 124.02,329.98 124.62,332.05 125.22,334.18 125.82,336.34 126.42,338.5 127.02,340.63 127.62,342.69 128.22,344.65 128.82,346.54 129.42,348.42 130.02,350.24 130.62,351.95 131.22,353.51 131.82,354.87 132.43,356.11 133.03,357.29 133.63,358.41 134.23,359.48 134.83,360.51 135.43,361.49 136.03,362.44 136.63,363.36 137.23,364.24 137.83,365.11 138.43,365.96 139.03,366.8 139.63,367.63 140.23,368.46 140.84,369.29 141.44,370.13 142.04,370.96 142.64,371.78 143.24,372.59 143.84,373.39 144.44,374.17 145.04,374.95 145.64,375.71 146.24,376.46 146.84,377.2 147.44,377.93 148.04,378.65 148.64,379.35 149.24,380.04 149.85,380.73 150.45,381.39 151.05,382.05 151.65,382.7 152.25,383.34 152.85,383.98 153.45,384.61 154.05,385.23 154.65,385.84 155.25,386.45 155.85,387.04 156.45,387.62 157.05,388.19 157.65,388.75 158.25,389.3 158.86,389.83 159.46,390.35 160.06,390.85 160.66,391.33 161.26,391.8 161.86,392.26 162.46,392.71 163.06,393.15 163.66,393.58 164.26,394.01 164.86,394.42 165.46,394.83 166.06,395.22 166.66,395.61 167.27,395.99 167.87,396.35 168.47,396.71 169.07,397.06 169.67,397.39 170.27,397.72 170.87,398.04 171.47,398.34 172.07,398.65 172.67,398.95 173.27,399.24 173.87,399.53 174.47,399.81 175.07,400.09 175.67,400.35 176.28,400.61 176.88,400.87 177.48,401.11 178.08,401.35 178.68,401.57 179.28,401.79 179.88,402 180.48,402.2 181.08,402.39 181.68,402.57 182.28,402.75 182.88,402.92 183.48,403.09 184.08,403.26 184.69,403.42 185.29,403.57 185.89,403.72 186.49,403.86 187.09,404 187.69,404.14 188.29,404.26 188.89,404.38 189.49,404.5 190.09,404.61 190.69,404.72 191.29,404.82 191.89,404.92 192.49,405.02 193.09,405.11 193.7,405.21 194.3,405.3 194.9,405.39 195.5,405.47 196.1,405.55 196.7,405.63 197.3,405.7 197.9,405.77 198.5,405.83 199.1,405.89 199.7,405.94 200.3,405.98 200.9,406.02 201.5,406.06 202.11,406.09 202.71,406.13 203.31,406.16 203.91,406.2 204.51,406.23 205.11,406.26 205.71,406.29 206.31,406.31 206.91,406.33 207.51,406.35 208.11,406.37 208.71,406.38 209.31,406.39 209.91,406.4 210.51,406.4 211.12,406.4 211.72,406.4 212.32,406.4 212.92,406.4 213.52,406.4 214.12,406.4 214.72,406.4 215.32,406.4 215.92,406.4 216.52,406.4 217.12,406.4 217.72,406.4 218.32,406.4 218.92,406.4 219.53,406.4 220.13,406.4 220.73,406.4 221.33,406.39 221.93,406.38 222.53,406.37 223.13,406.35 223.73,406.32 224.33,406.3 224.93,406.27 225.53,406.24 226.13,406.21 226.73,406.17 227.33,406.14 227.93,406.11 228.54,406.08 229.14,406.05 229.74,406.02 230.34,405.99 230.94,405.97 231.54,405.95 232.14,405.92 232.74,405.9 233.34,405.87 233.94,405.85 234.54,405.83 235.14,405.8 235.74,405.78 236.34,405.75 236.95,405.73 237.55,405.71 238.15,405.68 238.75,405.66 239.35,405.63 239.95,405.61 240.55,405.59 241.15,405.56 241.75,405.54 242.35,405.51 242.95,405.49 243.55,405.46 244.15,405.44 244.75,405.41 245.35,405.39 245.96,405.36 246.56,405.34 247.16,405.32 247.76,405.29 248.36,405.27 248.96,405.24 249.56,405.22 250.16,405.19 250.76,405.17 251.36,405.15 251.96,405.12 252.56,405.1 253.16,405.07 253.76,405.05 254.36,405.02 254.97,405 255.57,404.98 256.17,404.95 256.77,404.93 257.37,404.91 257.97,404.88 258.57,404.86 259.17,404.83 259.77,404.81 260.37,404.78 260.97,404.76 261.57,404.73 262.17,404.71 262.77,404.68 263.38,404.66 263.98,404.63 264.58,404.6 265.18,404.58 265.78,404.55 266.38,404.53 266.98,404.5 267.58,404.48 268.18,404.46 268.78,404.44 269.38,404.42 269.98,404.4 270.58,404.38 271.18,404.37 271.78,404.35 272.39,404.34 272.99,404.32 273.59,404.31 274.19,404.29 274.79,404.28 275.39,404.26 275.99,404.25 276.59,404.23 277.19,404.22 277.79,404.21 278.39,404.2 278.99,404.18 279.59,404.17 280.19,404.16 280.8,404.15 281.4,404.14 282,404.13 282.6,404.13 283.2,404.12 283.8,404.11 284.4,404.11 285,404.1"/>
<path clip-path="url(#c3)" d="M121.46 314.6V316.6M118.46 314.6H124.46M118.46 316.6H124.46" stroke="#cc0000" stroke-width="0.75" fill="none"/>
<path clip-path="url(#c3)" d="M131.38 355.2V357.2M128.38 355.2H134.38M128.38 357.2H134.38" stroke="#cc0000" stroke-width="0.75" fill="none"/>
<path clip-path="url(#c3)" d="M141.29 384V386M138.29 384H144.29M138.29 386H144.29" stroke="#cc0000" stroke-width="0.75" fill="none"/>
<path clip-path="url(#c3)" d="M151.21 404V406M148.21 404H154.21M148.21 406H154.21" stroke="#cc0000" stroke-width="0.75" fill="none"/>
<path clip-path="url(#c3)" d="M161.13 417.6V419.6M158.13 417.6H164.13M158.13 419.6H164.13" stroke="#cc0000" stroke-width="0.75" fill="none"/>
<path clip-path="url(#c3)" d="M171.05 427.4V429.4M168.05 427.4H174.05M168.05 429.4H174.05" stroke="#cc0000" stroke-width="0.75" fill="none"/>
<path clip-path="url(#c3)" d="M180.97 433.6V435.6M177.97 433.6H183.97M177.97 435.6H183.97" stroke="#cc0000" stroke-width="0.75" fill="none"/>
<path clip-path="url(#c3)" d="M190.88 437.4V439.4M187.88 437.4H193.88M187.88 439.4H193.88" stroke="#cc0000" stroke-width="0.75" fill="none"/>
<path clip-path="url(#c3)" d="M200.8 439.8V441.8M197.8 439.8H203.8M197.8 441.8H203.8" stroke="#cc0000" stroke-width="0.75" fill="none"/>
<path clip-path="url(#c3)" d="M210.72 441V443M207.72 441H213.72M207.72 443H213.72" stroke="#cc0000" stroke-width="0.75" fill="none"/>
<path clip-path="url(#c3)" d="M220.64 441.3V444.7M217.64 441.3H223.64M217.64 444.7H223.64" stroke="#cc0000" stroke-width="0.75" fill="none"/>
<path clip-path="url(#c3)" d="M230.56 441.4V445.8M227.56 441.4H233.56M227.56 445.8H233.56" stroke="#cc0000" stroke-width="0.75" fill="none"/>
<path clip-path="url(#c3)" d="M240.47 442V446.8M237.47 442H243.47M237.47 446.8H243.47" stroke="#cc0000" stroke-width="0.75" fill="none"/>
<path clip-path="url(#c3)" d="M250.39 442.6V449.4M247.39 442.6H253.39M247.39 449.4H253.39" stroke="#cc0000" stroke-width="0.75" fill="none"/>
<path clip-path="url(#c3)" d="M260.31 444.5V453.5M257.31 444.5H263.31M257.31 453.5H263.31" stroke="#cc0000" stroke-width="0.75" fill="none"/>
<path clip-path="url(#c3)" d="M270.23 446.8V459.2M267.23 446.8H273.23M267.23 459.2H273.23" stroke="#cc0000" stroke-width="0.75" fill="none"/>
<path clip-path="url(#c3)" d="M280.15 451.3V467.9M277.15 451.3H283.15M277.15 467.9H283.15" stroke="#cc0000" stroke-width="0.75" fill="none"/>
<polygon points="121.46,318.45 118.81,314.15 124.11,314.15" fill="#cc0000"/>
<polygon points="131.38,359.05 128.73,354.75 134.03,354.75" fill="#cc0000"/>
<polygon points="141.29,387.85 138.64,383.55 143.94,383.55" fill="#cc0000"/>
<polygon points="151.21,407.85 148.56,403.55 153.86,403.55" fill="#cc0000"/>
<polygon points="161.13,421.45 158.48,417.15 163.78,417.15" fill="#cc0000"/>
<polygon points="171.05,431.25 168.4,426.95 173.7,426.95" fill="#cc0000"/>
<polygon points="180.97,437.45 178.32,433.15 183.62,433.15" fill="#cc0000"/>
<polygon points="190.88,441.25 188.23,436.95 193.53,436.95" fill="#cc0000"/>
<polygon points="200.8,443.65 198.15,439.35 203.45,439.35" fill="#cc0000"/>
<polygon points="210.72,444.85 208.07,440.55 213.37,440.55" fill="#cc0000"/>
<polygon points="220.64,445.85 217.99,441.55 223.29,441.55" fill="#cc0000"/>
<polygon points="230.56,446.45 227.91,442.15 233.21,442.15" fill="#cc0000"/>
<polygon points="240.47,447.25 237.82,442.95 243.12,442.95" fill="#cc0000"/>
<polygon points="250.39,448.85 247.74,444.55 253.04,444.55" fill="#cc0000"/>
<polygon points="260.31,451.85 257.66,447.55 262.96,447.55" fill="#cc0000"/>
<polygon points="270.23,455.85 267.58,451.55 272.88,451.55" fill="#cc0000"/>
<polygon points="280.15,462.45 277.5,458.15 282.8,458.15" fill="#cc0000"/>
<line x1="57" y1="436" x2="284.8" y2="436" stroke="#cc0000" stroke-width="0.6" stroke-dasharray="2.1 2.7"/>
<polyline clip-path="url(#c3)" fill="none" stroke="#cc0000" stroke-width="0.85" points="117,271.7 117.6,275.97 118.2,280.17 118.8,284.29 119.4,288.33 120,292.3 120.6,296.12 121.2,299.82 121.8,303.52 122.4,307.34 123,311.47 123.6,315.71 124.2,319.59 124.8,323.26 125.4,326.8 126,330.21 126.6,333.47 127.2,336.59 127.8,339.58 128.4,342.47 129,345.25 129.6,347.93 130.2,350.52 130.8,353 131.4,355.39 132,357.71 132.6,359.97 133.2,362.15 133.8,364.22 134.4,366.18 135,368 135.6,369.7 136.2,371.31 136.8,372.85 137.4,374.33 138,375.75 138.6,377.14 139.2,378.5 139.8,379.85 140.4,381.19 141,382.54 141.6,383.92 142.2,385.3 142.8,386.68 143.4,388.07 144,389.46 144.6,390.83 145.2,392.2 145.8,393.55 146.4,394.88 147,396.19 147.6,397.47 148.2,398.72 148.8,399.93 149.4,401.1 150,402.23 150.6,403.31 151.2,404.34 151.8,405.34 152.4,406.31 153,407.26 153.6,408.19 154.2,409.1 154.8,409.99 155.4,410.85 156,411.7 156.6,412.52 157.2,413.33 157.8,414.11 158.4,414.88 159,415.63 159.6,416.36 160.2,417.07 160.8,417.77 161.4,418.45 162,419.12 162.6,419.78 163.2,420.43 163.8,421.07 164.4,421.69 165,422.3 165.6,422.9 166.2,423.48 166.8,424.04 167.4,424.6 168,425.13 168.6,425.65 169.2,426.15 169.8,426.63 170.4,427.1 171,427.55 171.6,427.98 172.2,428.41 172.8,428.82 173.4,429.23 174,429.63 174.6,430.01 175.2,430.39 175.8,430.75 176.4,431.11 177,431.46 177.6,431.79 178.2,432.12 178.8,432.43 179.4,432.73 180,433.03 180.6,433.31 181.2,433.58 181.8,433.85 182.4,434.11 183,434.37 183.6,434.63 184.2,434.87 184.8,435.11 185.4,435.35 186,435.57 186.6,435.79 187.2,436 187.8,436.2 188.4,436.39 189,436.57 189.6,436.74 190.2,436.9 190.8,437.05 191.4,437.19 192,437.34 192.6,437.48 193.2,437.61 193.8,437.75 194.4,437.88 195,438 195.6,438.12 196.2,438.23 196.8,438.34 197.4,438.44 198,438.52 198.6,438.61 199.2,438.68 199.8,438.74 200.4,438.79 201,438.83 201.6,438.87 202.2,438.9 202.8,438.94 203.4,438.97 204,439.01 204.6,439.04 205.2,439.07 205.8,439.09 206.4,439.12 207,439.14 207.6,439.16 208.2,439.17 208.8,439.19 209.4,439.19 210,439.2 210.6,439.2 211.2,439.2 211.8,439.19 212.4,439.19 213,439.18 213.6,439.17 214.2,439.16 214.8,439.15 215.4,439.14 216,439.12 216.6,439.11 217.2,439.09 217.8,439.08 218.4,439.06 219,439.04 219.6,439.02 220.2,439.01 220.8,438.99 221.4,438.96 222,438.94 222.6,438.91 223.2,438.88 223.8,438.84 224.4,438.81 225,438.77 225.6,438.73 226.2,438.69 226.8,438.64 227.4,438.6 228,438.56 228.6,438.51 229.2,438.47 229.8,438.43 230.4,438.39 231,438.34 231.6,438.3 232.2,438.25 232.8,438.2 233.4,438.15 234,438.1 234.6,438.05 235.2,438 235.8,437.95 236.4,437.9 237,437.85 237.6,437.8 238.2,437.75 238.8,437.7 239.4,437.66 240,437.61 240.6,437.57 241.2,437.53 241.8,437.49 242.4,437.45 243,437.42 243.6,437.38 244.2,437.34 244.8,437.31 245.4,437.27 246,437.24 246.6,437.2 247.2,437.17 247.8,437.13 248.4,437.1 249,437.06 249.6,437.02 250.2,436.99 250.8,436.95 251.4,436.92 252,436.88 252.6,436.84 253.2,436.81 253.8,436.77 254.4,436.74 255,436.7 255.6,436.66 256.2,436.63 256.8,436.59 257.4,436.56 258,436.52 258.6,436.48 259.2,436.45 259.8,436.41 260.4,436.38 261,436.34 261.6,436.3 262.2,436.26 262.8,436.22 263.4,436.18 264,436.14 264.6,436.11 265.2,436.07 265.8,436.03 266.4,435.99 267,435.96 267.6,435.92 268.2,435.89 268.8,435.86 269.4,435.83 270,435.8 270.6,435.77 271.2,435.75 271.8,435.72 272.4,435.7 273,435.67 273.6,435.65 274.2,435.62 274.8,435.6 275.4,435.58 276,435.55 276.6,435.53 277.2,435.51 277.8,435.49 278.4,435.47 279,435.45 279.6,435.43 280.2,435.41 280.8,435.4 281.4,435.38 282,435.36 282.6,435.35 283.2,435.34 283.8,435.32 284.4,435.31 285,435.3"/>
</g>
<g id="panel4">
<path clip-path="url(#c4)" d="M363.21 271.6V273.6M360.21 271.6H366.21M360.21 273.6H366.21" stroke="#000000" stroke-width="0.75" fill="none"/>
<path clip-path="url(#c4)" d="M373.12 296.6V298.6M370.12 296.6H376.12M370.12 298.6H376.12" stroke="#000000" stroke-width="0.75" fill="none"/>
<path clip-path="url(#c4)" d="M383.02 313.4V315.4M380.02 313.4H386.02M380.02 315.4H386.02" stroke="#000000" stroke-width="0.75" fill="none"/>
<path clip-path="url(#c4)" d="M392.93 325.4V327.4M389.93 325.4H395.93M389.93 327.4H395.93" stroke="#000000" stroke-width="0.75" fill="none"/>
<path clip-path="url(#c4)" d="M402.83 334.4V336.4M399.83 334.4H405.83M399.83 336.4H405.83" stroke="#000000" stroke-width="0.75" fill="none"/>
<path clip-path="url(#c4)" d="M412.74 340V342M409.74 340H415.74M409.74 342H415.74" stroke="#000000" stroke-width="0.75" fill="none"/>
<path clip-path="url(#c4)" d="M422.64 343.4V345.4M419.64 343.4H425.64M419.64 345.4H425.64" stroke="#000000" stroke-width="0.75" fill="none"/>
<path clip-path="url(#c4)" d="M432.55 345.7V347.7M429.55 345.7H435.55M429.55 347.7H435.55" stroke="#000000" stroke-width="0.75" fill="none"/>
<path clip-path="url(#c4)" d="M442.45 347V349M439.45 347H445.45M439.45 349H445.45" stroke="#000000" stroke-width="0.75" fill="none"/>
<path clip-path="url(#c4)" d="M452.36 347.6V349.6M449.36 347.6H455.36M449.36 349.6H455.36" stroke="#000000" stroke-width="0.75" fill="none"/>
<path clip-path="url(#c4)" d="M462.26 347.6V349.6M459.26 347.6H465.26M459.26 349.6H465.26" stroke="#000000" stroke-width="0.75" fill="none"/>
<path clip-path="url(#c4)" d="M472.17 347.5V349.5M469.17 347.5H475.17M469.17 349.5H475.17" stroke="#000000" stroke-width="0.75" fill="none"/>
<path clip-path="url(#c4)" d="M482.07 347.2V349.2M479.07 347.2H485.07M479.07 349.2H485.07" stroke="#000000" stroke-width="0.75" fill="none"/>
<path clip-path="url(#c4)" d="M491.98 346.3V349.7M488.98 346.3H494.98M488.98 349.7H494.98" stroke="#000000" stroke-width="0.75" fill="none"/>
<path clip-path="url(#c4)" d="M501.88 346V350.4M498.88 346H504.88M498.88 350.4H504.88" stroke="#000000" stroke-width="0.75" fill="none"/>
<path clip-path="url(#c4)" d="M511.79 346.8V351.2M508.79 346.8H514.79M508.79 351.2H514.79" stroke="#000000" stroke-width="0.75" fill="none"/>
<path clip-path="url(#c4)" d="M521.69 348V354M518.69 348H524.69M518.69 354H524.69" stroke="#000000" stroke-width="0.75" fill="none"/>
<path clip-path="url(#c4)" d="M531.6 349.5V358.5M528.6 349.5H534.6M528.6 358.5H534.6" stroke="#000000" stroke-width="0.75" fill="none"/>
<path clip-path="url(#c4)" d="M541.5 352.6V364.6M538.5 352.6H544.5M538.5 364.6H544.5" stroke="#000000" stroke-width="0.75" fill="none"/>
<path clip-path="url(#c4)" d="M551.41 357.4V373.4M548.41 357.4H554.41M548.41 373.4H554.41" stroke="#000000" stroke-width="0.75" fill="none"/>
<rect x="360.66" y="270.05" width="5.1" height="5.1" fill="#000000"/>
<rect x="370.57" y="295.05" width="5.1" height="5.1" fill="#000000"/>
<rect x="380.47" y="311.85" width="5.1" height="5.1" fill="#000000"/>
<rect x="390.38" y="323.85" width="5.1" height="5.1" fill="#000000"/>
<rect x="400.28" y="332.85" width="5.1" height="5.1" fill="#000000"/>
<rect x="410.19" y="338.45" width="5.1" height="5.1" fill="#000000"/>
<rect x="420.09" y="341.85" width="5.1" height="5.1" fill="#000000"/>
<rect x="430" y="344.15" width="5.1" height="5.1" fill="#000000"/>
<rect x="439.9" y="345.45" width="5.1" height="5.1" fill="#000000"/>
<rect x="449.81" y="346.05" width="5.1" height="5.1" fill="#000000"/>
<rect x="459.71" y="346.05" width="5.1" height="5.1" fill="#000000"/>
<rect x="469.62" y="345.95" width="5.1" height="5.1" fill="#000000"/>
<rect x="479.52" y="345.65" width="5.1" height="5.1" fill="#000000"/>
<rect x="489.43" y="345.45" width="5.1" height="5.1" fill="#000000"/>
<rect x="499.33" y="345.65" width="5.1" height="5.1" fill="#000000"/>
<rect x="509.24" y="346.45" width="5.1" height="5.1" fill="#000000"/>
<rect x="519.14" y="348.45" width="5.1" height="5.1" fill="#000000"/>
<rect x="529.05" y="351.45" width="5.1" height="5.1" fill="#000000"/>
<rect x="538.96" y="356.05" width="5.1" height="5.1" fill="#000000"/>
<rect x="548.86" y="362.85" width="5.1" height="5.1" fill="#000000"/>
<line x1="328" y1="341.3" x2="556.2" y2="341.3" stroke="#000000" stroke-width="0.6" stroke-dasharray="2.1 2.7"/>
<polyline clip-path="url(#c4)" fill="none" stroke="#000000" stroke-width="0.85" points="343.6,271.7 344.2,272.37 344.8,273.05 345.4,273.72 346,274.4 346.6,275.08 347.2,275.77 347.8,276.45 348.4,277.14 349,277.84 349.6,278.53 350.2,279.23 350.8,279.94 351.4,280.65 352,281.36 352.6,282.07 353.2,282.79 353.8,283.51 354.4,284.24 355,284.96 355.6,285.68 356.2,286.41 356.8,287.14 357.4,287.86 358,288.59 358.6,289.31 359.2,290.04 359.8,290.76 360.4,291.48 361,292.2 361.6,292.93 362.2,293.66 362.8,294.39 363.4,295.12 364,295.85 364.6,296.58 365.2,297.31 365.8,298.03 366.4,298.76 367,299.48 367.6,300.19 368.2,300.9 368.8,301.61 369.4,302.31 370,303 370.6,303.69 371.2,304.37 371.8,305.05 372.4,305.73 373,306.4 373.6,307.07 374.2,307.74 374.8,308.4 375.4,309.06 376,309.72 376.6,310.37 377.2,311.02 377.8,311.67 378.4,312.31 379,312.95 379.6,313.58 380.2,314.21 380.8,314.84 381.4,315.46 382,316.08 382.6,316.7 383.2,317.31 383.8,317.93 384.4,318.53 385,319.14 385.6,319.74 386.2,320.34 386.8,320.93 387.4,321.51 388,322.1 388.6,322.67 389.2,323.25 389.8,323.81 390.4,324.37 391,324.94 391.6,325.49 392.2,326.05 392.8,326.61 393.4,327.16 394,327.7 394.6,328.25 395.2,328.78 395.8,329.31 396.4,329.84 397,330.35 397.6,330.86 398.2,331.36 398.8,331.85 399.4,332.33 400,332.8 400.6,333.26 401.2,333.72 401.8,334.18 402.4,334.62 403,335.06 403.6,335.48 404.2,335.89 404.8,336.28 405.4,336.65 406,337 406.6,337.33 407.2,337.66 407.8,337.98 408.4,338.28 409,338.58 409.6,338.86 410.2,339.13 410.8,339.39 411.4,339.63 412,339.86 412.6,340.07 413.2,340.27 413.8,340.46 414.4,340.65 415,340.83 415.6,341 416.2,341.17 416.8,341.33 417.4,341.49 418,341.64 418.6,341.79 419.2,341.93 419.8,342.07 420.4,342.2 421,342.33 421.6,342.46 422.2,342.58 422.8,342.7 423.4,342.82 424,342.93 424.6,343.04 425.2,343.15 425.8,343.26 426.4,343.36 427,343.47 427.6,343.56 428.2,343.66 428.8,343.75 429.4,343.84 430,343.92 430.6,344 431.2,344.07 431.8,344.14 432.4,344.21 433,344.28 433.6,344.34 434.2,344.41 434.8,344.48 435.4,344.54 436,344.61 436.6,344.67 437.2,344.73 437.8,344.78 438.4,344.83 439,344.88 439.6,344.92 440.2,344.95 440.8,344.97 441.4,344.99 442,345 442.6,345 443.2,345 443.8,345 444.4,345 445,345 445.6,345 446.2,345 446.8,345 447.4,345 448,345 448.6,345 449.2,345 449.8,345 450.4,345 451,345 451.6,345 452.2,345 452.8,345 453.4,344.99 454,344.98 454.6,344.96 455.2,344.94 455.8,344.92 456.4,344.89 457,344.87 457.6,344.84 458.2,344.81 458.8,344.77 459.4,344.74 460,344.71 460.6,344.68 461.2,344.65 461.8,344.61 462.4,344.59 463,344.55 463.6,344.52 464.2,344.49 464.8,344.45 465.4,344.42 466,344.38 466.6,344.34 467.2,344.31 467.8,344.27 468.4,344.23 469,344.19 469.6,344.15 470.2,344.11 470.8,344.07 471.4,344.04 472,344 472.6,343.96 473.2,343.93 473.8,343.89 474.4,343.86 475,343.83 475.6,343.79 476.2,343.76 476.8,343.72 477.4,343.69 478,343.65 478.6,343.62 479.2,343.58 479.8,343.54 480.4,343.51 481,343.47 481.6,343.43 482.2,343.39 482.8,343.34 483.4,343.3 484,343.25 484.6,343.2 485.2,343.15 485.8,343.1 486.4,343.05 487,343 487.6,342.94 488.2,342.89 488.8,342.84 489.4,342.79 490,342.74 490.6,342.7 491.2,342.65 491.8,342.61 492.4,342.57 493,342.52 493.6,342.48 494.2,342.44 494.8,342.4 495.4,342.37 496,342.33 496.6,342.29 497.2,342.25 497.8,342.22 498.4,342.18 499,342.15 499.6,342.11 500.2,342.08 500.8,342.05 501.4,342.02 502,341.99 502.6,341.96 503.2,341.93 503.8,341.9 504.4,341.88 505,341.85 505.6,341.82 506.2,341.8 506.8,341.77 507.4,341.75 508,341.72 508.6,341.7 509.2,341.68 509.8,341.66 510.4,341.64 511,341.62 511.6,341.6 512.2,341.59 512.8,341.57 513.4,341.56 514,341.54 514.6,341.53 515.2,341.51 515.8,341.5 516.4,341.49 517,341.48 517.6,341.46 518.2,341.45 518.8,341.44 519.4,341.43 520,341.42 520.6,341.41 521.2,341.41 521.8,341.4 522.4,341.39 523,341.38 523.6,341.38 524.2,341.37 524.8,341.36 525.4,341.36 526,341.35 526.6,341.35 527.2,341.34 527.8,341.34 528.4,341.33 529,341.32 529.6,341.32 530.2,341.31 530.8,341.31 531.4,341.3 532,341.3 532.6,341.29 533.2,341.29 533.8,341.28 534.4,341.28 535,341.27 535.6,341.27 536.2,341.26 536.8,341.26 537.4,341.25 538,341.24 538.6,341.24 539.2,341.23 539.8,341.22 540.4,341.22 541,341.21 541.6,341.2 542.2,341.19 542.8,341.17 543.4,341.15 544,341.13 544.6,341.1 545.2,341.07 545.8,341.05 546.4,341.02 547,340.99 547.6,340.96 548.2,340.93 548.8,340.9 549.4,340.87 550,340.85 550.6,340.82 551.2,340.81 551.8,340.79 552.4,340.77 553,340.76 553.6,340.75 554.2,340.73 554.8,340.72 555.4,340.71 556,340.7"/>
<path clip-path="url(#c4)" d="M373.12 273V275M370.12 273H376.12M370.12 275H376.12" stroke="#0000cc" stroke-width="0.75" fill="none"/>
<path clip-path="url(#c4)" d="M383.02 310.4V312.4M380.02 310.4H386.02M380.02 312.4H386.02" stroke="#0000cc" stroke-width="0.75" fill="none"/>
<path clip-path="url(#c4)" d="M392.93 338.4V340.4M389.93 338.4H395.93M389.93 340.4H395.93" stroke="#0000cc" stroke-width="0.75" fill="none"/>
<path clip-path="url(#c4)" d="M402.83 358.5V360.5M399.83 358.5H405.83M399.83 360.5H405.83" stroke="#0000cc" stroke-width="0.75" fill="none"/>
<path clip-path="url(#c4)" d="M412.74 372.6V374.6M409.74 372.6H415.74M409.74 374.6H415.74" stroke="#0000cc" stroke-width="0.75" fill="none"/>
<path clip-path="url(#c4)" d="M422.64 380.8V382.8M419.64 380.8H425.64M419.64 382.8H425.64" stroke="#0000cc" stroke-width="0.75" fill="none"/>
<path clip-path="url(#c4)" d="M432.55 384.6V386.6M429.55 384.6H435.55M429.55 386.6H435.55" stroke="#0000cc" stroke-width="0.75" fill="none"/>
<path clip-path="url(#c4)" d="M442.45 386V388M439.45 386H445.45M439.45 388H445.45" stroke="#0000cc" stroke-width="0.75" fill="none"/>
<path clip-path="url(#c4)" d="M452.36 385.8V387.8M449.36 385.8H455.36M449.36 387.8H455.36" stroke="#0000cc" stroke-width="0.75" fill="none"/>
<path clip-path="url(#c4)" d="M462.26 385.1V387.1M459.26 385.1H465.26M459.26 387.1H465.26" stroke="#0000cc" stroke-width="0.75" fill="none"/>
<path clip-path="url(#c4)" d="M472.17 384V386M469.17 384H475.17M469.17 386H475.17" stroke="#0000cc" stroke-width="0.75" fill="none"/>
<path clip-path="url(#c4)" d="M482.07 382.7V384.7M479.07 382.7H485.07M479.07 384.7H485.07" stroke="#0000cc" stroke-width="0.75" fill="none"/>
<path clip-path="url(#c4)" d="M491.98 380.9V384.3M488.98 380.9H494.98M488.98 384.3H494.98" stroke="#0000cc" stroke-width="0.75" fill="none"/>
<path clip-path="url(#c4)" d="M501.88 379.8V384.2M498.88 379.8H504.88M498.88 384.2H504.88" stroke="#0000cc" stroke-width="0.75" fill="none"/>
<path clip-path="url(#c4)" d="M511.79 379.5V384.3M508.79 379.5H514.79M508.79 384.3H514.79" stroke="#0000cc" stroke-width="0.75" fill="none"/>
<path clip-path="url(#c4)" d="M521.69 379.8V386.6M518.69 379.8H524.69M518.69 386.6H524.69" stroke="#0000cc" stroke-width="0.75" fill="none"/>
<path clip-path="url(#c4)" d="M531.6 381.5V390.5M528.6 381.5H534.6M528.6 390.5H534.6" stroke="#0000cc" stroke-width="0.75" fill="none"/>
<path clip-path="url(#c4)" d="M541.5 383.7V395.7M538.5 383.7H544.5M538.5 395.7H544.5" stroke="#0000cc" stroke-width="0.75" fill="none"/>
<path clip-path="url(#c4)" d="M551.41 387.9V404.9M548.41 387.9H554.41M548.41 404.9H554.41" stroke="#0000cc" stroke-width="0.75" fill="none"/>
<circle cx="373.12" cy="274" r="2.65" fill="#0000cc"/>
<circle cx="383.02" cy="311.4" r="2.65" fill="#0000cc"/>
<circle cx="392.93" cy="339.4" r="2.65" fill="#0000cc"/>
<circle cx="402.83" cy="359.5" r="2.65" fill="#0000cc"/>
<circle cx="412.74" cy="373.6" r="2.65" fill="#0000cc"/>
<circle cx="422.64" cy="381.8" r="2.65" fill="#0000cc"/>
<circle cx="432.55" cy="385.6" r="2.65" fill="#0000cc"/>
<circle cx="442.45" cy="387" r="2.65" fill="#0000cc"/>
<circle cx="452.36" cy="386.8" r="2.65" fill="#0000cc"/>
<circle cx="462.26" cy="386.1" r="2.65" fill="#0000cc"/>
<circle cx="472.17" cy="385" r="2.65" fill="#0000cc"/>
<circle cx="482.07" cy="383.7" r="2.65" fill="#0000cc"/>
<circle cx="491.98" cy="382.6" r="2.65" fill="#0000cc"/>
<circle cx="501.88" cy="382" r="2.65" fill="#0000cc"/>
<circle cx="511.79" cy="381.9" r="2.65" fill="#0000cc"/>
<circle cx="521.69" cy="383.2" r="2.65" fill="#0000cc"/>
<circle cx="531.6" cy="386" r="2.65" fill="#0000cc"/>
<circle cx="541.5" cy="389.7" r="2.65" fill="#0000cc"/>
<circle cx="551.41" cy="396.4" r="2.65" fill="#0000cc"/>
<line x1="328" y1="372.9" x2="556.2" y2="372.9" stroke="#0000cc" stroke-width="0.6" stroke-dasharray="2.1 2.7"/>
<polyline clip-path="url(#c4)" fill="none" stroke="#0000cc" stroke-width="0.85" points="360,271.7 360.6,273.54 361.2,275.38 361.8,277.21 362.4,279.03 363.01,280.85 363.61,282.66 364.21,284.46 364.81,286.26 365.41,288.05 366.01,289.84 366.61,291.61 367.21,293.38 367.82,295.15 368.42,296.91 369.02,298.66 369.62,300.4 370.22,302.14 370.82,303.9 371.42,305.68 372.02,307.48 372.63,309.29 373.23,311.09 373.83,312.9 374.43,314.69 375.03,316.46 375.63,318.21 376.23,319.92 376.83,321.6 377.44,323.23 378.04,324.8 378.64,326.32 379.24,327.77 379.84,329.15 380.44,330.46 381.04,331.72 381.64,332.95 382.25,334.15 382.85,335.31 383.45,336.44 384.05,337.54 384.65,338.62 385.25,339.67 385.85,340.7 386.45,341.72 387.06,342.72 387.66,343.71 388.26,344.69 388.86,345.66 389.46,346.63 390.06,347.6 390.66,348.56 391.26,349.51 391.87,350.46 392.47,351.4 393.07,352.32 393.67,353.24 394.27,354.15 394.87,355.04 395.47,355.91 396.07,356.78 396.67,357.63 397.28,358.46 397.88,359.27 398.48,360.07 399.08,360.85 399.68,361.61 400.28,362.34 400.88,363.06 401.48,363.77 402.09,364.45 402.69,365.12 403.29,365.77 403.89,366.41 404.49,367.03 405.09,367.63 405.69,368.21 406.29,368.78 406.9,369.33 407.5,369.88 408.1,370.42 408.7,370.95 409.3,371.46 409.9,371.96 410.5,372.44 411.1,372.89 411.71,373.33 412.31,373.74 412.91,374.13 413.51,374.51 414.11,374.89 414.71,375.26 415.31,375.62 415.91,375.98 416.52,376.32 417.12,376.65 417.72,376.97 418.32,377.28 418.92,377.58 419.52,377.87 420.12,378.14 420.72,378.4 421.33,378.64 421.93,378.87 422.53,379.08 423.13,379.28 423.73,379.49 424.33,379.68 424.93,379.87 425.53,380.06 426.13,380.24 426.74,380.41 427.34,380.58 427.94,380.73 428.54,380.88 429.14,381.02 429.74,381.16 430.34,381.28 430.94,381.39 431.55,381.49 432.15,381.58 432.75,381.66 433.35,381.74 433.95,381.82 434.55,381.9 435.15,381.98 435.75,382.05 436.36,382.12 436.96,382.19 437.56,382.25 438.16,382.3 438.76,382.35 439.36,382.4 439.96,382.44 440.56,382.46 441.17,382.49 441.77,382.5 442.37,382.5 442.97,382.5 443.57,382.5 444.17,382.5 444.77,382.49 445.37,382.49 445.98,382.48 446.58,382.48 447.18,382.47 447.78,382.47 448.38,382.46 448.98,382.45 449.58,382.44 450.18,382.43 450.79,382.42 451.39,382.41 451.99,382.4 452.59,382.39 453.19,382.36 453.79,382.33 454.39,382.29 454.99,382.24 455.6,382.18 456.2,382.12 456.8,382.06 457.4,381.99 458,381.92 458.6,381.84 459.2,381.76 459.8,381.69 460.4,381.61 461.01,381.53 461.61,381.46 462.21,381.39 462.81,381.31 463.41,381.24 464.01,381.16 464.61,381.08 465.21,381 465.82,380.92 466.42,380.83 467.02,380.75 467.62,380.66 468.22,380.57 468.82,380.48 469.42,380.39 470.02,380.3 470.63,380.21 471.23,380.12 471.83,380.03 472.43,379.94 473.03,379.84 473.63,379.75 474.23,379.65 474.83,379.56 475.44,379.46 476.04,379.36 476.64,379.26 477.24,379.16 477.84,379.06 478.44,378.96 479.04,378.86 479.64,378.77 480.25,378.67 480.85,378.58 481.45,378.48 482.05,378.39 482.65,378.3 483.25,378.22 483.85,378.13 484.45,378.05 485.06,377.96 485.66,377.88 486.26,377.8 486.86,377.71 487.46,377.63 488.06,377.55 488.66,377.47 489.26,377.38 489.87,377.3 490.47,377.21 491.07,377.12 491.67,377.03 492.27,376.94 492.87,376.85 493.47,376.75 494.07,376.65 494.67,376.55 495.28,376.45 495.88,376.35 496.48,376.25 497.08,376.15 497.68,376.04 498.28,375.94 498.88,375.84 499.48,375.75 500.09,375.65 500.69,375.56 501.29,375.47 501.89,375.39 502.49,375.3 503.09,375.22 503.69,375.14 504.29,375.06 504.9,374.98 505.5,374.91 506.1,374.83 506.7,374.75 507.3,374.68 507.9,374.61 508.5,374.54 509.1,374.47 509.71,374.41 510.31,374.34 510.91,374.28 511.51,374.22 512.11,374.16 512.71,374.1 513.31,374.05 513.91,373.99 514.52,373.94 515.12,373.89 515.72,373.84 516.32,373.79 516.92,373.74 517.52,373.7 518.12,373.65 518.72,373.61 519.33,373.56 519.93,373.52 520.53,373.47 521.13,373.43 521.73,373.39 522.33,373.35 522.93,373.31 523.53,373.27 524.13,373.23 524.74,373.19 525.34,373.15 525.94,373.11 526.54,373.08 527.14,373.04 527.74,373.01 528.34,372.97 528.94,372.94 529.55,372.91 530.15,372.87 530.75,372.84 531.35,372.81 531.95,372.78 532.55,372.75 533.15,372.73 533.75,372.7 534.36,372.67 534.96,372.64 535.56,372.62 536.16,372.59 536.76,372.56 537.36,372.54 537.96,372.52 538.56,372.49 539.17,372.47 539.77,372.45 540.37,372.43 540.97,372.41 541.57,372.4 542.17,372.38 542.77,372.37 543.37,372.35 543.98,372.34 544.58,372.33 545.18,372.32 545.78,372.31 546.38,372.29 546.98,372.28 547.58,372.27 548.18,372.26 548.79,372.25 549.39,372.24 549.99,372.23 550.59,372.22 551.19,372.2 551.79,372.19 552.39,372.18 552.99,372.17 553.6,372.15 554.2,372.14 554.8,372.13 555.4,372.11 556,372.1"/>
<path clip-path="url(#c4)" d="M383.02 294.4V296.4M380.02 294.4H386.02M380.02 296.4H386.02" stroke="#008000" stroke-width="0.75" fill="none"/>
<path clip-path="url(#c4)" d="M392.93 340.4V342.4M389.93 340.4H395.93M389.93 342.4H395.93" stroke="#008000" stroke-width="0.75" fill="none"/>
<path clip-path="url(#c4)" d="M402.83 374.6V376.6M399.83 374.6H405.83M399.83 376.6H405.83" stroke="#008000" stroke-width="0.75" fill="none"/>
<path clip-path="url(#c4)" d="M412.74 398.4V400.4M409.74 398.4H415.74M409.74 400.4H415.74" stroke="#008000" stroke-width="0.75" fill="none"/>
<path clip-path="url(#c4)" d="M422.64 412.6V414.6M419.64 412.6H425.64M419.64 414.6H425.64" stroke="#008000" stroke-width="0.75" fill="none"/>
<path clip-path="url(#c4)" d="M432.55 420.4V422.4M429.55 420.4H435.55M429.55 422.4H435.55" stroke="#008000" stroke-width="0.75" fill="none"/>
<path clip-path="url(#c4)" d="M442.45 423V425M439.45 423H445.45M439.45 425H445.45" stroke="#008000" stroke-width="0.75" fill="none"/>
<path clip-path="url(#c4)" d="M452.36 422.6V424.6M449.36 422.6H455.36M449.36 424.6H455.36" stroke="#008000" stroke-width="0.75" fill="none"/>
<path clip-path="url(#c4)" d="M462.26 421.2V423.2M459.26 421.2H465.26M459.26 423.2H465.26" stroke="#008000" stroke-width="0.75" fill="none"/>
<path clip-path="url(#c4)" d="M472.17 419V421M469.17 419H475.17M469.17 421H475.17" stroke="#008000" stroke-width="0.75" fill="none"/>
<path clip-path="url(#c4)" d="M482.07 417.2V419.2M479.07 417.2H485.07M479.07 419.2H485.07" stroke="#008000" stroke-width="0.75" fill="none"/>
<path clip-path="url(#c4)" d="M491.98 414.7V418.1M488.98 414.7H494.98M488.98 418.1H494.98" stroke="#008000" stroke-width="0.75" fill="none"/>
<path clip-path="url(#c4)" d="M501.88 412.8V417.2M498.88 412.8H504.88M498.88 417.2H504.88" stroke="#008000" stroke-width="0.75" fill="none"/>
<path clip-path="url(#c4)" d="M511.79 411.9V416.9M508.79 411.9H514.79M508.79 416.9H514.79" stroke="#008000" stroke-width="0.75" fill="none"/>
<path clip-path="url(#c4)" d="M521.69 411.7V418.3M518.69 411.7H524.69M518.69 418.3H524.69" stroke="#008000" stroke-width="0.75" fill="none"/>
<path clip-path="url(#c4)" d="M531.6 413.4V422.6M528.6 413.4H534.6M528.6 422.6H534.6" stroke="#008000" stroke-width="0.75" fill="none"/>
<path clip-path="url(#c4)" d="M541.5 415.1V427.7M538.5 415.1H544.5M538.5 427.7H544.5" stroke="#008000" stroke-width="0.75" fill="none"/>
<path clip-path="url(#c4)" d="M551.41 418.9V435.9M548.41 418.9H554.41M548.41 435.9H554.41" stroke="#008000" stroke-width="0.75" fill="none"/>
<polygon points="383.02,292.55 380.38,296.85 385.67,296.85" fill="#008000"/>
<polygon points="392.93,338.55 390.28,342.85 395.58,342.85" fill="#008000"/>
<polygon points="402.83,372.75 400.19,377.05 405.48,377.05" fill="#008000"/>
<polygon points="412.74,396.55 410.09,400.85 415.39,400.85" fill="#008000"/>
<polygon points="422.64,410.75 420,415.05 425.29,415.05" fill="#008000"/>
<polygon points="432.55,418.55 429.9,422.85 435.2,422.85" fill="#008000"/>
<polygon points="442.45,421.15 439.81,425.45 445.1,425.45" fill="#008000"/>
<polygon points="452.36,420.75 449.71,425.05 455.01,425.05" fill="#008000"/>
<polygon points="462.26,419.35 459.62,423.65 464.91,423.65" fill="#008000"/>
<polygon points="472.17,417.15 469.52,421.45 474.82,421.45" fill="#008000"/>
<polygon points="482.07,415.35 479.43,419.65 484.72,419.65" fill="#008000"/>
<polygon points="491.98,413.55 489.33,417.85 494.63,417.85" fill="#008000"/>
<polygon points="501.88,412.15 499.24,416.45 504.53,416.45" fill="#008000"/>
<polygon points="511.79,411.55 509.14,415.85 514.44,415.85" fill="#008000"/>
<polygon points="521.69,412.15 519.04,416.45 524.34,416.45" fill="#008000"/>
<polygon points="531.6,415.15 528.95,419.45 534.25,419.45" fill="#008000"/>
<polygon points="541.5,418.55 538.86,422.85 544.15,422.85" fill="#008000"/>
<polygon points="551.41,424.55 548.76,428.85 554.06,428.85" fill="#008000"/>
<line x1="328" y1="404.4" x2="556.2" y2="404.4" stroke="#008000" stroke-width="0.6" stroke-dasharray="2.1 2.7"/>
<polyline clip-path="url(#c4)" fill="none" stroke="#008000" stroke-width="0.85" points="360,271.7 360.6,273.62 361.2,275.53 361.8,277.44 362.4,279.35 363.01,281.25 363.61,283.14 364.21,285.03 364.81,286.92 365.41,288.8 366.01,290.68 366.61,292.55 367.21,294.41 367.82,296.28 368.42,298.13 369.02,299.99 369.62,301.83 370.22,303.68 370.82,305.51 371.42,307.34 372.02,309.16 372.63,310.97 373.23,312.78 373.83,314.58 374.43,316.38 375.03,318.17 375.63,319.96 376.23,321.76 376.83,323.55 377.44,325.34 378.04,327.13 378.64,328.92 379.24,330.72 379.84,332.52 380.44,334.33 381.04,336.17 381.64,338.02 382.25,339.89 382.85,341.77 383.45,343.66 384.05,345.54 384.65,347.42 385.25,349.28 385.85,351.13 386.45,352.96 387.06,354.75 387.66,356.52 388.26,358.25 388.86,359.94 389.46,361.57 390.06,363.16 390.66,364.7 391.26,366.2 391.87,367.66 392.47,369.09 393.07,370.5 393.67,371.87 394.27,373.22 394.87,374.55 395.47,375.86 396.07,377.16 396.67,378.42 397.28,379.66 397.88,380.87 398.48,382.05 399.08,383.23 399.68,384.39 400.28,385.54 400.88,386.69 401.48,387.83 402.09,388.95 402.69,390.05 403.29,391.14 403.89,392.21 404.49,393.25 405.09,394.29 405.69,395.3 406.29,396.3 406.9,397.28 407.5,398.23 408.1,399.15 408.7,400.04 409.3,400.92 409.9,401.77 410.5,402.61 411.1,403.42 411.71,404.22 412.31,405 412.91,405.77 413.51,406.53 414.11,407.27 414.71,407.98 415.31,408.67 415.91,409.31 416.52,409.92 417.12,410.52 417.72,411.09 418.32,411.64 418.92,412.16 419.52,412.64 420.12,413.09 420.72,413.51 421.33,413.9 421.93,414.28 422.53,414.63 423.13,414.96 423.73,415.27 424.33,415.56 424.93,415.83 425.53,416.08 426.13,416.32 426.74,416.55 427.34,416.77 427.94,416.98 428.54,417.18 429.14,417.38 429.74,417.57 430.34,417.75 430.94,417.93 431.55,418.09 432.15,418.24 432.75,418.38 433.35,418.51 433.95,418.64 434.55,418.76 435.15,418.87 435.75,418.97 436.36,419.05 436.96,419.13 437.56,419.21 438.16,419.28 438.76,419.34 439.36,419.38 439.96,419.4 440.56,419.4 441.17,419.39 441.77,419.38 442.37,419.37 442.97,419.35 443.57,419.34 444.17,419.31 444.77,419.29 445.37,419.26 445.98,419.23 446.58,419.2 447.18,419.17 447.78,419.14 448.38,419.1 448.98,419.06 449.58,419.03 450.18,418.99 450.79,418.94 451.39,418.88 451.99,418.81 452.59,418.73 453.19,418.65 453.79,418.56 454.39,418.46 454.99,418.35 455.6,418.24 456.2,418.13 456.8,418.02 457.4,417.9 458,417.78 458.6,417.67 459.2,417.55 459.8,417.44 460.4,417.32 461.01,417.21 461.61,417.09 462.21,416.96 462.81,416.84 463.41,416.71 464.01,416.58 464.61,416.44 465.21,416.31 465.82,416.17 466.42,416.03 467.02,415.89 467.62,415.75 468.22,415.61 468.82,415.47 469.42,415.33 470.02,415.19 470.63,415.06 471.23,414.92 471.83,414.78 472.43,414.64 473.03,414.5 473.63,414.36 474.23,414.22 474.83,414.08 475.44,413.93 476.04,413.79 476.64,413.64 477.24,413.5 477.84,413.35 478.44,413.2 479.04,413.05 479.64,412.89 480.25,412.74 480.85,412.58 481.45,412.41 482.05,412.24 482.65,412.06 483.25,411.89 483.85,411.71 484.45,411.53 485.06,411.35 485.66,411.17 486.26,411 486.86,410.83 487.46,410.66 488.06,410.49 488.66,410.33 489.26,410.18 489.87,410.03 490.47,409.89 491.07,409.75 491.67,409.62 492.27,409.49 492.87,409.36 493.47,409.23 494.07,409.1 494.67,408.98 495.28,408.86 495.88,408.74 496.48,408.63 497.08,408.51 497.68,408.4 498.28,408.29 498.88,408.19 499.48,408.09 500.09,407.99 500.69,407.89 501.29,407.79 501.89,407.69 502.49,407.6 503.09,407.51 503.69,407.41 504.29,407.32 504.9,407.24 505.5,407.15 506.1,407.07 506.7,406.99 507.3,406.91 507.9,406.84 508.5,406.76 509.1,406.7 509.71,406.63 510.31,406.57 510.91,406.51 511.51,406.46 512.11,406.4 512.71,406.35 513.31,406.3 513.91,406.26 514.52,406.21 515.12,406.16 515.72,406.12 516.32,406.08 516.92,406.03 517.52,405.99 518.12,405.94 518.72,405.9 519.33,405.85 519.93,405.81 520.53,405.76 521.13,405.71 521.73,405.66 522.33,405.62 522.93,405.57 523.53,405.52 524.13,405.48 524.74,405.43 525.34,405.38 525.94,405.34 526.54,405.29 527.14,405.24 527.74,405.19 528.34,405.14 528.94,405.09 529.55,405.04 530.15,404.99 530.75,404.93 531.35,404.87 531.95,404.81 532.55,404.75 533.15,404.69 533.75,404.63 534.36,404.56 534.96,404.5 535.56,404.43 536.16,404.37 536.76,404.31 537.36,404.24 537.96,404.19 538.56,404.13 539.17,404.07 539.77,404.02 540.37,403.97 540.97,403.92 541.57,403.87 542.17,403.82 542.77,403.78 543.37,403.73 543.98,403.68 544.58,403.64 545.18,403.59 545.78,403.55 546.38,403.51 546.98,403.47 547.58,403.43 548.18,403.39 548.79,403.35 549.39,403.31 549.99,403.28 550.59,403.24 551.19,403.21 551.79,403.18 552.39,403.15 552.99,403.12 553.6,403.1 554.2,403.07 554.8,403.05 555.4,403.02 556,403"/>
<path clip-path="url(#c4)" d="M392.93 296.4V298.4M389.93 296.4H395.93M389.93 298.4H395.93" stroke="#cc0000" stroke-width="0.75" fill="none"/>
<path clip-path="url(#c4)" d="M402.83 366.8V368.8M399.83 366.8H405.83M399.83 368.8H405.83" stroke="#cc0000" stroke-width="0.75" fill="none"/>
<path clip-path="url(#c4)" d="M412.74 414V416M409.74 414H415.74M409.74 416H415.74" stroke="#cc0000" stroke-width="0.75" fill="none"/>
<path clip-path="url(#c4)" d="M422.64 442V444M419.64 442H425.64M419.64 444H425.64" stroke="#cc0000" stroke-width="0.75" fill="none"/>
<path clip-path="url(#c4)" d="M432.55 455.6V457.6M429.55 455.6H435.55M429.55 457.6H435.55" stroke="#cc0000" stroke-width="0.75" fill="none"/>
<path clip-path="url(#c4)" d="M442.45 460V462M439.45 460H445.45M439.45 462H445.45" stroke="#cc0000" stroke-width="0.75" fill="none"/>
<path clip-path="url(#c4)" d="M452.36 459.4V461.4M449.36 459.4H455.36M449.36 461.4H455.36" stroke="#cc0000" stroke-width="0.75" fill="none"/>
<path clip-path="url(#c4)" d="M462.26 457V459M459.26 457H465.26M459.26 459H465.26" stroke="#cc0000" stroke-width="0.75" fill="none"/>
<path clip-path="url(#c4)" d="M472.17 454.4V456.4M469.17 454.4H475.17M469.17 456.4H475.17" stroke="#cc0000" stroke-width="0.75" fill="none"/>
<path clip-path="url(#c4)" d="M482.07 451.4V453.4M479.07 451.4H485.07M479.07 453.4H485.07" stroke="#cc0000" stroke-width="0.75" fill="none"/>
<path clip-path="url(#c4)" d="M491.98 448.3V451.7M488.98 448.3H494.98M488.98 451.7H494.98" stroke="#cc0000" stroke-width="0.75" fill="none"/>
<path clip-path="url(#c4)" d="M501.88 445.8V450.2M498.88 445.8H504.88M498.88 450.2H504.88" stroke="#cc0000" stroke-width="0.75" fill="none"/>
<path clip-path="url(#c4)" d="M511.79 444.7V449.7M508.79 444.7H514.79M508.79 449.7H514.79" stroke="#cc0000" stroke-width="0.75" fill="none"/>
<path clip-path="url(#c4)" d="M521.69 444.5V451.5M518.69 444.5H524.69M518.69 451.5H524.69" stroke="#cc0000" stroke-width="0.75" fill="none"/>
<path clip-path="url(#c4)" d="M531.6 446.5V455.5M528.6 446.5H534.6M528.6 455.5H534.6" stroke="#cc0000" stroke-width="0.75" fill="none"/>
<path clip-path="url(#c4)" d="M541.5 446.8V459.2M538.5 446.8H544.5M538.5 459.2H544.5" stroke="#cc0000" stroke-width="0.75" fill="none"/>
<path clip-path="url(#c4)" d="M551.41 450.9V467.9M548.41 450.9H554.41M548.41 467.9H554.41" stroke="#cc0000" stroke-width="0.75" fill="none"/>
<polygon points="392.93,300.25 390.28,295.95 395.58,295.95" fill="#cc0000"/>
<polygon points="402.83,370.65 400.19,366.35 405.48,366.35" fill="#cc0000"/>
<polygon points="412.74,417.85 410.09,413.55 415.39,413.55" fill="#cc0000"/>
<polygon points="422.64,445.85 420,441.55 425.29,441.55" fill="#cc0000"/>
<polygon points="432.55,459.45 429.9,455.15 435.2,455.15" fill="#cc0000"/>
<polygon points="442.45,463.85 439.81,459.55 445.1,459.55" fill="#cc0000"/>
<polygon points="452.36,463.25 449.71,458.95 455.01,458.95" fill="#cc0000"/>
<polygon points="462.26,460.85 459.62,456.55 464.91,456.55" fill="#cc0000"/>
<polygon points="472.17,458.25 469.52,453.95 474.82,453.95" fill="#cc0000"/>
<polygon points="482.07,455.25 479.43,450.95 484.72,450.95" fill="#cc0000"/>
<polygon points="491.98,452.85 489.33,448.55 494.63,448.55" fill="#cc0000"/>
<polygon points="501.88,450.85 499.24,446.55 504.53,446.55" fill="#cc0000"/>
<polygon points="511.79,450.05 509.14,445.75 514.44,445.75" fill="#cc0000"/>
<polygon points="521.69,450.85 519.04,446.55 524.34,446.55" fill="#cc0000"/>
<polygon points="531.6,453.85 528.95,449.55 534.25,449.55" fill="#cc0000"/>
<polygon points="541.5,455.85 538.86,451.55 544.15,451.55" fill="#cc0000"/>
<polygon points="551.41,462.25 548.76,457.95 554.06,457.95" fill="#cc0000"/>
<line x1="328" y1="436" x2="556.2" y2="436" stroke="#cc0000" stroke-width="0.6" stroke-dasharray="2.1 2.7"/>
<polyline clip-path="url(#c4)" fill="none" stroke="#cc0000" stroke-width="0.85" points="384.4,271.7 385,277.67 385.6,283.5 386.2,289.15 386.8,294.63 387.4,299.92 388,305 388.6,309.89 389.2,314.6 389.8,319.16 390.4,323.6 391,327.94 391.6,332.19 392.2,336.39 392.8,340.51 393.4,344.55 394,348.51 394.6,352.41 395.2,356.25 395.8,360.03 396.4,363.76 397,367.46 397.6,371.11 398.2,374.7 398.8,378.22 399.4,381.66 400,385 400.6,388.26 401.2,391.47 401.8,394.6 402.4,397.67 403,400.67 403.6,403.59 404.2,406.44 404.8,409.27 405.4,412.07 406,414.8 406.6,417.44 407.2,419.94 407.8,422.27 408.4,424.43 409,426.51 409.6,428.5 410.2,430.39 410.8,432.16 411.4,433.8 412,435.3 412.6,436.68 413.2,437.98 413.8,439.21 414.4,440.35 415,441.41 415.6,442.39 416.2,443.29 416.8,444.13 417.4,444.9 418,445.63 418.6,446.32 419.2,446.97 419.8,447.6 420.4,448.2 421,448.78 421.6,449.33 422.2,449.87 422.8,450.37 423.4,450.85 424,451.3 424.6,451.73 425.2,452.15 425.8,452.54 426.4,452.92 427,453.27 427.6,453.6 428.2,453.9 428.8,454.18 429.4,454.44 430,454.69 430.6,454.92 431.2,455.14 431.8,455.34 432.4,455.52 433,455.71 433.6,455.88 434.2,456.05 434.8,456.19 435.4,456.31 436,456.4 436.6,456.47 437.2,456.53 437.8,456.59 438.4,456.64 439,456.67 439.6,456.7 440.2,456.7 440.8,456.69 441.4,456.66 442,456.61 442.6,456.56 443.2,456.49 443.8,456.42 444.4,456.33 445,456.24 445.6,456.15 446.2,456.05 446.8,455.94 447.4,455.84 448,455.73 448.6,455.63 449.2,455.53 449.8,455.43 450.4,455.34 451,455.24 451.6,455.14 452.2,455.04 452.8,454.93 453.4,454.83 454,454.72 454.6,454.6 455.2,454.49 455.8,454.37 456.4,454.25 457,454.13 457.6,454.01 458.2,453.88 458.8,453.76 459.4,453.63 460,453.5 460.6,453.37 461.2,453.23 461.8,453.1 462.4,452.95 463,452.81 463.6,452.66 464.2,452.51 464.8,452.36 465.4,452.21 466,452.05 466.6,451.9 467.2,451.74 467.8,451.58 468.4,451.42 469,451.26 469.6,451.11 470.2,450.95 470.8,450.79 471.4,450.63 472,450.47 472.6,450.3 473.2,450.14 473.8,449.98 474.4,449.81 475,449.64 475.6,449.47 476.2,449.31 476.8,449.13 477.4,448.96 478,448.79 478.6,448.61 479.2,448.44 479.8,448.26 480.4,448.08 481,447.9 481.6,447.71 482.2,447.52 482.8,447.33 483.4,447.14 484,446.94 484.6,446.74 485.2,446.55 485.8,446.35 486.4,446.15 487,445.96 487.6,445.76 488.2,445.57 488.8,445.38 489.4,445.19 490,445 490.6,444.81 491.2,444.63 491.8,444.44 492.4,444.26 493,444.07 493.6,443.89 494.2,443.7 494.8,443.52 495.4,443.34 496,443.16 496.6,442.98 497.2,442.8 497.8,442.63 498.4,442.45 499,442.28 499.6,442.11 500.2,441.94 500.8,441.77 501.4,441.6 502,441.43 502.6,441.26 503.2,441.09 503.8,440.92 504.4,440.75 505,440.58 505.6,440.42 506.2,440.26 506.8,440.1 507.4,439.96 508,439.81 508.6,439.68 509.2,439.55 509.8,439.44 510.4,439.33 511,439.22 511.6,439.12 512.2,439.03 512.8,438.93 513.4,438.84 514,438.76 514.6,438.67 515.2,438.59 515.8,438.51 516.4,438.43 517,438.36 517.6,438.29 518.2,438.21 518.8,438.14 519.4,438.07 520,438 520.6,437.93 521.2,437.87 521.8,437.81 522.4,437.75 523,437.69 523.6,437.63 524.2,437.58 524.8,437.53 525.4,437.47 526,437.42 526.6,437.36 527.2,437.3 527.8,437.24 528.4,437.18 529,437.12 529.6,437.05 530.2,436.97 530.8,436.89 531.4,436.81 532,436.71 532.6,436.61 533.2,436.51 533.8,436.4 534.4,436.3 535,436.19 535.6,436.08 536.2,435.97 536.8,435.87 537.4,435.77 538,435.67 538.6,435.58 539.2,435.5 539.8,435.42 540.4,435.35 541,435.29 541.6,435.22 542.2,435.15 542.8,435.08 543.4,435.02 544,434.95 544.6,434.89 545.2,434.83 545.8,434.77 546.4,434.72 547,434.67 547.6,434.62 548.2,434.57 548.8,434.53 549.4,434.49 550,434.46 550.6,434.43 551.2,434.41 551.8,434.39 552.4,434.37 553,434.35 553.6,434.34 554.2,434.32 554.8,434.31 555.4,434.3 556,434.3"/>
</g>
<g id="panel5">
<line x1="600" y1="17.81" x2="828" y2="17.81" stroke="#000000" stroke-width="0.6" stroke-dasharray="2.1 2.7"/>
<polyline clip-path="url(#c5)" fill="none" stroke="#000000" stroke-width="0.85" points="600,116 600.6,116.25 601.2,116.51 601.8,116.76 602.4,117.01 603,117.26 603.6,117.51 604.2,117.76 604.8,118 605.4,118.25 606,118.49 606.6,118.74 607.2,118.98 607.8,119.22 608.4,119.46 609,119.71 609.6,119.97 610.2,120.24 610.8,120.5 611.4,120.77 612,121.03 612.6,121.28 613.2,121.53 613.8,121.76 614.4,121.98 615,122.18 615.6,122.37 616.2,122.53 616.8,122.67 617.4,122.81 618,122.95 618.6,123.08 619.2,123.21 619.8,123.33 620.4,123.43 621,123.51 621.6,123.57 622.2,123.6 622.8,123.6 623.4,123.57 624,123.51 624.6,123.44 625.2,123.34 625.8,123.23 626.4,123.1 627,122.97 627.6,122.82 628.2,122.67 628.8,122.52 629.4,122.33 630,122.1 630.6,121.83 631.2,121.54 631.8,121.22 632.4,120.87 633,120.51 633.6,120.14 634.2,119.75 634.8,119.36 635.4,118.96 636,118.57 636.6,118.15 637.2,117.69 637.8,117.22 638.4,116.72 639,116.2 639.6,115.66 640.2,115.12 640.8,114.57 641.4,114.01 642,113.46 642.6,112.91 643.2,112.37 643.8,111.84 644.4,111.33 645,110.82 645.6,110.32 646.2,109.81 646.8,109.31 647.4,108.8 648,108.3 648.6,107.8 649.2,107.3 649.8,106.8 650.4,106.3 651,105.8 651.6,105.3 652.2,104.8 652.8,104.3 653.4,103.8 654,103.3 654.6,102.8 655.2,102.3 655.8,101.8 656.4,101.3 657,100.8 657.6,100.3 658.2,99.8 658.8,99.29 659.4,98.79 660,98.29 660.6,97.79 661.2,97.29 661.8,96.78 662.4,96.28 663,95.78 663.6,95.28 664.2,94.78 664.8,94.27 665.4,93.77 666,93.27 666.6,92.77 667.2,92.27 667.8,91.77 668.4,91.27 669,90.77 669.6,90.28 670.2,89.8 670.8,89.31 671.4,88.82 672,88.34 672.6,87.85 673.2,87.35 673.8,86.85 674.4,86.35 675,85.84 675.6,85.31 676.2,84.78 676.8,84.24 677.4,83.68 678,83.11 678.6,82.54 679.2,81.95 679.8,81.36 680.4,80.76 681,80.15 681.6,79.54 682.2,78.93 682.8,78.31 683.4,77.7 684,77.08 684.6,76.46 685.2,75.84 685.8,75.22 686.4,74.61 687,74 687.6,73.4 688.2,72.8 688.8,72.2 689.4,71.6 690,71 690.6,70.39 691.2,69.79 691.8,69.18 692.4,68.57 693,67.97 693.6,67.36 694.2,66.76 694.8,66.16 695.4,65.56 696,64.97 696.6,64.38 697.2,63.8 697.8,63.22 698.4,62.66 699,62.1 699.6,61.54 700.2,61 700.8,60.47 701.4,59.94 702,59.41 702.6,58.9 703.2,58.39 703.8,57.88 704.4,57.38 705,56.88 705.6,56.39 706.2,55.9 706.8,55.41 707.4,54.93 708,54.45 708.6,53.97 709.2,53.49 709.8,53.01 710.4,52.53 711,52.06 711.6,51.58 712.2,51.1 712.8,50.62 713.4,50.14 714,49.66 714.6,49.17 715.2,48.69 715.8,48.21 716.4,47.73 717,47.25 717.6,46.77 718.2,46.29 718.8,45.82 719.4,45.36 720,44.89 720.6,44.44 721.2,43.98 721.8,43.54 722.4,43.1 723,42.67 723.6,42.25 724.2,41.83 724.8,41.42 725.4,41.02 726,40.62 726.6,40.22 727.2,39.83 727.8,39.44 728.4,39.06 729,38.68 729.6,38.3 730.2,37.93 730.8,37.57 731.4,37.2 732,36.85 732.6,36.49 733.2,36.14 733.8,35.79 734.4,35.45 735,35.11 735.6,34.78 736.2,34.45 736.8,34.12 737.4,33.79 738,33.46 738.6,33.14 739.2,32.82 739.8,32.5 740.4,32.19 741,31.88 741.6,31.57 742.2,31.26 742.8,30.96 743.4,30.67 744,30.38 744.6,30.09 745.2,29.81 745.8,29.54 746.4,29.27 747,29.01 747.6,28.75 748.2,28.5 748.8,28.26 749.4,28.01 750,27.77 750.6,27.54 751.2,27.3 751.8,27.08 752.4,26.85 753,26.63 753.6,26.41 754.2,26.19 754.8,25.98 755.4,25.78 756,25.58 756.6,25.38 757.2,25.19 757.8,25 758.4,24.82 759,24.64 759.6,24.47 760.2,24.3 760.8,24.14 761.4,23.97 762,23.81 762.6,23.65 763.2,23.48 763.8,23.33 764.4,23.17 765,23.02 765.6,22.87 766.2,22.72 766.8,22.58 767.4,22.44 768,22.31 768.6,22.19 769.2,22.07 769.8,21.96 770.4,21.86 771,21.77 771.6,21.69 772.2,21.61 772.8,21.55 773.4,21.49 774,21.43 774.6,21.38 775.2,21.33 775.8,21.28 776.4,21.24 777,21.2 777.6,21.16 778.2,21.12 778.8,21.08 779.4,21.05 780,21.01 780.6,20.97 781.2,20.93 781.8,20.89 782.4,20.85 783,20.81 783.6,20.76 784.2,20.71 784.8,20.66 785.4,20.6 786,20.54 786.6,20.49 787.2,20.43 787.8,20.36 788.4,20.3 789,20.23 789.6,20.15 790.2,20.07 790.8,19.99 791.4,19.89 792,19.79 792.6,19.68 793.2,19.56 793.8,19.44 794.4,19.31 795,19.18 795.6,19.03 796.2,18.87 796.8,18.71 797.4,18.54 798,18.37 798.6,18.19 799.2,18 799.8,17.79 800.4,17.56 801,17.32 801.6,17.08 802.2,16.84 802.8,16.63 803.4,16.44 804,16.3 804.6,16.18 805.2,16.07 805.8,15.96 806.4,15.85 807,15.76 807.6,15.67 808.2,15.6 808.8,15.53 809.4,15.47 810,15.43 810.6,15.4 811.2,15.37 811.8,15.34 812.4,15.32 813,15.3 813.6,15.28 814.2,15.26 814.8,15.24 815.4,15.23 816,15.22 816.6,15.21 817.2,15.2 817.8,15.2 818.4,15.2 819,15.2 819.6,15.2 820.2,15.2 820.8,15.2 821.4,15.2 822,15.2 822.6,15.2 823.2,15.2 823.8,15.2 824.4,15.2 825,15.2 825.6,15.2 826.2,15.2 826.8,15.2 827.4,15.2 828,15.2"/>
<polyline clip-path="url(#c5)" fill="none" stroke="#0000cc" stroke-width="0.85" points="600,313.7 600.6,312.73 601.2,311.75 601.8,310.77 602.4,309.79 603,308.81 603.6,307.83 604.2,306.85 604.8,305.86 605.4,304.88 606,303.89 606.6,302.9 607.2,301.91 607.8,300.91 608.4,299.92 609,298.93 609.6,297.93 610.2,296.93 610.8,295.93 611.4,294.93 612,293.93 612.6,292.93 613.2,291.93 613.8,290.92 614.4,289.92 615,288.91 615.6,287.89 616.2,286.88 616.8,285.86 617.4,284.84 618,283.81 618.6,282.78 619.2,281.75 619.8,280.71 620.4,279.66 621,278.61 621.6,277.55 622.2,276.5 622.8,275.44 623.4,274.39 624,273.34 624.6,272.29 625.2,271.25 625.8,270.22 626.4,269.18 627,268.15 627.6,267.11 628.2,266.08 628.8,265.05 629.4,264.02 630,263 630.6,261.97 631.2,260.94 631.8,259.91 632.4,258.88 633,257.85 633.6,256.82 634.2,255.78 634.8,254.75 635.4,253.71 636,252.67 636.6,251.63 637.2,250.59 637.8,249.55 638.4,248.51 639,247.47 639.6,246.43 640.2,245.38 640.8,244.34 641.4,243.29 642,242.25 642.6,241.2 643.2,240.15 643.8,239.1 644.4,238.05 645,237 645.6,235.95 646.2,234.9 646.8,233.86 647.4,232.82 648,231.77 648.6,230.73 649.2,229.69 649.8,228.64 650.4,227.59 651,226.54 651.6,225.48 652.2,224.41 652.8,223.33 653.4,222.25 654,221.15 654.6,220.04 655.2,218.93 655.8,217.79 656.4,216.65 657,215.5 657.6,214.34 658.2,213.17 658.8,211.99 659.4,210.8 660,209.61 660.6,208.41 661.2,207.2 661.8,205.99 662.4,204.78 663,203.56 663.6,202.35 664.2,201.13 664.8,199.91 665.4,198.69 666,197.47 666.6,196.25 667.2,195.03 667.8,193.8 668.4,192.57 669,191.34 669.6,190.11 670.2,188.86 670.8,187.61 671.4,186.36 672,185.09 672.6,183.81 673.2,182.53 673.8,181.23 674.4,179.92 675,178.6 675.6,177.26 676.2,175.88 676.8,174.49 677.4,173.08 678,171.65 678.6,170.22 679.2,168.78 679.8,167.35 680.4,165.92 681,164.51 681.6,163.11 682.2,161.73 682.8,160.37 683.4,159.02 684,157.69 684.6,156.37 685.2,155.07 685.8,153.78 686.4,152.5 687,151.24 687.6,149.98 688.2,148.73 688.8,147.48 689.4,146.24 690,145 690.6,143.77 691.2,142.54 691.8,141.31 692.4,140.07 693,138.84 693.6,137.6 694.2,136.36 694.8,135.12 695.4,133.87 696,132.61 696.6,131.36 697.2,130.11 697.8,128.86 698.4,127.6 699,126.35 699.6,125.09 700.2,123.84 700.8,122.58 701.4,121.33 702,120.07 702.6,118.82 703.2,117.56 703.8,116.31 704.4,115.05 705,113.8 705.6,112.54 706.2,111.27 706.8,109.99 707.4,108.72 708,107.44 708.6,106.17 709.2,104.9 709.8,103.65 710.4,102.41 711,101.19 711.6,100 712.2,98.83 712.8,97.68 713.4,96.54 714,95.42 714.6,94.32 715.2,93.24 715.8,92.17 716.4,91.11 717,90.07 717.6,89.04 718.2,88.02 718.8,87 719.4,86 720,85 720.6,84.01 721.2,83.03 721.8,82.06 722.4,81.1 723,80.15 723.6,79.2 724.2,78.25 724.8,77.31 725.4,76.37 726,75.43 726.6,74.5 727.2,73.56 727.8,72.63 728.4,71.7 729,70.79 729.6,69.88 730.2,68.99 730.8,68.12 731.4,67.26 732,66.42 732.6,65.59 733.2,64.78 733.8,63.98 734.4,63.19 735,62.41 735.6,61.64 736.2,60.87 736.8,60.11 737.4,59.36 738,58.61 738.6,57.86 739.2,57.12 739.8,56.38 740.4,55.65 741,54.92 741.6,54.19 742.2,53.47 742.8,52.76 743.4,52.05 744,51.35 744.6,50.65 745.2,49.96 745.8,49.27 746.4,48.6 747,47.92 747.6,47.26 748.2,46.6 748.8,45.94 749.4,45.29 750,44.63 750.6,43.97 751.2,43.32 751.8,42.67 752.4,42.02 753,41.38 753.6,40.74 754.2,40.12 754.8,39.5 755.4,38.89 756,38.29 756.6,37.7 757.2,37.13 757.8,36.57 758.4,36.03 759,35.5 759.6,34.99 760.2,34.5 760.8,34.03 761.4,33.57 762,33.12 762.6,32.68 763.2,32.26 763.8,31.86 764.4,31.46 765,31.08 765.6,30.71 766.2,30.36 766.8,30.01 767.4,29.67 768,29.33 768.6,29 769.2,28.68 769.8,28.37 770.4,28.08 771,27.81 771.6,27.56 772.2,27.34 772.8,27.13 773.4,26.93 774,26.75 774.6,26.57 775.2,26.4 775.8,26.24 776.4,26.09 777,25.96 777.6,25.83 778.2,25.72 778.8,25.62 779.4,25.53 780,25.45 780.6,25.38 781.2,25.31 781.8,25.24 782.4,25.17 783,25.1 783.6,25.01 784.2,24.92 784.8,24.81 785.4,24.69 786,24.57 786.6,24.43 787.2,24.28 787.8,24.12 788.4,23.95 789,23.77 789.6,23.56 790.2,23.31 790.8,23.02 791.4,22.71 792,22.39 792.6,22.05 793.2,21.72 793.8,21.4 794.4,21.1 795,20.8 795.6,20.5 796.2,20.2 796.8,19.9 797.4,19.6 798,19.29 798.6,18.98 799.2,18.65 799.8,18.32 800.4,17.96 801,17.57 801.6,17.17 802.2,16.75 802.8,16.35 803.4,15.96 804,15.6 804.6,15.26 805.2,14.93 805.8,14.61 806.4,14.3 807,14.02 807.6,13.76 808.2,13.53 808.8,13.31 809.4,13.1 810,12.9 810.6,12.73 811.2,12.57 811.8,12.44 812.4,12.33 813,12.22 813.6,12.12 814.2,12.03 814.8,11.94 815.4,11.86 816,11.79 816.6,11.71 817.2,11.65 817.8,11.59 818.4,11.53 819,11.48 819.6,11.43 820.2,11.39 820.8,11.34 821.4,11.3 822,11.26 822.6,11.22 823.2,11.19 823.8,11.15 824.4,11.12 825,11.09 825.6,11.07 826.2,11.04 826.8,11.02 827.4,11.01 828,11"/>
<polyline clip-path="url(#c5)" fill="none" stroke="#008000" stroke-width="0.85" points="600,375 600.6,373.01 601.2,371.08 601.8,369.21 602.4,367.4 603,365.67 603.6,364.01 604.2,362.43 604.8,360.94 605.4,359.54 606,358.23 606.6,356.97 607.2,355.75 607.8,354.59 608.4,353.47 609,352.4 609.6,351.39 610.2,350.43 610.8,349.53 611.4,348.7 612,347.92 612.6,347.2 613.2,346.53 613.8,345.89 614.4,345.29 615,344.71 615.6,344.15 616.2,343.6 616.8,343.04 617.4,342.48 618,341.92 618.6,341.36 619.2,340.82 619.8,340.27 620.4,339.73 621,339.18 621.6,338.63 622.2,338.09 622.8,337.55 623.4,337 624,336.45 624.6,335.9 625.2,335.35 625.8,334.78 626.4,334.21 627,333.64 627.6,333.06 628.2,332.47 628.8,331.88 629.4,331.28 630,330.68 630.6,330.09 631.2,329.49 631.8,328.9 632.4,328.3 633,327.72 633.6,327.14 634.2,326.56 634.8,325.99 635.4,325.42 636,324.85 636.6,324.28 637.2,323.7 637.8,323.13 638.4,322.55 639,321.97 639.6,321.39 640.2,320.79 640.8,320.19 641.4,319.58 642,318.97 642.6,318.34 643.2,317.7 643.8,317.04 644.4,316.38 645,315.7 645.6,315.02 646.2,314.33 646.8,313.62 647.4,312.91 648,312.19 648.6,311.45 649.2,310.71 649.8,309.95 650.4,309.17 651,308.39 651.6,307.58 652.2,306.76 652.8,305.93 653.4,305.08 654,304.21 654.6,303.32 655.2,302.42 655.8,301.51 656.4,300.57 657,299.62 657.6,298.64 658.2,297.64 658.8,296.61 659.4,295.55 660,294.47 660.6,293.35 661.2,292.2 661.8,291.01 662.4,289.79 663,288.44 663.6,286.98 664.2,285.45 664.8,283.92 665.4,282.46 666,281.13 666.6,279.89 667.2,278.64 667.8,277.26 668.4,275.75 669,274.15 669.6,272.47 670.2,270.73 670.8,268.94 671.4,267.11 672,265.25 672.6,263.38 673.2,261.51 673.8,259.64 674.4,257.8 675,256 675.6,254.22 676.2,252.45 676.8,250.69 677.4,248.93 678,247.17 678.6,245.41 679.2,243.65 679.8,241.89 680.4,240.12 681,238.34 681.6,236.56 682.2,234.77 682.8,232.97 683.4,231.15 684,229.32 684.6,227.48 685.2,225.61 685.8,223.73 686.4,221.82 687,219.88 687.6,217.91 688.2,215.91 688.8,213.88 689.4,211.83 690,209.76 690.6,207.68 691.2,205.59 691.8,203.5 692.4,201.41 693,199.32 693.6,197.25 694.2,195.2 694.8,193.17 695.4,191.16 696,189.13 696.6,187.09 697.2,185.05 697.8,183 698.4,180.96 699,178.92 699.6,176.9 700.2,174.89 700.8,172.89 701.4,170.93 702,168.99 702.6,167.08 703.2,165.21 703.8,163.38 704.4,161.59 705,159.86 705.6,158.18 706.2,156.55 706.8,154.94 707.4,153.37 708,151.81 708.6,150.25 709.2,148.7 709.8,147.13 710.4,145.54 711,143.97 711.6,142.39 712.2,140.82 712.8,139.26 713.4,137.69 714,136.12 714.6,134.55 715.2,132.97 715.8,131.39 716.4,129.81 717,128.22 717.6,126.63 718.2,125.04 718.8,123.46 719.4,121.88 720,120.3 720.6,118.72 721.2,117.12 721.8,115.51 722.4,113.9 723,112.29 723.6,110.69 724.2,109.09 724.8,107.51 725.4,105.95 726,104.41 726.6,102.91 727.2,101.43 727.8,100 728.4,98.6 729,97.23 729.6,95.88 730.2,94.55 730.8,93.24 731.4,91.95 732,90.68 732.6,89.42 733.2,88.18 733.8,86.94 734.4,85.72 735,84.5 735.6,83.29 736.2,82.09 736.8,80.9 737.4,79.72 738,78.54 738.6,77.38 739.2,76.23 739.8,75.09 740.4,73.95 741,72.83 741.6,71.72 742.2,70.63 742.8,69.54 743.4,68.46 744,67.4 744.6,66.35 745.2,65.32 745.8,64.31 746.4,63.31 747,62.33 747.6,61.36 748.2,60.4 748.8,59.46 749.4,58.53 750,57.61 750.6,56.7 751.2,55.8 751.8,54.91 752.4,54.02 753,53.14 753.6,52.27 754.2,51.4 754.8,50.53 755.4,49.66 756,48.8 756.6,47.94 757.2,47.08 757.8,46.24 758.4,45.41 759,44.59 759.6,43.78 760.2,43 760.8,42.23 761.4,41.45 762,40.68 762.6,39.93 763.2,39.18 763.8,38.46 764.4,37.75 765,37.07 765.6,36.42 766.2,35.8 766.8,35.2 767.4,34.6 768,34 768.6,33.43 769.2,32.89 769.8,32.41 770.4,31.99 771,31.65 771.6,31.37 772.2,31.12 772.8,30.89 773.4,30.69 774,30.53 774.6,30.41 775.2,30.34 775.8,30.28 776.4,30.23 777,30.19 777.6,30.16 778.2,30.12 778.8,30.07 779.4,30.01 780,29.94 780.6,29.86 781.2,29.78 781.8,29.68 782.4,29.57 783,29.44 783.6,29.29 784.2,29.13 784.8,28.91 785.4,28.57 786,28.14 786.6,27.66 787.2,27.14 787.8,26.61 788.4,26.1 789,25.64 789.6,25.23 790.2,24.84 790.8,24.46 791.4,24.09 792,23.72 792.6,23.36 793.2,22.99 793.8,22.62 794.4,22.26 795,21.9 795.6,21.56 796.2,21.23 796.8,20.89 797.4,20.55 798,20.19 798.6,19.81 799.2,19.4 799.8,18.96 800.4,18.46 801,17.87 801.6,17.21 802.2,16.53 802.8,15.84 803.4,15.19 804,14.6 804.6,14.06 805.2,13.52 805.8,13 806.4,12.51 807,12.05 807.6,11.64 808.2,11.29 808.8,10.95 809.4,10.64 810,10.36 810.6,10.09 811.2,9.86 811.8,9.66 812.4,9.49 813,9.32 813.6,9.16 814.2,9 814.8,8.86 815.4,8.72 816,8.59 816.6,8.47 817.2,8.36 817.8,8.26 818.4,8.17 819,8.1 819.6,8.03 820.2,7.98 820.8,7.94 821.4,7.89 822,7.85 822.6,7.81 823.2,7.77 823.8,7.73 824.4,7.7 825,7.67 825.6,7.65 826.2,7.63 826.8,7.61 827.4,7.6 828,7.6"/>
<polyline clip-path="url(#c5)" fill="none" stroke="#cc0000" stroke-width="0.85" points="600,200.5 600.6,203.2 601.2,206.19 601.8,209.44 602.4,212.93 603,216.62 603.6,220.5 604.2,224.72 604.8,229.38 605.4,234.35 606,239.47 606.6,244.62 607.2,249.67 607.8,254.73 608.4,259.83 609,264.99 609.6,270.22 610.2,275.52 610.8,280.9 611.4,286.41 612,292.02 612.6,297.7 613.2,303.41 613.8,309.11 614.4,314.76 615,320.37 615.6,326 616.2,331.69 616.8,337.5 617.4,343.59 618,349.9 618.6,356.19 619.2,362.19 619.8,367.72 620.4,373.04 621,378.2 621.6,383.17 622.2,387.92 622.8,392.44 623.4,396.69 624,400.68 624.6,404.44 625.2,408.01 625.8,411.43 626.4,414.75 627,417.99 627.6,421.14 628.2,424.17 628.8,427.07 629.4,429.8 630,432.37 630.6,434.9 631.2,437.34 631.8,439.64 632.4,441.75 633,443.59 633.6,445.16 634.2,446.62 634.8,447.98 635.4,449.21 636,450.27 636.6,451.14 637.2,451.8 637.8,452.4 638.4,452.95 639,453.38 639.6,453.64 640.2,453.69 640.8,453.55 641.4,453.28 642,452.92 642.6,452.49 643.2,452.04 643.8,451.41 644.4,450.61 645,449.66 645.6,448.62 646.2,447.53 646.8,446.43 647.4,445.22 648,443.9 648.6,442.48 649.2,440.99 649.8,439.45 650.4,437.87 651,436.19 651.6,434.41 652.2,432.57 652.8,430.68 653.4,428.77 654,426.87 654.6,424.96 655.2,423.04 655.8,421.08 656.4,419.06 657,416.95 657.6,414.75 658.2,412.43 658.8,410.01 659.4,407.51 660,404.94 660.6,402.33 661.2,399.7 661.8,397.07 662.4,394.45 663,391.79 663.6,389.1 664.2,386.38 664.8,383.64 665.4,380.88 666,378.12 666.6,375.34 667.2,372.57 667.8,369.8 668.4,367.04 669,364.29 669.6,361.54 670.2,358.8 670.8,356.05 671.4,353.3 672,350.54 672.6,347.76 673.2,344.98 673.8,342.17 674.4,339.35 675,336.5 675.6,333.63 676.2,330.74 676.8,327.83 677.4,324.91 678,321.96 678.6,319 679.2,316.01 679.8,313.01 680.4,309.99 681,306.92 681.6,303.8 682.2,300.64 682.8,297.47 683.4,294.29 684,291.14 684.6,288.03 685.2,284.98 685.8,282.01 686.4,279.09 687,276.21 687.6,273.36 688.2,270.54 688.8,267.74 689.4,264.97 690,262.23 690.6,259.5 691.2,256.8 691.8,254.11 692.4,251.43 693,248.77 693.6,246.1 694.2,243.44 694.8,240.78 695.4,238.15 696,235.54 696.6,232.95 697.2,230.41 697.8,227.91 698.4,225.46 699,223.06 699.6,220.73 700.2,218.48 700.8,216.3 701.4,214.17 702,212.09 702.6,210.04 703.2,208 703.8,205.97 704.4,203.92 705,201.85 705.6,199.74 706.2,197.58 706.8,195.35 707.4,193.02 708,190.61 708.6,188.14 709.2,185.61 709.8,183.06 710.4,180.49 711,177.93 711.6,175.39 712.2,172.89 712.8,170.45 713.4,168.09 714,165.82 714.6,163.67 715.2,161.64 715.8,159.76 716.4,158 717,156.34 717.6,154.75 718.2,153.19 718.8,151.65 719.4,150.1 720,148.5 720.6,146.87 721.2,145.25 721.8,143.62 722.4,142 723,140.37 723.6,138.76 724.2,137.14 724.8,135.53 725.4,133.93 726,132.34 726.6,130.76 727.2,129.18 727.8,127.61 728.4,126.03 729,124.45 729.6,122.86 730.2,121.27 730.8,119.66 731.4,118.04 732,116.41 732.6,114.77 733.2,113.14 733.8,111.5 734.4,109.86 735,108.23 735.6,106.61 736.2,105 736.8,103.4 737.4,101.82 738,100.26 738.6,98.72 739.2,97.19 739.8,95.68 740.4,94.19 741,92.7 741.6,91.22 742.2,89.74 742.8,88.27 743.4,86.79 744,85.3 744.6,83.8 745.2,82.27 745.8,80.73 746.4,79.19 747,77.64 747.6,76.11 748.2,74.59 748.8,73.09 749.4,71.63 750,70.2 750.6,68.82 751.2,67.5 751.8,66.23 752.4,65.02 753,63.85 753.6,62.71 754.2,61.6 754.8,60.51 755.4,59.45 756,58.42 756.6,57.4 757.2,56.39 757.8,55.4 758.4,54.4 759,53.41 759.6,52.41 760.2,51.4 760.8,50.37 761.4,49.31 762,48.23 762.6,47.15 763.2,46.08 763.8,45.03 764.4,44.01 765,43.03 765.6,42.1 766.2,41.24 766.8,40.42 767.4,39.6 768,38.82 768.6,38.1 769.2,37.47 769.8,36.97 770.4,36.56 771,36.17 771.6,35.82 772.2,35.53 772.8,35.31 773.4,35.21 774,35.18 774.6,35.17 775.2,35.16 775.8,35.15 776.4,35.14 777,35.13 777.6,35.12 778.2,35.1 778.8,35.08 779.4,35.03 780,34.98 780.6,34.9 781.2,34.81 781.8,34.7 782.4,34.57 783,34.43 783.6,34.15 784.2,33.6 784.8,32.87 785.4,32.03 786,31.18 786.6,30.41 787.2,29.73 787.8,29.02 788.4,28.31 789,27.6 789.6,26.9 790.2,26.24 790.8,25.63 791.4,25.07 792,24.58 792.6,24.13 793.2,23.71 793.8,23.32 794.4,22.94 795,22.58 795.6,22.21 796.2,21.83 796.8,21.45 797.4,21.1 798,20.77 798.6,20.42 799.2,20.03 799.8,19.57 800.4,18.99 801,18.22 801.6,17.3 802.2,16.31 802.8,15.3 803.4,14.34 804,13.5 804.6,12.72 805.2,11.94 805.8,11.18 806.4,10.47 807,9.83 807.6,9.29 808.2,8.87 808.8,8.51 809.4,8.19 810,7.89 810.6,7.61 811.2,7.36 811.8,7.13 812.4,6.92 813,6.71 813.6,6.52 814.2,6.34 814.8,6.16 815.4,5.99 816,5.82 816.6,5.66 817.2,5.51 817.8,5.37 818.4,5.25 819,5.14 819.6,5.05 820.2,4.98 820.8,4.91 821.4,4.84 822,4.78 822.6,4.71 823.2,4.65 823.8,4.6 824.4,4.55 825,4.51 825.6,4.47 826.2,4.44 826.8,4.42 827.4,4.4 828,4.4"/>
<path clip-path="url(#c5)" d="M606.6 94.9V97.9M603.6 94.9H609.6M603.6 97.9H609.6" stroke="#000000" stroke-width="0.75" fill="none"/>
<path clip-path="url(#c5)" d="M620 111.6V113.6M617 111.6H623M617 113.6H623" stroke="#000000" stroke-width="0.75" fill="none"/>
<path clip-path="url(#c5)" d="M633.4 117V119M630.4 117H636.4M630.4 119H636.4" stroke="#000000" stroke-width="0.75" fill="none"/>
<path clip-path="url(#c5)" d="M646.8 114.4V116.4M643.8 114.4H649.8M643.8 116.4H649.8" stroke="#000000" stroke-width="0.75" fill="none"/>
<path clip-path="url(#c5)" d="M660.2 107V109M657.2 107H663.2M657.2 109H663.2" stroke="#000000" stroke-width="0.75" fill="none"/>
<path clip-path="url(#c5)" d="M673.6 97.8V99.8M670.6 97.8H676.6M670.6 99.8H676.6" stroke="#000000" stroke-width="0.75" fill="none"/>
<path clip-path="url(#c5)" d="M687 87.8V89.8M684 87.8H690M684 89.8H690" stroke="#000000" stroke-width="0.75" fill="none"/>
<path clip-path="url(#c5)" d="M700.4 77V79M697.4 77H703.4M697.4 79H703.4" stroke="#000000" stroke-width="0.75" fill="none"/>
<path clip-path="url(#c5)" d="M713.8 65.6V67.6M710.8 65.6H716.8M710.8 67.6H716.8" stroke="#000000" stroke-width="0.75" fill="none"/>
<path clip-path="url(#c5)" d="M727.2 54.6V56.6M724.2 54.6H730.2M724.2 56.6H730.2" stroke="#000000" stroke-width="0.75" fill="none"/>
<path clip-path="url(#c5)" d="M740.6 44.4V46.4M737.6 44.4H743.6M737.6 46.4H743.6" stroke="#000000" stroke-width="0.75" fill="none"/>
<path clip-path="url(#c5)" d="M754 35.4V37.4M751 35.4H757M751 37.4H757" stroke="#000000" stroke-width="0.75" fill="none"/>
<path clip-path="url(#c5)" d="M767.4 28.4V30.4M764.4 28.4H770.4M764.4 30.4H770.4" stroke="#000000" stroke-width="0.75" fill="none"/>
<path clip-path="url(#c5)" d="M780.8 24.6V26.6M777.8 24.6H783.8M777.8 26.6H783.8" stroke="#000000" stroke-width="0.75" fill="none"/>
<path clip-path="url(#c5)" d="M794.2 24.2V26.2M791.2 24.2H797.2M791.2 26.2H797.2" stroke="#000000" stroke-width="0.75" fill="none"/>
<path clip-path="url(#c5)" d="M807.6 15.8V17.8M804.6 15.8H810.6M804.6 17.8H810.6" stroke="#000000" stroke-width="0.75" fill="none"/>
<path clip-path="url(#c5)" d="M821 15.3V17.3M818 15.3H824M818 17.3H824" stroke="#000000" stroke-width="0.75" fill="none"/>
<rect x="604.05" y="93.85" width="5.1" height="5.1" fill="#000000"/>
<rect x="617.45" y="110.05" width="5.1" height="5.1" fill="#000000"/>
<rect x="630.85" y="115.45" width="5.1" height="5.1" fill="#000000"/>
<rect x="644.25" y="112.85" width="5.1" height="5.1" fill="#000000"/>
<rect x="657.65" y="105.45" width="5.1" height="5.1" fill="#000000"/>
<rect x="671.05" y="96.25" width="5.1" height="5.1" fill="#000000"/>
<rect x="684.45" y="86.25" width="5.1" height="5.1" fill="#000000"/>
<rect x="697.85" y="75.45" width="5.1" height="5.1" fill="#000000"/>
<rect x="711.25" y="64.05" width="5.1" height="5.1" fill="#000000"/>
<rect x="724.65" y="53.05" width="5.1" height="5.1" fill="#000000"/>
<rect x="738.05" y="42.85" width="5.1" height="5.1" fill="#000000"/>
<rect x="751.45" y="33.85" width="5.1" height="5.1" fill="#000000"/>
<rect x="764.85" y="26.85" width="5.1" height="5.1" fill="#000000"/>
<rect x="778.25" y="23.05" width="5.1" height="5.1" fill="#000000"/>
<rect x="791.65" y="22.65" width="5.1" height="5.1" fill="#000000"/>
<rect x="805.05" y="14.25" width="5.1" height="5.1" fill="#000000"/>
<rect x="818.45" y="13.75" width="5.1" height="5.1" fill="#000000"/>
<path clip-path="url(#c5)" d="M606.6 154.5V159.5M603.6 154.5H609.6M603.6 159.5H609.6" stroke="#0000cc" stroke-width="0.75" fill="none"/>
<path clip-path="url(#c5)" d="M620 208.4V212.8M617 208.4H623M617 212.8H623" stroke="#0000cc" stroke-width="0.75" fill="none"/>
<path clip-path="url(#c5)" d="M633.4 241.2V246M630.4 241.2H636.4M630.4 246H636.4" stroke="#0000cc" stroke-width="0.75" fill="none"/>
<path clip-path="url(#c5)" d="M646.8 250.6V255.4M643.8 250.6H649.8M643.8 255.4H649.8" stroke="#0000cc" stroke-width="0.75" fill="none"/>
<path clip-path="url(#c5)" d="M660.2 237V241.8M657.2 237H663.2M657.2 241.8H663.2" stroke="#0000cc" stroke-width="0.75" fill="none"/>
<path clip-path="url(#c5)" d="M673.6 209.8V214.2M670.6 209.8H676.6M670.6 214.2H676.6" stroke="#0000cc" stroke-width="0.75" fill="none"/>
<path clip-path="url(#c5)" d="M687 178.5V182.5M684 178.5H690M684 182.5H690" stroke="#0000cc" stroke-width="0.75" fill="none"/>
<path clip-path="url(#c5)" d="M700.4 147.8V151.4M697.4 147.8H703.4M697.4 151.4H703.4" stroke="#0000cc" stroke-width="0.75" fill="none"/>
<path clip-path="url(#c5)" d="M713.8 120.8V124M710.8 120.8H716.8M710.8 124H716.8" stroke="#0000cc" stroke-width="0.75" fill="none"/>
<path clip-path="url(#c5)" d="M727.2 96.1V98.9M724.2 96.1H730.2M724.2 98.9H730.2" stroke="#0000cc" stroke-width="0.75" fill="none"/>
<path clip-path="url(#c5)" d="M740.6 75V77M737.6 75H743.6M737.6 77H743.6" stroke="#0000cc" stroke-width="0.75" fill="none"/>
<path clip-path="url(#c5)" d="M754 56.6V58.6M751 56.6H757M751 58.6H757" stroke="#0000cc" stroke-width="0.75" fill="none"/>
<path clip-path="url(#c5)" d="M767.4 41.8V43.8M764.4 41.8H770.4M764.4 43.8H770.4" stroke="#0000cc" stroke-width="0.75" fill="none"/>
<path clip-path="url(#c5)" d="M780.8 34.2V36.2M777.8 34.2H783.8M777.8 36.2H783.8" stroke="#0000cc" stroke-width="0.75" fill="none"/>
<path clip-path="url(#c5)" d="M794.2 29.7V31.7M791.2 29.7H797.2M791.2 31.7H797.2" stroke="#0000cc" stroke-width="0.75" fill="none"/>
<path clip-path="url(#c5)" d="M807.6 15.8V17.8M804.6 15.8H810.6M804.6 17.8H810.6" stroke="#0000cc" stroke-width="0.75" fill="none"/>
<path clip-path="url(#c5)" d="M821 12.4V14.4M818 12.4H824M818 14.4H824" stroke="#0000cc" stroke-width="0.75" fill="none"/>
<circle cx="606.6" cy="157" r="2.65" fill="#0000cc"/>
<circle cx="620" cy="210.6" r="2.65" fill="#0000cc"/>
<circle cx="633.4" cy="243.6" r="2.65" fill="#0000cc"/>
<circle cx="646.8" cy="253" r="2.65" fill="#0000cc"/>
<circle cx="660.2" cy="239.4" r="2.65" fill="#0000cc"/>
<circle cx="673.6" cy="212" r="2.65" fill="#0000cc"/>
<circle cx="687" cy="180.5" r="2.65" fill="#0000cc"/>
<circle cx="700.4" cy="149.6" r="2.65" fill="#0000cc"/>
<circle cx="713.8" cy="122.4" r="2.65" fill="#0000cc"/>
<circle cx="727.2" cy="97.5" r="2.65" fill="#0000cc"/>
<circle cx="740.6" cy="76" r="2.65" fill="#0000cc"/>
<circle cx="754" cy="57.6" r="2.65" fill="#0000cc"/>
<circle cx="767.4" cy="42.8" r="2.65" fill="#0000cc"/>
<circle cx="780.8" cy="35.2" r="2.65" fill="#0000cc"/>
<circle cx="794.2" cy="30.7" r="2.65" fill="#0000cc"/>
<circle cx="807.6" cy="16.8" r="2.65" fill="#0000cc"/>
<circle cx="821" cy="13.4" r="2.65" fill="#0000cc"/>
<path clip-path="url(#c5)" d="M606.6 115.4V119.4M603.6 115.4H609.6M603.6 119.4H609.6" stroke="#008000" stroke-width="0.75" fill="none"/>
<path clip-path="url(#c5)" d="M620 205V211M617 205H623M617 211H623" stroke="#008000" stroke-width="0.75" fill="none"/>
<path clip-path="url(#c5)" d="M633.4 277.5V283.5M630.4 277.5H636.4M630.4 283.5H636.4" stroke="#008000" stroke-width="0.75" fill="none"/>
<path clip-path="url(#c5)" d="M646.8 318.6V325.4M643.8 318.6H649.8M643.8 325.4H649.8" stroke="#008000" stroke-width="0.75" fill="none"/>
<path clip-path="url(#c5)" d="M660.2 320.8V327.2M657.2 320.8H663.2M657.2 327.2H663.2" stroke="#008000" stroke-width="0.75" fill="none"/>
<path clip-path="url(#c5)" d="M673.6 292.8V298.4M670.6 292.8H676.6M670.6 298.4H676.6" stroke="#008000" stroke-width="0.75" fill="none"/>
<path clip-path="url(#c5)" d="M687 249.4V253.4M684 249.4H690M684 253.4H690" stroke="#008000" stroke-width="0.75" fill="none"/>
<path clip-path="url(#c5)" d="M700.4 203V206.2M697.4 203H703.4M697.4 206.2H703.4" stroke="#008000" stroke-width="0.75" fill="none"/>
<path clip-path="url(#c5)" d="M713.8 161.4V163.8M710.8 161.4H716.8M710.8 163.8H716.8" stroke="#008000" stroke-width="0.75" fill="none"/>
<path clip-path="url(#c5)" d="M727.2 126.2V128.6M724.2 126.2H730.2M724.2 128.6H730.2" stroke="#008000" stroke-width="0.75" fill="none"/>
<path clip-path="url(#c5)" d="M740.6 96V98.4M737.6 96H743.6M737.6 98.4H743.6" stroke="#008000" stroke-width="0.75" fill="none"/>
<path clip-path="url(#c5)" d="M754 70.4V72.8M751 70.4H757M751 72.8H757" stroke="#008000" stroke-width="0.75" fill="none"/>
<path clip-path="url(#c5)" d="M767.4 50.8V53.2M764.4 50.8H770.4M764.4 53.2H770.4" stroke="#008000" stroke-width="0.75" fill="none"/>
<path clip-path="url(#c5)" d="M780.8 40.3V42.7M777.8 40.3H783.8M777.8 42.7H783.8" stroke="#008000" stroke-width="0.75" fill="none"/>
<path clip-path="url(#c5)" d="M794.2 32.4V34.8M791.2 32.4H797.2M791.2 34.8H797.2" stroke="#008000" stroke-width="0.75" fill="none"/>
<path clip-path="url(#c5)" d="M807.6 15.4V17.8M804.6 15.4H810.6M804.6 17.8H810.6" stroke="#008000" stroke-width="0.75" fill="none"/>
<path clip-path="url(#c5)" d="M821 7.4V11.4M818 7.4H824M818 11.4H824" stroke="#008000" stroke-width="0.75" fill="none"/>
<polygon points="606.6,114.55 603.95,118.85 609.25,118.85" fill="#008000"/>
<polygon points="620,205.15 617.35,209.45 622.65,209.45" fill="#008000"/>
<polygon points="633.4,277.65 630.75,281.95 636.05,281.95" fill="#008000"/>
<polygon points="646.8,319.15 644.15,323.45 649.45,323.45" fill="#008000"/>
<polygon points="660.2,321.15 657.55,325.45 662.85,325.45" fill="#008000"/>
<polygon points="673.6,292.75 670.95,297.05 676.25,297.05" fill="#008000"/>
<polygon points="687,248.55 684.35,252.85 689.65,252.85" fill="#008000"/>
<polygon points="700.4,201.75 697.75,206.05 703.05,206.05" fill="#008000"/>
<polygon points="713.8,159.75 711.15,164.05 716.45,164.05" fill="#008000"/>
<polygon points="727.2,124.55 724.55,128.85 729.85,128.85" fill="#008000"/>
<polygon points="740.6,94.35 737.95,98.65 743.25,98.65" fill="#008000"/>
<polygon points="754,68.75 751.35,73.05 756.65,73.05" fill="#008000"/>
<polygon points="767.4,49.15 764.75,53.45 770.05,53.45" fill="#008000"/>
<polygon points="780.8,38.65 778.15,42.95 783.45,42.95" fill="#008000"/>
<polygon points="794.2,30.75 791.55,35.05 796.85,35.05" fill="#008000"/>
<polygon points="807.6,13.75 804.95,18.05 810.25,18.05" fill="#008000"/>
<polygon points="821,6.55 818.35,10.85 823.65,10.85" fill="#008000"/>
<path clip-path="url(#c5)" d="M620 100.6V106.6M617 100.6H623M617 106.6H623" stroke="#cc0000" stroke-width="0.75" fill="none"/>
<path clip-path="url(#c5)" d="M633.4 269.5V276.5M630.4 269.5H636.4M630.4 276.5H636.4" stroke="#cc0000" stroke-width="0.75" fill="none"/>
<path clip-path="url(#c5)" d="M646.8 374.6V382.6M643.8 374.6H649.8M643.8 382.6H649.8" stroke="#cc0000" stroke-width="0.75" fill="none"/>
<path clip-path="url(#c5)" d="M660.2 405.6V413.6M657.2 405.6H663.2M657.2 413.6H663.2" stroke="#cc0000" stroke-width="0.75" fill="none"/>
<path clip-path="url(#c5)" d="M673.6 376V382.8M670.6 376H676.6M670.6 382.8H676.6" stroke="#cc0000" stroke-width="0.75" fill="none"/>
<path clip-path="url(#c5)" d="M687 313.2V319.6M684 313.2H690M684 319.6H690" stroke="#cc0000" stroke-width="0.75" fill="none"/>
<path clip-path="url(#c5)" d="M700.4 245.7V251.1M697.4 245.7H703.4M697.4 251.1H703.4" stroke="#cc0000" stroke-width="0.75" fill="none"/>
<path clip-path="url(#c5)" d="M713.8 188.4V191.6M710.8 188.4H716.8M710.8 191.6H716.8" stroke="#cc0000" stroke-width="0.75" fill="none"/>
<path clip-path="url(#c5)" d="M727.2 143.2V145.6M724.2 143.2H730.2M724.2 145.6H730.2" stroke="#cc0000" stroke-width="0.75" fill="none"/>
<path clip-path="url(#c5)" d="M740.6 107.8V110.2M737.6 107.8H743.6M737.6 110.2H743.6" stroke="#cc0000" stroke-width="0.75" fill="none"/>
<path clip-path="url(#c5)" d="M754 78.8V81.2M751 78.8H757M751 81.2H757" stroke="#cc0000" stroke-width="0.75" fill="none"/>
<path clip-path="url(#c5)" d="M767.4 57V59.4M764.4 57H770.4M764.4 59.4H770.4" stroke="#cc0000" stroke-width="0.75" fill="none"/>
<path clip-path="url(#c5)" d="M780.8 45.4V47.8M777.8 45.4H783.8M777.8 47.8H783.8" stroke="#cc0000" stroke-width="0.75" fill="none"/>
<path clip-path="url(#c5)" d="M794.2 34.6V37M791.2 34.6H797.2M791.2 37H797.2" stroke="#cc0000" stroke-width="0.75" fill="none"/>
<path clip-path="url(#c5)" d="M807.6 15.6V18M804.6 15.6H810.6M804.6 18H810.6" stroke="#cc0000" stroke-width="0.75" fill="none"/>
<path clip-path="url(#c5)" d="M821 4.9V9.9M818 4.9H824M818 9.9H824" stroke="#cc0000" stroke-width="0.75" fill="none"/>
<polygon points="620,106.45 617.35,102.15 622.65,102.15" fill="#cc0000"/>
<polygon points="633.4,275.85 630.75,271.55 636.05,271.55" fill="#cc0000"/>
<polygon points="646.8,381.45 644.15,377.15 649.45,377.15" fill="#cc0000"/>
<polygon points="660.2,412.45 657.55,408.15 662.85,408.15" fill="#cc0000"/>
<polygon points="673.6,382.25 670.95,377.95 676.25,377.95" fill="#cc0000"/>
<polygon points="687,319.25 684.35,314.95 689.65,314.95" fill="#cc0000"/>
<polygon points="700.4,251.25 697.75,246.95 703.05,246.95" fill="#cc0000"/>
<polygon points="713.8,192.85 711.15,188.55 716.45,188.55" fill="#cc0000"/>
<polygon points="727.2,147.25 724.55,142.95 729.85,142.95" fill="#cc0000"/>
<polygon points="740.6,111.85 737.95,107.55 743.25,107.55" fill="#cc0000"/>
<polygon points="754,82.85 751.35,78.55 756.65,78.55" fill="#cc0000"/>
<polygon points="767.4,61.05 764.75,56.75 770.05,56.75" fill="#cc0000"/>
<polygon points="780.8,49.45 778.15,45.15 783.45,45.15" fill="#cc0000"/>
<polygon points="794.2,38.65 791.55,34.35 796.85,34.35" fill="#cc0000"/>
<polygon points="807.6,19.65 804.95,15.35 810.25,15.35" fill="#cc0000"/>
<polygon points="821,10.25 818.35,5.95 823.65,5.95" fill="#cc0000"/>
</g>
<g>
<text x="163.4" y="21" font-size="13.33" text-anchor="middle">sim</text>
<text x="202.7" y="21" font-size="13.33" text-anchor="middle">linear</text>
<text x="254.9" y="21" font-size="13.33" text-anchor="middle">model</text>
<text x="142.7" y="35.9" font-size="13.33" text-anchor="end">z=2</text>
<polygon points="163.5,34.25 160.85,29.95 166.15,29.95" fill="#000000"/>
<line x1="183" y1="31.4" x2="224.5" y2="31.4" stroke="#000000" stroke-width="0.6" stroke-dasharray="2.1 2.7"/>
<line x1="233" y1="31.4" x2="275" y2="31.4" stroke="#000000" stroke-width="0.85"/>
<text x="142.7" y="49.8" font-size="13.33" text-anchor="end">1</text>
<polygon points="163.5,42.45 160.85,46.75 166.15,46.75" fill="#0000cc"/>
<line x1="183" y1="45.3" x2="224.5" y2="45.3" stroke="#0000cc" stroke-width="0.6" stroke-dasharray="2.1 2.7"/>
<line x1="233" y1="45.3" x2="275" y2="45.3" stroke="#0000cc" stroke-width="0.85"/>
<text x="142.7" y="63.8" font-size="13.33" text-anchor="end">0.5</text>
<circle cx="163.5" cy="59.3" r="2.65" fill="#008000"/>
<line x1="183" y1="59.3" x2="224.5" y2="59.3" stroke="#008000" stroke-width="0.6" stroke-dasharray="2.1 2.7"/>
<line x1="233" y1="59.3" x2="275" y2="59.3" stroke="#008000" stroke-width="0.85"/>
<text x="142.7" y="77.8" font-size="13.33" text-anchor="end">0</text>
<rect x="160.95" y="70.75" width="5.1" height="5.1" fill="#cc0000"/>
<line x1="183" y1="73.3" x2="224.5" y2="73.3" stroke="#cc0000" stroke-width="0.6" stroke-dasharray="2.1 2.7"/>
<line x1="233" y1="73.3" x2="275" y2="73.3" stroke="#cc0000" stroke-width="0.85"/>
</g>
<g>
<text x="434.6" y="21" font-size="13.33" text-anchor="middle">sim</text>
<text x="473.9" y="21" font-size="13.33" text-anchor="middle">linear</text>
<text x="526.1" y="21" font-size="13.33" text-anchor="middle">model</text>
<text x="413.9" y="35.9" font-size="13.33" text-anchor="end">z=2</text>
<polygon points="434.7,34.25 432.05,29.95 437.35,29.95" fill="#000000"/>
<line x1="454.2" y1="31.4" x2="495.7" y2="31.4" stroke="#000000" stroke-width="0.6" stroke-dasharray="2.1 2.7"/>
<line x1="504.2" y1="31.4" x2="546.2" y2="31.4" stroke="#000000" stroke-width="0.85"/>
<text x="413.9" y="49.8" font-size="13.33" text-anchor="end">1</text>
<polygon points="434.7,42.45 432.05,46.75 437.35,46.75" fill="#0000cc"/>
<line x1="454.2" y1="45.3" x2="495.7" y2="45.3" stroke="#0000cc" stroke-width="0.6" stroke-dasharray="2.1 2.7"/>
<line x1="504.2" y1="45.3" x2="546.2" y2="45.3" stroke="#0000cc" stroke-width="0.85"/>
<text x="413.9" y="63.8" font-size="13.33" text-anchor="end">0.5</text>
<circle cx="434.7" cy="59.3" r="2.65" fill="#008000"/>
<line x1="454.2" y1="59.3" x2="495.7" y2="59.3" stroke="#008000" stroke-width="0.6" stroke-dasharray="2.1 2.7"/>
<line x1="504.2" y1="59.3" x2="546.2" y2="59.3" stroke="#008000" stroke-width="0.85"/>
<text x="413.9" y="77.8" font-size="13.33" text-anchor="end">0</text>
<rect x="432.15" y="70.75" width="5.1" height="5.1" fill="#cc0000"/>
<line x1="454.2" y1="73.3" x2="495.7" y2="73.3" stroke="#cc0000" stroke-width="0.6" stroke-dasharray="2.1 2.7"/>
<line x1="504.2" y1="73.3" x2="546.2" y2="73.3" stroke="#cc0000" stroke-width="0.85"/>
</g>
<text x="147.7" y="241" font-size="13.33" text-anchor="middle">real space</text>
<text x="430" y="241" font-size="13.33" text-anchor="middle">redshift space</text>
<text x="48.4" y="42.3" font-size="13.33" text-anchor="end">100</text>
<text x="48.4" y="159.3" font-size="13.33" text-anchor="end">10</text>
<text x="48.4" y="276.3" font-size="13.33" text-anchor="end">1</text>
<text x="48.4" y="314.1" font-size="13.33" text-anchor="end">2</text>
<text x="48.4" y="377.25" font-size="13.33" text-anchor="end">1.5</text>
<text x="48.4" y="440.4" font-size="13.33" text-anchor="end">1</text>
<text x="319.4" y="42.3" font-size="13.33" text-anchor="end">100</text>
<text x="319.4" y="159.3" font-size="13.33" text-anchor="end">10</text>
<text x="319.4" y="276.3" font-size="13.33" text-anchor="end">1</text>
<text x="319.4" y="314.1" font-size="13.33" text-anchor="end">2</text>
<text x="319.4" y="377.25" font-size="13.33" text-anchor="end">1.5</text>
<text x="319.4" y="440.4" font-size="13.33" text-anchor="end">1</text>
<text x="58.6" y="485.4" font-size="13.33" text-anchor="middle">1</text>
<text x="157.7" y="485.4" font-size="13.33" text-anchor="middle">10</text>
<text x="256.8" y="485.4" font-size="13.33" text-anchor="middle">100</text>
<text x="329.6" y="485.4" font-size="13.33" text-anchor="middle">1</text>
<text x="428.9" y="485.4" font-size="13.33" text-anchor="middle">10</text>
<text x="528.2" y="485.4" font-size="13.33" text-anchor="middle">100</text>
<text x="655.2" y="485.4" font-size="13.33" text-anchor="middle">10</text>
<text x="789.3" y="485.4" font-size="13.33" text-anchor="middle">100</text>
<text x="591.2" y="22.41" font-size="13.33" text-anchor="end">1</text>
<text x="591.2" y="172.24" font-size="13.33" text-anchor="end">0.9</text>
<text x="591.2" y="322.07" font-size="13.33" text-anchor="end">0.8</text>
<text x="591.2" y="471.9" font-size="13.33" text-anchor="end">0.7</text>
<text x="141.3" y="507.5" font-size="13.33">r [h<tspan dy="-6.5" font-size="10.67">-<tspan dx="0.8">1</tspan></tspan><tspan dy="6.5" dx="0.3">Mpc]</tspan></text>
<text x="412.3" y="507.5" font-size="13.33">r [h<tspan dy="-6.5" font-size="10.67">-<tspan dx="0.8">1</tspan></tspan><tspan dy="6.5" dx="0.3">Mpc]</tspan></text>
<text x="684.3" y="507.5" font-size="13.33">r [h<tspan dy="-6.5" font-size="10.67">-<tspan dx="0.8">1</tspan></tspan><tspan dy="6.5" dx="0.3">Mpc]</tspan></text>
<g transform="translate(26.4,190.6) rotate(-90)">
<text x="0" y="0" font-size="13.33">ξ</text>
<text x="6.6" y="-6.2" font-size="10.67">r,mm</text>
<text x="6.6" y="3.6" font-size="10.67">11</text>
<text x="33" y="0" font-size="13.33">(r) [h<tspan dy="-6.6" font-size="10.67">-2</tspan><tspan dy="6.6">Mpc</tspan><tspan dy="-6.6" font-size="10.67">2</tspan><tspan dy="6.6">]</tspan></text>
</g>
<g transform="translate(299.6,191.2) rotate(-90)">
<text x="0" y="0" font-size="13.33">ξ</text>
<text x="6.6" y="-6.2" font-size="10.67">s,mm</text>
<text x="6.6" y="3.6" font-size="10.67">11</text>
<text x="34.8" y="0" font-size="13.33">(r) [h<tspan dy="-6.6" font-size="10.67">-2</tspan><tspan dy="6.6">Mpc</tspan><tspan dy="-6.6" font-size="10.67">2</tspan><tspan dy="6.6">]</tspan></text>
</g>
<g transform="translate(26.4,417.2) rotate(-90)">
<text x="0" y="0" font-size="13.33">ξ</text>
<text x="6.6" y="-6.2" font-size="10.67">r,mm</text>
<text x="6.6" y="3.8" font-size="10.67">11</text>
<text x="30.6" y="0" font-size="13.33">(r)</text>
<text x="43.9" y="0" font-size="13.33">/</text>
<text x="47.6" y="0" font-size="13.33">ξ</text>
<text x="54.8" y="-6.2" font-size="10.67">r,mm</text>
<text x="54.8" y="3.8" font-size="10.67">11,lin</text>
<text x="81.4" y="0" font-size="13.33">(r)</text>
</g>
<g transform="translate(299.9,418.4) rotate(-90)">
<text x="0" y="0" font-size="13.33">ξ</text>
<text x="6.6" y="-6.2" font-size="10.67">s,mm</text>
<text x="6.6" y="3.8" font-size="10.67">11</text>
<text x="32.8" y="0" font-size="13.33">(r)</text>
<text x="46.1" y="0" font-size="13.33">/</text>
<text x="49.8" y="0" font-size="13.33">ξ</text>
<text x="57" y="-6.2" font-size="10.67">s,mm</text>
<text x="57" y="3.8" font-size="10.67">11,lin</text>
<text x="82.8" y="0" font-size="13.33">(r)</text>
</g>
<g transform="translate(573.6,283.7) rotate(-90)">
<text x="0" y="0" font-size="13.33">ξ</text>
<text x="7.3" y="-6.6" font-size="10.67">s,mm</text>
<text x="6.5" y="3.8" font-size="10.67">11</text>
<text x="33.3" y="0" font-size="13.33">(r)</text>
<text x="47.7" y="0" font-size="13.33">/</text>
<text x="52.5" y="0" font-size="13.33">ξ</text>
<text x="58.1" y="-6.6" font-size="10.67">r,mm</text>
<text x="59.7" y="3.8" font-size="10.67">11</text>
<text x="82.1" y="0" font-size="13.33">(r)</text>
</g>
</svg>
</body>
</html>
